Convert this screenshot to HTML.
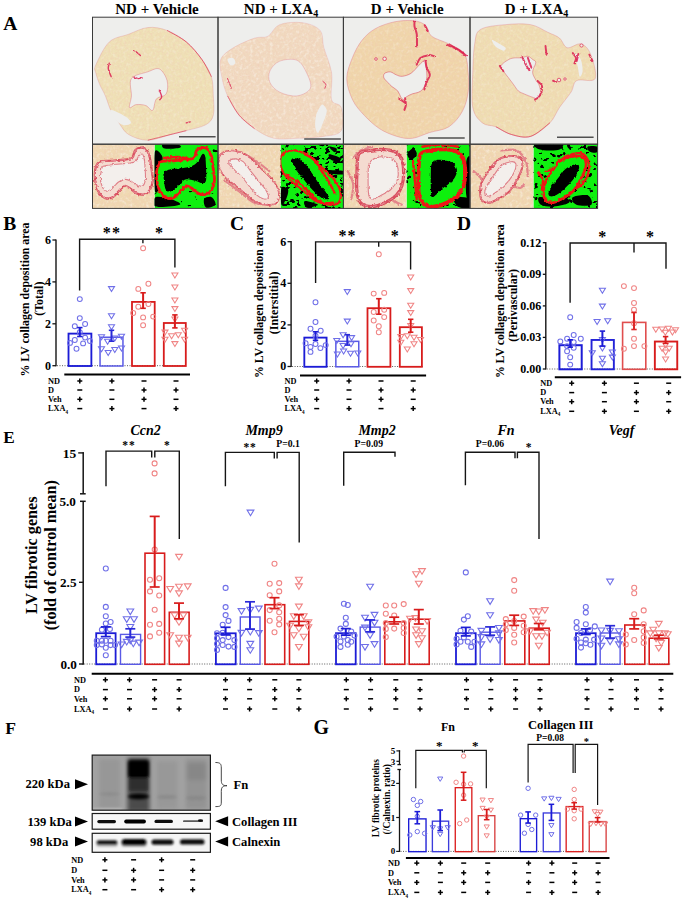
<!DOCTYPE html><html><head><meta charset="utf-8"><style>html,body{margin:0;padding:0;background:#fff;}svg{display:block;}text{font-family:"Liberation Serif",serif;}</style></head><body>
<svg width="685" height="899" viewBox="0 0 685 899">
<rect width="685" height="899" fill="#fff"/>
<text x="3.2" y="30" font-size="19.5" font-weight="bold" font-style="normal" text-anchor="start" fill="#000" >A</text>
<text x="157" y="13.9" font-size="15" font-weight="bold" font-style="normal" text-anchor="middle" fill="#000" >ND + Vehicle</text>
<text x="281" y="13.9" font-size="15" font-weight="bold" text-anchor="middle">ND + LXA<tspan font-size="10" dy="2.9">4</tspan></text>
<text x="407.2" y="13.9" font-size="15" font-weight="bold" font-style="normal" text-anchor="middle" fill="#000" >D + Vehicle</text>
<text x="536.5" y="13.9" font-size="15" font-weight="bold" text-anchor="middle">D + LXA<tspan font-size="10" dy="2.9">4</tspan></text>
<defs><clipPath id="cA"><rect x="92.5" y="17.2" width="505.1" height="191.2"/></clipPath></defs>
<g clip-path="url(#cA)">
<rect x="92.5" y="17.2" width="125.5" height="127" fill="#eeeeec"/>
<rect x="218" y="17.2" width="125.4" height="127" fill="#eeeeec"/>
<rect x="343.4" y="17.2" width="126.6" height="127" fill="#eeeeec"/>
<rect x="470" y="17.2" width="127.6" height="127" fill="#eeeeec"/>
<defs><filter id="mottA" x="0" y="0" width="100%" height="100%" filterUnits="objectBoundingBox"><feTurbulence type="fractalNoise" baseFrequency="0.45" numOctaves="2" seed="4"/><feColorMatrix type="matrix" values="0 0 0 0 0.88  0 0 0 0 0.55  0 0 0 0 0.45  1.6 0 0 0 -0.62"/></filter>
<filter id="mottW" x="0" y="0" width="100%" height="100%" filterUnits="objectBoundingBox"><feTurbulence type="fractalNoise" baseFrequency="0.3" numOctaves="2" seed="9"/><feColorMatrix type="matrix" values="0 0 0 0 1  0 0 0 0 1  0 0 0 0 0.98  2.2 0 0 0 -1.05"/></filter></defs>
<clipPath id="to0"><path d="M95.78 65.1 C98.03 59.96 103.81 47.11 109.27 41.97 C114.73 36.84 122.11 36.68 128.54 34.27 C134.96 31.86 141.38 28.17 147.8 27.52 C154.23 26.88 160.65 28.01 167.07 30.41 C173.49 32.82 180.56 37.16 186.34 41.97 C192.12 46.79 197.58 53.54 201.75 59.32 C205.93 65.1 209.46 70.56 211.39 76.66 C213.31 82.76 212.99 89.5 213.31 95.92 C213.64 102.35 214.6 110.38 213.31 115.19 C212.03 120.01 210.1 122.26 205.61 124.83 C201.11 127.4 192.12 129 186.34 130.61 C180.56 132.21 177.35 132.85 170.92 134.46 C164.5 136.07 154.87 140.24 147.8 140.24 C140.74 140.24 133.35 137.35 128.54 134.46 C123.72 131.57 121.79 126.75 118.9 122.9 C116.01 119.05 113.44 115.83 111.19 111.34 C108.95 106.84 107.34 100.42 105.41 95.92 C103.49 91.43 101.24 88.22 99.63 84.36 C98.03 80.51 96.42 76.01 95.78 72.8 C95.14 69.59 93.53 70.23 95.78 65.1 Z"/></clipPath>
<path d="M95.78 65.1 C98.03 59.96 103.81 47.11 109.27 41.97 C114.73 36.84 122.11 36.68 128.54 34.27 C134.96 31.86 141.38 28.17 147.8 27.52 C154.23 26.88 160.65 28.01 167.07 30.41 C173.49 32.82 180.56 37.16 186.34 41.97 C192.12 46.79 197.58 53.54 201.75 59.32 C205.93 65.1 209.46 70.56 211.39 76.66 C213.31 82.76 212.99 89.5 213.31 95.92 C213.64 102.35 214.6 110.38 213.31 115.19 C212.03 120.01 210.1 122.26 205.61 124.83 C201.11 127.4 192.12 129 186.34 130.61 C180.56 132.21 177.35 132.85 170.92 134.46 C164.5 136.07 154.87 140.24 147.8 140.24 C140.74 140.24 133.35 137.35 128.54 134.46 C123.72 131.57 121.79 126.75 118.9 122.9 C116.01 119.05 113.44 115.83 111.19 111.34 C108.95 106.84 107.34 100.42 105.41 95.92 C103.49 91.43 101.24 88.22 99.63 84.36 C98.03 80.51 96.42 76.01 95.78 72.8 C95.14 69.59 93.53 70.23 95.78 65.1 Z" fill="#efe1b6"/>
<g clip-path="url(#to0)"><rect x="92.5" y="17.2" width="125.5" height="127" filter="url(#mottA)" opacity="0.45"/><rect x="92.5" y="17.2" width="125.5" height="127" filter="url(#mottW)" opacity="0.3"/></g>
<path d="M95.78 65.1 C98.03 59.96 103.81 47.11 109.27 41.97 C114.73 36.84 122.11 36.68 128.54 34.27 C134.96 31.86 141.38 28.17 147.8 27.52 C154.23 26.88 160.65 28.01 167.07 30.41 C173.49 32.82 180.56 37.16 186.34 41.97 C192.12 46.79 197.58 53.54 201.75 59.32 C205.93 65.1 209.46 70.56 211.39 76.66 C213.31 82.76 212.99 89.5 213.31 95.92 C213.64 102.35 214.6 110.38 213.31 115.19 C212.03 120.01 210.1 122.26 205.61 124.83 C201.11 127.4 192.12 129 186.34 130.61 C180.56 132.21 177.35 132.85 170.92 134.46 C164.5 136.07 154.87 140.24 147.8 140.24 C140.74 140.24 133.35 137.35 128.54 134.46 C123.72 131.57 121.79 126.75 118.9 122.9 C116.01 119.05 113.44 115.83 111.19 111.34 C108.95 106.84 107.34 100.42 105.41 95.92 C103.49 91.43 101.24 88.22 99.63 84.36 C98.03 80.51 96.42 76.01 95.78 72.8 C95.14 69.59 93.53 70.23 95.78 65.1 Z" fill="none" stroke="#e07a8a" stroke-width="0.8" stroke-opacity="0.35"/>
<path d="M131.43 78.58 C134.16 74.57 143.15 73.45 147.8 71.84 C152.46 70.23 156.15 67.5 159.36 68.95 C162.58 70.39 165.95 76.34 167.07 80.51 C168.2 84.69 167.87 90.95 166.11 94 C164.34 97.05 158.72 96.09 156.47 98.82 C154.23 101.54 154.39 109.25 152.62 110.38 C150.85 111.5 148.61 106.52 145.88 105.56 C143.15 104.6 138.97 104.27 136.24 104.6 C133.51 104.92 130.3 108.93 129.5 107.49 C128.7 106.04 131.1 100.74 131.43 95.92 C131.75 91.11 128.7 82.6 131.43 78.58 Z" fill="#eeeeec" stroke="#d8405a" stroke-width="0.9" stroke-opacity="0.35"/>
<clipPath id="to1"><path d="M220.82 59.32 C222.74 54.5 227.72 51.29 233.34 47.76 C238.96 44.22 248.76 40.05 254.54 38.12 C260.32 36.19 263.85 38.44 268.02 36.19 C272.2 33.95 273.8 26.88 279.58 24.63 C285.36 22.39 295.96 21.74 302.71 22.71 C309.45 23.67 316.51 26.24 320.05 30.41 C323.58 34.59 321.97 40.69 323.9 47.76 C325.83 54.82 330.32 64.13 331.61 72.8 C332.89 81.47 330 94 331.61 99.78 C333.21 105.56 339.64 102.35 341.24 107.49 C342.85 112.62 344.13 125.79 341.24 130.61 C338.35 135.42 331.29 135.1 323.9 136.39 C316.51 137.67 305.27 137.99 296.92 138.31 C288.58 138.64 280.87 139.92 273.8 138.31 C266.74 136.71 260.32 132.53 254.54 128.68 C248.76 124.83 243.62 120.65 239.12 115.19 C234.63 109.73 230.45 102.35 227.56 95.92 C224.67 89.5 222.9 82.76 221.78 76.66 C220.66 70.56 218.89 64.13 220.82 59.32 Z"/></clipPath>
<path d="M220.82 59.32 C222.74 54.5 227.72 51.29 233.34 47.76 C238.96 44.22 248.76 40.05 254.54 38.12 C260.32 36.19 263.85 38.44 268.02 36.19 C272.2 33.95 273.8 26.88 279.58 24.63 C285.36 22.39 295.96 21.74 302.71 22.71 C309.45 23.67 316.51 26.24 320.05 30.41 C323.58 34.59 321.97 40.69 323.9 47.76 C325.83 54.82 330.32 64.13 331.61 72.8 C332.89 81.47 330 94 331.61 99.78 C333.21 105.56 339.64 102.35 341.24 107.49 C342.85 112.62 344.13 125.79 341.24 130.61 C338.35 135.42 331.29 135.1 323.9 136.39 C316.51 137.67 305.27 137.99 296.92 138.31 C288.58 138.64 280.87 139.92 273.8 138.31 C266.74 136.71 260.32 132.53 254.54 128.68 C248.76 124.83 243.62 120.65 239.12 115.19 C234.63 109.73 230.45 102.35 227.56 95.92 C224.67 89.5 222.9 82.76 221.78 76.66 C220.66 70.56 218.89 64.13 220.82 59.32 Z" fill="#f1dac0"/>
<g clip-path="url(#to1)"><rect x="218" y="17.2" width="125.4" height="127" filter="url(#mottA)" opacity="0.45"/><rect x="218" y="17.2" width="125.4" height="127" filter="url(#mottW)" opacity="0.5"/></g>
<path d="M220.82 59.32 C222.74 54.5 227.72 51.29 233.34 47.76 C238.96 44.22 248.76 40.05 254.54 38.12 C260.32 36.19 263.85 38.44 268.02 36.19 C272.2 33.95 273.8 26.88 279.58 24.63 C285.36 22.39 295.96 21.74 302.71 22.71 C309.45 23.67 316.51 26.24 320.05 30.41 C323.58 34.59 321.97 40.69 323.9 47.76 C325.83 54.82 330.32 64.13 331.61 72.8 C332.89 81.47 330 94 331.61 99.78 C333.21 105.56 339.64 102.35 341.24 107.49 C342.85 112.62 344.13 125.79 341.24 130.61 C338.35 135.42 331.29 135.1 323.9 136.39 C316.51 137.67 305.27 137.99 296.92 138.31 C288.58 138.64 280.87 139.92 273.8 138.31 C266.74 136.71 260.32 132.53 254.54 128.68 C248.76 124.83 243.62 120.65 239.12 115.19 C234.63 109.73 230.45 102.35 227.56 95.92 C224.67 89.5 222.9 82.76 221.78 76.66 C220.66 70.56 218.89 64.13 220.82 59.32 Z" fill="none" stroke="#e07a8a" stroke-width="0.8" stroke-opacity="0.25"/>
<path d="M269.95 70.88 C271.56 67.34 275.09 63.01 279.58 61.24 C284.08 59.48 292.43 58.35 296.92 60.28 C301.42 62.21 304.31 68.15 306.56 72.8 C308.81 77.46 312.02 84.36 310.41 88.22 C308.81 92.07 302.06 95.28 296.92 95.92 C291.79 96.57 284.08 94.32 279.58 92.07 C275.09 89.82 271.56 85.97 269.95 82.44 C268.34 78.9 268.34 74.41 269.95 70.88 Z" fill="#eeeeec" stroke="#d8405a" stroke-width="0.9" stroke-opacity="0.25"/>
<clipPath id="to2"><path d="M346.78 78.58 C346.78 71.52 349.99 63.81 352.56 57.39 C355.13 50.97 358.34 44.87 362.19 40.05 C366.05 35.23 370.22 31.54 375.68 28.49 C381.14 25.44 388.53 23.03 394.95 21.74 C401.37 20.46 409.08 20.14 414.22 20.78 C419.36 21.42 422.89 23.03 425.78 25.6 C428.67 28.17 427.71 33.14 431.56 36.19 C435.41 39.25 443.44 41.01 448.9 43.9 C454.36 46.79 461.1 48.72 464.31 53.54 C467.53 58.35 467.53 66.38 468.17 72.8 C468.81 79.23 469.13 85.65 468.17 92.07 C467.2 98.49 465.6 105.56 462.39 111.34 C459.18 117.12 454.36 123.22 448.9 126.75 C443.44 130.29 435.73 130.61 429.63 132.53 C423.53 134.46 417.75 137.67 412.29 138.31 C406.83 138.96 402.34 137.99 396.88 136.39 C391.42 134.78 384.99 132.21 379.54 128.68 C374.08 125.15 368.62 120.01 364.12 115.19 C359.63 110.38 355.45 105.88 352.56 99.78 C349.67 93.68 346.78 85.65 346.78 78.58 Z"/></clipPath>
<path d="M346.78 78.58 C346.78 71.52 349.99 63.81 352.56 57.39 C355.13 50.97 358.34 44.87 362.19 40.05 C366.05 35.23 370.22 31.54 375.68 28.49 C381.14 25.44 388.53 23.03 394.95 21.74 C401.37 20.46 409.08 20.14 414.22 20.78 C419.36 21.42 422.89 23.03 425.78 25.6 C428.67 28.17 427.71 33.14 431.56 36.19 C435.41 39.25 443.44 41.01 448.9 43.9 C454.36 46.79 461.1 48.72 464.31 53.54 C467.53 58.35 467.53 66.38 468.17 72.8 C468.81 79.23 469.13 85.65 468.17 92.07 C467.2 98.49 465.6 105.56 462.39 111.34 C459.18 117.12 454.36 123.22 448.9 126.75 C443.44 130.29 435.73 130.61 429.63 132.53 C423.53 134.46 417.75 137.67 412.29 138.31 C406.83 138.96 402.34 137.99 396.88 136.39 C391.42 134.78 384.99 132.21 379.54 128.68 C374.08 125.15 368.62 120.01 364.12 115.19 C359.63 110.38 355.45 105.88 352.56 99.78 C349.67 93.68 346.78 85.65 346.78 78.58 Z" fill="#f0d6aa"/>
<g clip-path="url(#to2)"><rect x="343.4" y="17.2" width="126.6" height="127" filter="url(#mottA)" opacity="0.45"/><rect x="343.4" y="17.2" width="126.6" height="127" filter="url(#mottW)" opacity="0.3"/></g>
<path d="M346.78 78.58 C346.78 71.52 349.99 63.81 352.56 57.39 C355.13 50.97 358.34 44.87 362.19 40.05 C366.05 35.23 370.22 31.54 375.68 28.49 C381.14 25.44 388.53 23.03 394.95 21.74 C401.37 20.46 409.08 20.14 414.22 20.78 C419.36 21.42 422.89 23.03 425.78 25.6 C428.67 28.17 427.71 33.14 431.56 36.19 C435.41 39.25 443.44 41.01 448.9 43.9 C454.36 46.79 461.1 48.72 464.31 53.54 C467.53 58.35 467.53 66.38 468.17 72.8 C468.81 79.23 469.13 85.65 468.17 92.07 C467.2 98.49 465.6 105.56 462.39 111.34 C459.18 117.12 454.36 123.22 448.9 126.75 C443.44 130.29 435.73 130.61 429.63 132.53 C423.53 134.46 417.75 137.67 412.29 138.31 C406.83 138.96 402.34 137.99 396.88 136.39 C391.42 134.78 384.99 132.21 379.54 128.68 C374.08 125.15 368.62 120.01 364.12 115.19 C359.63 110.38 355.45 105.88 352.56 99.78 C349.67 93.68 346.78 85.65 346.78 78.58 Z" fill="none" stroke="#e07a8a" stroke-width="0.8" stroke-opacity="0.55"/>
<path d="M384.6 73.39 C385.69 72.42 388.49 71.69 390.44 71.93 C392.38 72.18 394.33 74.12 396.28 74.85 C398.22 75.58 399.68 76.56 402.12 76.31 C404.55 76.07 408.2 75.1 410.88 73.39 C413.55 71.69 416.23 68.04 418.18 66.09 C420.12 64.15 421.34 62.69 422.55 61.72 C423.77 60.74 424.87 59.28 425.47 60.26 C426.08 61.23 425.96 64.88 426.2 67.55 C426.45 70.23 427.06 73.64 426.93 76.31 C426.81 78.99 426.2 81.42 425.47 83.61 C424.74 85.8 423.77 87.99 422.55 89.45 C421.34 90.91 419.88 91.64 418.18 92.37 C416.47 93.1 414.28 93.1 412.34 93.83 C410.39 94.56 407.96 95.78 406.5 96.75 C405.04 97.73 404.55 99.67 403.58 99.67 C402.6 99.67 401.63 98.21 400.66 96.75 C399.68 95.29 399.2 92.62 397.74 90.91 C396.28 89.21 393.6 87.99 391.9 86.53 C390.19 85.07 388.86 83.61 387.52 82.15 C386.18 80.69 384.36 79.23 383.87 77.77 C383.38 76.31 383.5 74.37 384.6 73.39 Z" fill="#eeeeec" stroke="#d8405a" stroke-width="0.9" stroke-opacity="0.55"/>
<clipPath id="to3"><path d="M474.71 43.9 C475.99 36.68 475.35 32.66 480.49 29.45 C485.63 26.24 497.19 25.44 505.54 24.63 C513.89 23.83 523.52 23.35 530.58 24.63 C537.65 25.92 543.11 30.09 547.92 32.34 C552.74 34.59 556.27 35.55 559.49 38.12 C562.7 40.69 563.66 46.79 567.19 47.76 C570.73 48.72 576.83 42.94 580.68 43.9 C584.53 44.87 587.91 47.76 590.31 53.54 C592.72 59.32 597.38 74.09 595.13 78.58 C592.88 83.08 580.84 78.26 576.83 80.51 C572.81 82.76 573.94 87.58 571.05 92.07 C568.16 96.57 563.02 102.35 559.49 107.49 C555.95 112.62 554.67 118.08 549.85 122.9 C545.03 127.72 537.01 134.46 530.58 136.39 C524.16 138.31 517.1 136.07 511.32 134.46 C505.54 132.85 500.72 128.68 495.9 126.75 C491.08 124.83 486.27 126.11 482.41 122.9 C478.56 119.69 474.39 115.83 472.78 107.49 C471.17 99.14 472.46 83.4 472.78 72.8 C473.1 62.21 473.42 51.13 474.71 43.9 Z"/></clipPath>
<path d="M474.71 43.9 C475.99 36.68 475.35 32.66 480.49 29.45 C485.63 26.24 497.19 25.44 505.54 24.63 C513.89 23.83 523.52 23.35 530.58 24.63 C537.65 25.92 543.11 30.09 547.92 32.34 C552.74 34.59 556.27 35.55 559.49 38.12 C562.7 40.69 563.66 46.79 567.19 47.76 C570.73 48.72 576.83 42.94 580.68 43.9 C584.53 44.87 587.91 47.76 590.31 53.54 C592.72 59.32 597.38 74.09 595.13 78.58 C592.88 83.08 580.84 78.26 576.83 80.51 C572.81 82.76 573.94 87.58 571.05 92.07 C568.16 96.57 563.02 102.35 559.49 107.49 C555.95 112.62 554.67 118.08 549.85 122.9 C545.03 127.72 537.01 134.46 530.58 136.39 C524.16 138.31 517.1 136.07 511.32 134.46 C505.54 132.85 500.72 128.68 495.9 126.75 C491.08 124.83 486.27 126.11 482.41 122.9 C478.56 119.69 474.39 115.83 472.78 107.49 C471.17 99.14 472.46 83.4 472.78 72.8 C473.1 62.21 473.42 51.13 474.71 43.9 Z" fill="#efdeb2"/>
<g clip-path="url(#to3)"><rect x="470" y="17.2" width="127.6" height="127" filter="url(#mottA)" opacity="0.45"/><rect x="470" y="17.2" width="127.6" height="127" filter="url(#mottW)" opacity="0.3"/></g>
<path d="M474.71 43.9 C475.99 36.68 475.35 32.66 480.49 29.45 C485.63 26.24 497.19 25.44 505.54 24.63 C513.89 23.83 523.52 23.35 530.58 24.63 C537.65 25.92 543.11 30.09 547.92 32.34 C552.74 34.59 556.27 35.55 559.49 38.12 C562.7 40.69 563.66 46.79 567.19 47.76 C570.73 48.72 576.83 42.94 580.68 43.9 C584.53 44.87 587.91 47.76 590.31 53.54 C592.72 59.32 597.38 74.09 595.13 78.58 C592.88 83.08 580.84 78.26 576.83 80.51 C572.81 82.76 573.94 87.58 571.05 92.07 C568.16 96.57 563.02 102.35 559.49 107.49 C555.95 112.62 554.67 118.08 549.85 122.9 C545.03 127.72 537.01 134.46 530.58 136.39 C524.16 138.31 517.1 136.07 511.32 134.46 C505.54 132.85 500.72 128.68 495.9 126.75 C491.08 124.83 486.27 126.11 482.41 122.9 C478.56 119.69 474.39 115.83 472.78 107.49 C471.17 99.14 472.46 83.4 472.78 72.8 C473.1 62.21 473.42 51.13 474.71 43.9 Z" fill="none" stroke="#e07a8a" stroke-width="0.8" stroke-opacity="0.45"/>
<path d="M501.04 65.74 C501.83 63.64 506.56 60.75 508.93 59.43 C511.29 58.12 513.13 58.12 515.24 57.85 C517.34 57.59 519.44 58.12 521.55 57.85 C523.65 57.59 526.01 56.01 527.85 56.28 C529.7 56.54 531.27 58.38 532.59 59.43 C533.9 60.48 535.74 60.48 535.74 62.59 C535.74 64.69 532.59 69.16 532.59 72.05 C532.59 74.94 534.69 77.83 535.74 79.94 C536.79 82.04 538.11 82.57 538.9 84.67 C539.68 86.77 540.74 90.19 540.47 92.56 C540.21 94.92 538.63 98.08 537.32 98.86 C536 99.65 534.69 98.08 532.59 97.29 C530.48 96.5 527.07 95.18 524.7 94.13 C522.33 93.08 520.23 92.56 518.39 90.98 C516.55 89.4 515.24 86.77 513.66 84.67 C512.08 82.57 510.5 80.46 508.93 78.36 C507.35 76.26 505.51 74.15 504.2 72.05 C502.88 69.95 500.25 67.84 501.04 65.74 Z" fill="#eeeeec" stroke="#d8405a" stroke-width="0.9" stroke-opacity="0.45"/>
<path d="M110.23 110.38 C110.71 109.09 116.01 111.6 118.9 112.88 C121.79 114.17 125.58 116.35 127.57 118.08 C129.56 119.82 131.49 122.1 130.85 123.29 C130.21 124.47 126.19 125.66 123.72 125.21 C121.25 124.76 118.26 123.06 116.01 120.59 C113.76 118.11 109.75 111.66 110.23 110.38 Z" fill="#eeeeec"/>
<path d="M321.01 105.56 C319.73 107.16 317.16 111.66 316.19 115.19 C315.23 118.73 314.91 123.86 315.23 126.75 C315.55 129.64 316.83 133.18 318.12 132.53 C319.4 131.89 321.49 126.43 322.94 122.9 C324.38 119.37 326.63 114.23 326.79 111.34 C326.95 108.45 324.86 106.52 323.9 105.56 C322.94 104.6 322.29 103.95 321.01 105.56 Z" fill="#eeeeec"/>
<path d="M227.56 59.32 C228.04 58.19 232.06 57.71 233.34 58.35 C234.63 58.99 235.75 62.05 235.27 63.17 C234.79 64.29 231.74 65.74 230.45 65.1 C229.17 64.45 227.08 60.44 227.56 59.32 Z" fill="#eeeeec"/>
<path d="M492.05 40.05 C492.69 39.57 497.51 42.62 499.76 43.9 C502 45.19 504.89 46.63 505.54 47.76 C506.18 48.88 505.21 50.81 503.61 50.65 C502 50.48 497.83 48.56 495.9 46.79 C493.97 45.03 491.41 40.53 492.05 40.05 Z" fill="#eeeeec"/>
<path d="M574.9 53.54 C575.38 52.25 579.4 56.43 580.68 59.32 C581.96 62.21 582.77 67.99 582.61 70.88 C582.45 73.77 580.52 77.3 579.72 76.66 C578.91 76.01 578.59 70.88 577.79 67.02 C576.99 63.17 574.42 54.82 574.9 53.54 Z" fill="#eeeeec"/>
<path d="M167.07 30.41 C170.28 32.34 180.56 37.16 186.34 41.97 C192.12 46.79 197.58 53.54 201.75 59.32 C205.93 65.1 209.78 73.77 211.39 76.66" fill="none" stroke="#dc3050" stroke-width="0.9" stroke-opacity="0.8"/>
<path d="M147.8 140.24 C151.66 139.28 164.5 136.07 170.92 134.46 C177.35 132.85 183.77 131.25 186.34 130.61" fill="none" stroke="#dc3050" stroke-width="0.8" stroke-opacity="0.8"/>
<path d="M227.56 95.92 C229.49 99.14 234.63 109.73 239.12 115.19 C243.62 120.65 251.97 126.43 254.54 128.68" fill="none" stroke="#dc3050" stroke-width="0.8" stroke-opacity="0.8"/>
<path d="M448.9 43.9 C451.47 45.51 461.75 51.93 464.31 53.54" fill="none" stroke="#dc3050" stroke-width="1.4" stroke-opacity="0.8"/>
<path d="M495.9 126.75 C498.47 128.04 505.54 132.85 511.32 134.46 C517.1 136.07 524.16 138.31 530.58 136.39 C537.01 134.46 546.64 125.15 549.85 122.9" fill="none" stroke="#dc3050" stroke-width="0.8" stroke-opacity="0.8"/>
<defs><filter id="wob" x="-10%" y="-10%" width="120%" height="120%"><feTurbulence type="fractalNoise" baseFrequency="0.6" numOctaves="2" seed="2" result="t"/><feDisplacementMap in="SourceGraphic" in2="t" scale="2.6" xChannelSelector="R" yChannelSelector="G"/></filter></defs>
<g filter="url(#wob)">
<path d="M133.35 76.66 C134.16 76.98 136.72 78.42 138.17 78.58 C139.61 78.74 141.38 77.78 142.02 77.62" fill="none" stroke="#dc1e50" stroke-width="1.4" stroke-linecap="round" stroke-linejoin="round" stroke-opacity="0.85"/>
<path d="M159.36 90.14 C159.75 91.27 161.61 95.28 161.68 96.89 C161.74 98.49 160.07 99.3 159.75 99.78" fill="none" stroke="#dc1e50" stroke-width="1.4" stroke-linecap="round" stroke-linejoin="round" stroke-opacity="0.85"/>
<path d="M134.7 50.65 C135.28 51.13 137.21 52.73 138.17 53.54 C139.13 54.34 140.1 55.14 140.48 55.46" fill="none" stroke="#dc1e50" stroke-width="1.4" stroke-linecap="round" stroke-linejoin="round" stroke-opacity="0.85"/>
<path d="M109.27 63.17 C109.11 64.13 107.98 66.7 108.3 68.95 C108.63 71.2 110.71 75.37 111.19 76.66" fill="none" stroke="#dc1e50" stroke-width="1.4" stroke-linecap="round" stroke-linejoin="round" stroke-opacity="0.85"/>
<path d="M186.34 122.9 C186.98 122.74 189.55 122.1 190.19 121.94" fill="none" stroke="#dc1e50" stroke-width="1.4" stroke-linecap="round" stroke-linejoin="round" stroke-opacity="0.85"/>
<path d="M322.94 81.47 C323.42 81.96 325.51 83.24 325.83 84.36 C326.15 85.49 325.02 87.58 324.86 88.22" fill="none" stroke="#dc1e50" stroke-width="1.0" stroke-linecap="round" stroke-linejoin="round" stroke-opacity="0.85"/>
<path d="M227.56 78.58 C228.2 80.19 230.77 86.61 231.41 88.22" fill="none" stroke="#dc1e50" stroke-width="1.0" stroke-linecap="round" stroke-linejoin="round" stroke-opacity="0.85"/>
<path d="M416.72 64.64 C417.32 63.54 418.42 59.65 420.36 58.07 C422.31 56.48 426.08 55.46 428.39 55.15 C430.71 54.83 433.26 56 434.23 56.17" fill="none" stroke="#dc1e50" stroke-width="2.0" stroke-linecap="round" stroke-linejoin="round" stroke-opacity="0.85"/>
<path d="M425.47 60.99 C425.67 62.08 425.91 65.24 426.64 67.55 C427.37 69.87 429.76 72.66 429.85 74.85 C429.95 77.04 428.15 78.26 427.23 80.69 C426.3 83.13 424.79 87.99 424.31 89.45" fill="none" stroke="#dc1e50" stroke-width="2.0" stroke-linecap="round" stroke-linejoin="round" stroke-opacity="0.85"/>
<path d="M405.04 98.21 C405.18 99.31 406.01 102.83 405.91 104.78 C405.82 106.73 404.7 109.04 404.45 109.89" fill="none" stroke="#dc1e50" stroke-width="2.0" stroke-linecap="round" stroke-linejoin="round" stroke-opacity="0.85"/>
<path d="M414.53 21.57 C414.53 22.42 414.16 24.61 414.53 26.68 C414.89 28.75 416.3 30.69 416.72 33.98 C417.13 37.26 416.96 44.32 417.01 46.39" fill="none" stroke="#dc1e50" stroke-width="2.0" stroke-linecap="round" stroke-linejoin="round" stroke-opacity="0.85"/>
<path d="M424.74 25.22 C425.23 26.19 427.18 30.09 427.66 31.06" fill="none" stroke="#dc1e50" stroke-width="2.0" stroke-linecap="round" stroke-linejoin="round" stroke-opacity="0.85"/>
<path d="M447.37 44.93 C449.08 45.66 454.43 47.48 457.59 49.31 C460.75 51.13 464.89 54.78 466.35 55.88" fill="none" stroke="#dc1e50" stroke-width="2.0" stroke-linecap="round" stroke-linejoin="round" stroke-opacity="0.85"/>
<path d="M399.2 98.94 C400.17 99.55 404.06 101.98 405.04 102.59" fill="none" stroke="#dc1e50" stroke-width="2.0" stroke-linecap="round" stroke-linejoin="round" stroke-opacity="0.85"/>
<path d="M499.78 66.06 C500.38 66.92 502.8 70.39 503.41 71.26" fill="none" stroke="#dc1e50" stroke-width="1.9" stroke-linecap="round" stroke-linejoin="round" stroke-opacity="0.85"/>
<path d="M522.33 57.07 C522.86 58.25 524.31 61.93 525.49 64.16 C526.67 66.4 528.77 69.42 529.43 70.47" fill="none" stroke="#dc1e50" stroke-width="1.9" stroke-linecap="round" stroke-linejoin="round" stroke-opacity="0.85"/>
<path d="M527.85 57.85 C528.43 59.43 530.75 65.74 531.32 67.32" fill="none" stroke="#dc1e50" stroke-width="1.9" stroke-linecap="round" stroke-linejoin="round" stroke-opacity="0.85"/>
<path d="M537.32 80.73 C538.11 81.65 541.66 83.75 542.05 86.25 C542.44 88.74 540.87 93.48 539.68 95.71 C538.5 97.94 535.74 99 534.95 99.65" fill="none" stroke="#dc1e50" stroke-width="1.9" stroke-linecap="round" stroke-linejoin="round" stroke-opacity="0.85"/>
<path d="M545.52 46.03 C545.68 47.47 546.31 53.25 546.47 54.7" fill="none" stroke="#dc1e50" stroke-width="1.9" stroke-linecap="round" stroke-linejoin="round" stroke-opacity="0.85"/>
<path d="M572.81 53.12 C573.33 53.91 575.7 56.15 575.96 57.85 C576.23 59.56 574.65 62.46 574.38 63.38" fill="none" stroke="#dc1e50" stroke-width="1.9" stroke-linecap="round" stroke-linejoin="round" stroke-opacity="0.85"/>
<path d="M578.33 53.91 C578.07 55.09 577.01 59.83 576.75 61.01" fill="none" stroke="#dc1e50" stroke-width="1.9" stroke-linecap="round" stroke-linejoin="round" stroke-opacity="0.85"/>
<path d="M589.37 54.7 C589.89 55.75 592 59.96 592.52 61.01" fill="none" stroke="#dc1e50" stroke-width="1.9" stroke-linecap="round" stroke-linejoin="round" stroke-opacity="0.85"/>
<path d="M553.09 80.73 C553.62 80.91 555.72 81.65 556.25 81.83" fill="none" stroke="#dc1e50" stroke-width="1.9" stroke-linecap="round" stroke-linejoin="round" stroke-opacity="0.85"/>
</g>
<circle cx="384.6" cy="58.8" r="1.8" fill="#f4eee6" stroke="#e04a6a" stroke-width="0.9"/>
<circle cx="376" cy="59" r="1.3" fill="#f4eee6" stroke="#e04a6a" stroke-width="0.9"/>
<circle cx="559" cy="80" r="1.8" fill="#f4eee6" stroke="#e04a6a" stroke-width="0.9"/>
<circle cx="565" cy="79" r="1.2" fill="#f4eee6" stroke="#e04a6a" stroke-width="0.9"/>
<circle cx="581.5" cy="45.5" r="1.6" fill="#f4eee6" stroke="#e04a6a" stroke-width="0.9"/>
<line x1="179" y1="136.8" x2="215.6" y2="136.8" stroke="#505050" stroke-width="1.5" />
<line x1="304.2" y1="138.9" x2="340.9" y2="138.9" stroke="#505050" stroke-width="1.5" />
<line x1="428.1" y1="137.9" x2="464.7" y2="137.9" stroke="#505050" stroke-width="1.5" />
<line x1="557" y1="137.3" x2="593.6" y2="137.3" stroke="#505050" stroke-width="1.5" />
<defs>
<filter id="spk0" x="0" y="0" width="100%" height="100%" filterUnits="objectBoundingBox"><feTurbulence type="fractalNoise" baseFrequency="0.16 0.22" numOctaves="2" seed="7"/><feColorMatrix type="matrix" values="0 0 0 0 0  0 0 0 0 0  0 0 0 0 0  18 0 0 0 -12.5"/></filter>
<filter id="spk1" x="0" y="0" width="100%" height="100%" filterUnits="objectBoundingBox"><feTurbulence type="fractalNoise" baseFrequency="0.2 0.28" numOctaves="2" seed="11"/><feColorMatrix type="matrix" values="0 0 0 0 0  0 0 0 0 0  0 0 0 0 0  18 0 0 0 -10.2"/></filter>
<filter id="spk2" x="0" y="0" width="100%" height="100%" filterUnits="objectBoundingBox"><feTurbulence type="fractalNoise" baseFrequency="0.18 0.24" numOctaves="2" seed="5"/><feColorMatrix type="matrix" values="0 0 0 0 0  0 0 0 0 0  0 0 0 0 0  18 0 0 0 -11.5"/></filter>
<filter id="spk3" x="0" y="0" width="100%" height="100%" filterUnits="objectBoundingBox"><feTurbulence type="fractalNoise" baseFrequency="0.18 0.24" numOctaves="2" seed="9"/><feColorMatrix type="matrix" values="0 0 0 0 0  0 0 0 0 0  0 0 0 0 0  18 0 0 0 -11.0"/></filter>
<filter id="mott" x="0" y="0" width="100%" height="100%" filterUnits="objectBoundingBox"><feTurbulence type="fractalNoise" baseFrequency="0.35" numOctaves="2" seed="3"/><feColorMatrix type="matrix" values="0 0 0 0 0.85  0 0 0 0 0.45  0 0 0 0 0.35  1.2 0 0 0 -0.45"/></filter>
<filter id="wob2" x="-10%" y="-10%" width="120%" height="120%"><feTurbulence type="fractalNoise" baseFrequency="0.35" numOctaves="2" seed="5" result="t"/><feDisplacementMap in="SourceGraphic" in2="t" scale="3.2" xChannelSelector="R" yChannelSelector="G"/></filter>
</defs>
<clipPath id="cl0"><rect x="92.5" y="144.2" width="62" height="64.2"/></clipPath>
<clipPath id="cr0"><rect x="154.5" y="144.2" width="63.5" height="64.2"/></clipPath>
<g clip-path="url(#cl0)"><rect x="92.5" y="144.2" width="62" height="64.2" fill="#f0d9b2"/>
<rect x="92.5" y="144.2" width="62" height="64.2" filter="url(#mottW)" opacity="0.55"/>
<rect x="92.5" y="144.2" width="62" height="64.2" filter="url(#mottA)" opacity="0.5"/>
<g filter="url(#wob2)">
<path d="M95.74 167.3 C96.52 165.12 96.98 162.78 99.48 161.69 C101.97 160.6 106.95 161.07 110.69 160.76 C114.43 160.45 118.32 160.29 121.91 159.82 C125.49 159.36 130.01 159.51 132.19 157.95 C134.37 156.4 133.59 152.19 134.99 150.48 C136.39 148.76 138.73 147.83 140.6 147.67 C142.47 147.52 144.65 147.83 146.21 149.54 C147.76 151.26 149.01 154.37 149.94 157.95 C150.88 161.54 151.35 167.3 151.81 171.04 C152.28 174.78 153.06 177.27 152.75 180.38 C152.44 183.5 151.35 187.39 149.94 189.73 C148.54 192.07 146.52 193.78 144.34 194.4 C142.16 195.02 139.35 194.56 136.86 193.47 C134.37 192.38 131.41 189.11 129.38 187.86 C127.36 186.61 126.27 185.68 124.71 185.99 C123.15 186.3 122.06 187.86 120.04 189.73 C118.01 191.6 115.05 195.8 112.56 197.21 C110.07 198.61 107.26 198.76 105.08 198.14 C102.9 197.52 101.03 195.8 99.48 193.47 C97.92 191.13 96.52 187.24 95.74 184.12 C94.96 181.01 94.8 177.58 94.8 174.78 C94.8 171.97 94.96 169.48 95.74 167.3 Z" fill="#f4dbd0" stroke="#d9505f" stroke-width="2.2"/>
<path d="M95.74 167.3 C96.52 165.12 96.98 162.78 99.48 161.69 C101.97 160.6 106.95 161.07 110.69 160.76 C114.43 160.45 118.32 160.29 121.91 159.82 C125.49 159.36 130.01 159.51 132.19 157.95 C134.37 156.4 133.59 152.19 134.99 150.48 C136.39 148.76 138.73 147.83 140.6 147.67 C142.47 147.52 144.65 147.83 146.21 149.54 C147.76 151.26 149.01 154.37 149.94 157.95 C150.88 161.54 151.35 167.3 151.81 171.04 C152.28 174.78 153.06 177.27 152.75 180.38 C152.44 183.5 151.35 187.39 149.94 189.73 C148.54 192.07 146.52 193.78 144.34 194.4 C142.16 195.02 139.35 194.56 136.86 193.47 C134.37 192.38 131.41 189.11 129.38 187.86 C127.36 186.61 126.27 185.68 124.71 185.99 C123.15 186.3 122.06 187.86 120.04 189.73 C118.01 191.6 115.05 195.8 112.56 197.21 C110.07 198.61 107.26 198.76 105.08 198.14 C102.9 197.52 101.03 195.8 99.48 193.47 C97.92 191.13 96.52 187.24 95.74 184.12 C94.96 181.01 94.8 177.58 94.8 174.78 C94.8 171.97 94.96 169.48 95.74 167.3 Z" fill="none" stroke="#e8909a" stroke-width="0.9" transform="translate(0 0)" stroke-dasharray="6 3"/>
<path d="M101.35 171.04 C101.81 169.32 101.03 167.45 103.21 166.36 C105.4 165.27 110.69 164.96 114.43 164.5 C118.17 164.03 122.22 164.03 125.64 163.56 C129.07 163.09 132.81 162.94 134.99 161.69 C137.17 160.45 137.48 157.33 138.73 156.08 C139.98 154.84 141.53 153.59 142.47 154.21 C143.4 154.84 143.87 157.02 144.34 159.82 C144.8 162.63 145.12 167.61 145.27 171.04 C145.43 174.46 145.74 177.89 145.27 180.38 C144.8 182.88 143.87 185.21 142.47 185.99 C141.07 186.77 139.04 185.99 136.86 185.06 C134.68 184.12 131.56 181.32 129.38 180.38 C127.2 179.45 125.64 179.14 123.78 179.45 C121.91 179.76 120.35 180.54 118.17 182.25 C115.99 183.97 112.87 188.33 110.69 189.73 C108.51 191.13 106.64 191.6 105.08 190.66 C103.53 189.73 102.12 186.46 101.35 184.12 C100.57 181.79 100.41 178.83 100.41 176.64 C100.41 174.46 100.88 172.75 101.35 171.04 Z" fill="#f3efec" stroke="#df7f88" stroke-width="1.1"/></g></g>
<g clip-path="url(#cr0)"><rect x="154.5" y="144.2" width="63.5" height="64.2" fill="#10f010"/>
<rect x="154.5" y="144.2" width="63.5" height="64.2" fill="#000" filter="url(#spk0)"/>
<path d="M154.62 152.35 C155.86 146.74 160.94 153.59 162.09 156.08 C163.25 158.58 161.94 162 161.53 167.3 C161.13 172.6 160.82 184.12 159.66 187.86 C158.51 191.6 155.46 195.65 154.62 189.73 C153.78 183.81 153.37 157.95 154.62 152.35 Z" fill="#000"/>
<path d="M155.55 197.21 C158.04 195.96 166.45 197.83 170.5 199.07 C174.55 200.32 182.34 203.44 179.85 204.68 C177.36 205.93 159.6 207.8 155.55 206.55 C151.5 205.31 153.06 198.45 155.55 197.21 Z" fill="#000"/>
<path d="M204.15 199.07 C205.08 197.36 209.76 196.27 211.63 197.21 C213.5 198.14 216.3 202.97 215.36 204.68 C214.43 206.4 207.89 208.42 206.02 207.49 C204.15 206.55 203.21 200.79 204.15 199.07 Z" fill="#000"/>
<path d="M163.03 143.93 C165.21 143.31 175.18 144.25 177.98 144.87 C180.79 145.49 182.03 147.05 179.85 147.67 C177.67 148.3 167.7 149.23 164.9 148.61 C162.09 147.98 160.85 144.56 163.03 143.93 Z" fill="#000"/>
<g filter="url(#wob2)">
<path d="M157.42 167.3 C158.2 165.12 158.67 162.78 161.16 161.69 C163.65 160.6 168.64 161.07 172.37 160.76 C176.11 160.45 180.01 160.29 183.59 159.82 C187.17 159.36 191.69 159.51 193.87 157.95 C196.05 156.4 195.27 152.19 196.67 150.48 C198.07 148.76 200.41 147.83 202.28 147.67 C204.15 147.52 206.33 147.83 207.89 149.54 C209.45 151.26 210.69 154.37 211.63 157.95 C212.56 161.54 213.03 167.3 213.5 171.04 C213.96 174.78 214.74 177.27 214.43 180.38 C214.12 183.5 213.03 187.39 211.63 189.73 C210.22 192.07 208.2 193.78 206.02 194.4 C203.84 195.02 201.03 194.56 198.54 193.47 C196.05 192.38 193.09 189.11 191.07 187.86 C189.04 186.61 187.95 185.68 186.39 185.99 C184.83 186.3 183.74 187.86 181.72 189.73 C179.69 191.6 176.74 195.8 174.24 197.21 C171.75 198.61 168.95 198.76 166.77 198.14 C164.59 197.52 162.72 195.8 161.16 193.47 C159.6 191.13 158.2 187.24 157.42 184.12 C156.64 181.01 156.49 177.58 156.49 174.78 C156.49 171.97 156.64 169.48 157.42 167.3 Z" fill="#10f010" stroke="#f01414" stroke-width="2.8"/>
<path d="M163.03 157.95 C165.52 157.8 173.62 156.86 177.98 157.02 C182.34 157.17 187.33 158.58 189.2 158.89" fill="none" stroke="#f01414" stroke-width="2.4" stroke-linecap="round"/>
<path d="M163.96 171.97 C165.05 170.1 167.55 169.79 170.5 169.17 C173.46 168.55 177.98 168.86 181.72 168.23 C185.46 167.61 190.13 166.68 192.93 165.43 C195.74 164.18 196.98 162.63 198.54 160.76 C200.1 158.89 201.19 154.99 202.28 154.21 C203.37 153.44 204.46 153.9 205.08 156.08 C205.71 158.26 205.86 163.25 206.02 167.3 C206.17 171.35 206.64 177.74 206.02 180.38 C205.4 183.03 203.84 183.03 202.28 183.19 C200.72 183.34 198.85 181.94 196.67 181.32 C194.49 180.69 191.38 179.6 189.2 179.45 C187.02 179.29 185.46 179.29 183.59 180.38 C181.72 181.47 180.16 184.12 177.98 185.99 C175.8 187.86 172.53 190.98 170.5 191.6 C168.48 192.22 166.92 191.6 165.83 189.73 C164.74 187.86 164.27 183.34 163.96 180.38 C163.65 177.42 162.87 173.84 163.96 171.97 Z" fill="#000"/></g></g>
<clipPath id="cl1"><rect x="218" y="144.2" width="62.5" height="64.2"/></clipPath>
<clipPath id="cr1"><rect x="280.5" y="144.2" width="62.9" height="64.2"/></clipPath>
<g clip-path="url(#cl1)"><rect x="218" y="144.2" width="62.5" height="64.2" fill="#f0d9b2"/>
<rect x="218" y="144.2" width="62.5" height="64.2" filter="url(#mottW)" opacity="0.55"/>
<rect x="218" y="144.2" width="62.5" height="64.2" filter="url(#mottA)" opacity="0.5"/>
<g filter="url(#wob2)">
<path d="M224.48 180.38 C226.97 182.25 234.45 187.86 239.43 191.6 C244.41 195.34 249.4 200.63 254.38 202.81 C259.37 204.99 266.84 204.37 269.34 204.68" fill="none" stroke="#e07080" stroke-width="2.2" stroke-opacity="0.8" stroke-linecap="round"/>
<path d="M222.61 154.21 C225.41 153.9 234.13 151.41 239.43 152.35 C244.73 153.28 249.4 156.71 254.38 159.82 C259.37 162.94 266.84 169.17 269.34 171.04" fill="none" stroke="#e07080" stroke-width="2.2" stroke-opacity="0.8" stroke-linecap="round"/>
<path d="M220.74 154.21 C222.92 151.72 227.9 150.48 231.95 150.48 C236 150.48 241.3 152.35 245.04 154.21 C248.78 156.08 251.27 158.89 254.38 161.69 C257.5 164.5 260.61 167.92 263.73 171.04 C266.84 174.15 270.58 176.96 273.07 180.38 C275.57 183.81 278.06 187.86 278.68 191.6 C279.31 195.34 278.68 200.63 276.81 202.81 C274.94 204.99 271.21 204.99 267.47 204.68 C263.73 204.37 258.12 202.81 254.38 200.94 C250.64 199.07 248.15 195.96 245.04 193.47 C241.92 190.98 239.12 188.79 235.69 185.99 C232.26 183.19 227.28 180.07 224.48 176.64 C221.67 173.22 219.49 169.17 218.87 165.43 C218.25 161.69 218.56 156.71 220.74 154.21 Z" fill="#f4dbd0" stroke="#d9505f" stroke-width="1.6"/>
<path d="M220.74 154.21 C222.92 151.72 227.9 150.48 231.95 150.48 C236 150.48 241.3 152.35 245.04 154.21 C248.78 156.08 251.27 158.89 254.38 161.69 C257.5 164.5 260.61 167.92 263.73 171.04 C266.84 174.15 270.58 176.96 273.07 180.38 C275.57 183.81 278.06 187.86 278.68 191.6 C279.31 195.34 278.68 200.63 276.81 202.81 C274.94 204.99 271.21 204.99 267.47 204.68 C263.73 204.37 258.12 202.81 254.38 200.94 C250.64 199.07 248.15 195.96 245.04 193.47 C241.92 190.98 239.12 188.79 235.69 185.99 C232.26 183.19 227.28 180.07 224.48 176.64 C221.67 173.22 219.49 169.17 218.87 165.43 C218.25 161.69 218.56 156.71 220.74 154.21 Z" fill="none" stroke="#e8909a" stroke-width="0.9" transform="translate(0 0)" stroke-dasharray="6 3"/>
<path d="M229.15 160.76 C230.08 159.67 233.36 158.73 235.69 158.89 C238.03 159.04 240.68 159.67 243.17 161.69 C245.66 163.72 248.15 167.92 250.64 171.04 C253.14 174.15 255.63 177.27 258.12 180.38 C260.61 183.5 263.88 186.93 265.6 189.73 C267.31 192.53 268.71 195.65 268.4 197.21 C268.09 198.76 265.6 199.39 263.73 199.07 C261.86 198.76 259.37 197.21 257.19 195.34 C255.01 193.47 252.98 190.66 250.64 187.86 C248.31 185.06 245.66 181.32 243.17 178.51 C240.68 175.71 237.87 173.22 235.69 171.04 C233.51 168.86 231.17 167.14 230.08 165.43 C228.99 163.72 228.21 161.85 229.15 160.76 Z" fill="#f3efec" stroke="#df7f88" stroke-width="1.1"/></g></g>
<g clip-path="url(#cr1)"><rect x="280.5" y="144.2" width="62.9" height="64.2" fill="#10f010"/>
<rect x="280.5" y="144.2" width="62.9" height="64.2" fill="#000" filter="url(#spk1)"/>
<path d="M321.67 170.1 C325.1 169.79 340.36 170.32 344.1 171.04 C347.84 171.75 347.53 174.09 344.1 174.4 C340.68 174.71 327.28 173.62 323.54 172.91 C319.8 172.19 318.25 170.41 321.67 170.1 Z" fill="#000"/>
<path d="M281.49 187.86 C282.58 185.37 287.25 187.86 288.03 189.73 C288.81 191.6 287.25 196.58 286.16 199.07 C285.07 201.57 282.26 206.55 281.49 204.68 C280.71 202.81 280.4 190.35 281.49 187.86 Z" fill="#000"/>
<path d="M329.15 146.74 C329.46 146.12 335.69 147.67 336.63 148.61 C337.56 149.54 336 152.66 334.76 152.35 C333.51 152.03 328.84 147.36 329.15 146.74 Z" fill="#000"/>
<path d="M304.85 200.94 C306.72 200.48 317.62 203.59 317.93 204.68 C318.25 205.77 308.9 208.11 306.72 207.49 C304.54 206.86 302.98 201.41 304.85 200.94 Z" fill="#000"/>
<path d="M329.15 154.21 C330.71 153.9 338.81 156.71 340.36 157.95 C341.92 159.2 340.05 161.38 338.5 161.69 C336.94 162 332.58 161.07 331.02 159.82 C329.46 158.58 327.59 154.53 329.15 154.21 Z" fill="#000"/>
<g filter="url(#wob2)">
<path d="M282.42 154.21 C284.6 151.72 289.59 150.48 293.64 150.48 C297.69 150.48 302.98 152.35 306.72 154.21 C310.46 156.08 312.95 158.89 316.07 161.69 C319.18 164.5 322.3 167.92 325.41 171.04 C328.53 174.15 332.26 176.96 334.76 180.38 C337.25 183.81 339.74 187.86 340.36 191.6 C340.99 195.34 340.36 200.63 338.5 202.81 C336.63 204.99 332.89 204.99 329.15 204.68 C325.41 204.37 319.8 202.81 316.07 200.94 C312.33 199.07 309.83 195.96 306.72 193.47 C303.6 190.98 300.8 188.79 297.37 185.99 C293.95 183.19 288.96 180.07 286.16 176.64 C283.36 173.22 281.17 169.17 280.55 165.43 C279.93 161.69 280.24 156.71 282.42 154.21 Z" fill="#10f010" stroke="#f01414" stroke-width="2.2"/>
<path d="M286.16 174.78 C287.72 175.71 292.39 178.2 295.5 180.38 C298.62 182.56 301.74 185.06 304.85 187.86 C307.97 190.66 311.39 194.71 314.2 197.21 C317 199.7 318.56 201.88 321.67 202.81 C324.79 203.75 331.02 202.81 332.89 202.81" fill="none" stroke="#f01414" stroke-width="2.4" stroke-linecap="round"/>
<path d="M304.85 154.21 C306.41 155.15 311.39 157.02 314.2 159.82 C317 162.63 319.18 167.3 321.67 171.04 C324.17 174.78 326.97 178.51 329.15 182.25 C331.33 185.99 333.82 191.6 334.76 193.47" fill="none" stroke="#f01414" stroke-width="2.4" stroke-linecap="round"/>
<path d="M291.77 158.89 C292.86 158.11 297.06 158.11 299.24 158.89 C301.42 159.67 302.98 161.54 304.85 163.56 C306.72 165.59 308.28 167.92 310.46 171.04 C312.64 174.15 315.44 178.83 317.93 182.25 C320.43 185.68 323.54 188.95 325.41 191.6 C327.28 194.25 329.31 196.89 329.15 198.14 C328.99 199.39 326.35 199.54 324.48 199.07 C322.61 198.61 320.27 197.21 317.93 195.34 C315.6 193.47 312.95 190.66 310.46 187.86 C307.97 185.06 305.47 181.63 302.98 178.51 C300.49 175.4 297.22 171.66 295.5 169.17 C293.79 166.68 293.32 165.27 292.7 163.56 C292.08 161.85 290.68 159.67 291.77 158.89 Z" fill="#000"/></g></g>
<clipPath id="cl2"><rect x="343.4" y="144.2" width="63.1" height="64.2"/></clipPath>
<clipPath id="cr2"><rect x="406.5" y="144.2" width="63.5" height="64.2"/></clipPath>
<g clip-path="url(#cl2)"><rect x="343.4" y="144.2" width="63.1" height="64.2" fill="#f0d9b2"/>
<rect x="343.4" y="144.2" width="63.1" height="64.2" filter="url(#mottW)" opacity="0.55"/>
<rect x="343.4" y="144.2" width="63.1" height="64.2" filter="url(#mottA)" opacity="0.5"/>
<g filter="url(#wob2)">
<path d="M347.61 171.04 C348.54 173.22 352.59 179.45 353.21 184.12 C353.84 188.79 351.66 196.58 351.35 199.07" fill="none" stroke="#e07080" stroke-width="2.2" stroke-opacity="0.8" stroke-linecap="round"/>
<path d="M353.21 157.95 C354.46 156.71 357.58 152.35 360.69 150.48 C363.81 148.61 370.04 147.36 371.91 146.74" fill="none" stroke="#e07080" stroke-width="2.2" stroke-opacity="0.8" stroke-linecap="round"/>
<path d="M388.73 199.07 C390.91 200.01 399.63 203.75 401.81 204.68" fill="none" stroke="#e07080" stroke-width="2.2" stroke-opacity="0.8" stroke-linecap="round"/>
<path d="M358.82 154.21 C361 150.48 365.68 151.26 370.04 150.48 C374.4 149.7 380.63 149.23 384.99 149.54 C389.35 149.85 393.4 150.63 396.21 152.35 C399.01 154.06 400.57 156.4 401.81 159.82 C403.06 163.25 403.68 168.55 403.68 172.91 C403.68 177.27 403.06 182.25 401.81 185.99 C400.57 189.73 399.01 192.53 396.21 195.34 C393.4 198.14 389.04 200.94 384.99 202.81 C380.94 204.68 375.96 206.55 371.91 206.55 C367.86 206.55 363.18 205.31 360.69 202.81 C358.2 200.32 357.58 196.58 356.95 191.6 C356.33 186.61 356.64 179.14 356.95 172.91 C357.26 166.68 356.64 157.95 358.82 154.21 Z" fill="#f4dbd0" stroke="#d9505f" stroke-width="3.2"/>
<path d="M358.82 154.21 C361 150.48 365.68 151.26 370.04 150.48 C374.4 149.7 380.63 149.23 384.99 149.54 C389.35 149.85 393.4 150.63 396.21 152.35 C399.01 154.06 400.57 156.4 401.81 159.82 C403.06 163.25 403.68 168.55 403.68 172.91 C403.68 177.27 403.06 182.25 401.81 185.99 C400.57 189.73 399.01 192.53 396.21 195.34 C393.4 198.14 389.04 200.94 384.99 202.81 C380.94 204.68 375.96 206.55 371.91 206.55 C367.86 206.55 363.18 205.31 360.69 202.81 C358.2 200.32 357.58 196.58 356.95 191.6 C356.33 186.61 356.64 179.14 356.95 172.91 C357.26 166.68 356.64 157.95 358.82 154.21 Z" fill="none" stroke="#e8909a" stroke-width="0.9" transform="translate(0 0)" stroke-dasharray="6 3"/>
<path d="M369.1 163.56 C370.35 161.07 373 159.04 375.64 157.95 C378.29 156.86 381.88 156.55 384.99 157.02 C388.11 157.49 392.16 158.73 394.34 160.76 C396.52 162.78 397.61 165.9 398.07 169.17 C398.54 172.44 398.39 176.96 397.14 180.38 C395.89 183.81 393.25 187.24 390.6 189.73 C387.95 192.22 384.06 193.78 381.25 195.34 C378.45 196.89 375.8 198.92 373.78 199.07 C371.75 199.23 370.04 198.45 369.1 196.27 C368.17 194.09 368.32 189.88 368.17 185.99 C368.01 182.1 368.01 176.64 368.17 172.91 C368.32 169.17 367.86 166.05 369.1 163.56 Z" fill="#f3efec" stroke="#df7f88" stroke-width="1.1"/></g></g>
<g clip-path="url(#cr2)"><rect x="406.5" y="144.2" width="63.5" height="64.2" fill="#10f010"/>
<rect x="406.5" y="144.2" width="63.5" height="64.2" fill="#000" filter="url(#spk2)"/>
<path d="M466.3 161.69 C467.08 155.77 470.19 153.59 470.97 159.82 C471.75 166.05 471.75 193.16 470.97 199.07 C470.19 204.99 467.08 201.57 466.3 195.34 C465.52 189.11 465.52 167.61 466.3 161.69 Z" fill="#000"/>
<path d="M454.15 197.21 C456.33 195.96 468.17 197.21 470.97 199.07 C473.78 200.94 473.15 207.17 470.97 208.42 C468.79 209.67 460.69 208.42 457.89 206.55 C455.08 204.68 451.97 198.45 454.15 197.21 Z" fill="#000"/>
<path d="M407.42 154.21 C407.73 152.35 411.47 148.61 413.03 148.61 C414.59 148.61 417.08 152.35 416.77 154.21 C416.45 156.08 412.72 159.82 411.16 159.82 C409.6 159.82 407.11 156.08 407.42 154.21 Z" fill="#000"/>
<g filter="url(#wob2)">
<path d="M420.5 154.21 C422.69 150.48 427.36 151.26 431.72 150.48 C436.08 149.7 442.31 149.23 446.67 149.54 C451.03 149.85 455.08 150.63 457.89 152.35 C460.69 154.06 462.25 156.4 463.5 159.82 C464.74 163.25 465.36 168.55 465.36 172.91 C465.36 177.27 464.74 182.25 463.5 185.99 C462.25 189.73 460.69 192.53 457.89 195.34 C455.08 198.14 450.72 200.94 446.67 202.81 C442.62 204.68 437.64 206.55 433.59 206.55 C429.54 206.55 424.87 205.31 422.37 202.81 C419.88 200.32 419.26 196.58 418.64 191.6 C418.01 186.61 418.32 179.14 418.64 172.91 C418.95 166.68 418.32 157.95 420.5 154.21 Z" fill="#10f010" stroke="#f01414" stroke-width="3.8"/>
<path d="M413.03 161.69 C413.34 164.81 414.27 174.15 414.9 180.38 C415.52 186.61 416.45 195.96 416.77 199.07" fill="none" stroke="#f01414" stroke-width="2.4" stroke-linecap="round"/>
<path d="M422.37 146.74 C425.18 146.43 433.28 144.87 439.2 144.87 C445.12 144.87 454.77 146.43 457.89 146.74" fill="none" stroke="#f01414" stroke-width="2.4" stroke-linecap="round"/>
<path d="M431.72 163.56 C432.81 161.07 434.83 160.29 437.33 159.82 C439.82 159.36 443.87 160.13 446.67 160.76 C449.48 161.38 452.44 161.85 454.15 163.56 C455.86 165.27 456.95 168.55 456.95 171.04 C456.95 173.53 455.55 176.33 454.15 178.51 C452.75 180.69 450.72 182.25 448.54 184.12 C446.36 185.99 443.25 187.86 441.07 189.73 C438.88 191.6 437.02 194.09 435.46 195.34 C433.9 196.58 432.5 198.45 431.72 197.21 C430.94 195.96 430.94 191.6 430.79 187.86 C430.63 184.12 430.63 178.83 430.79 174.78 C430.94 170.73 430.63 166.05 431.72 163.56 Z" fill="#000"/></g></g>
<clipPath id="cl3"><rect x="470" y="144.2" width="63.4" height="64.2"/></clipPath>
<clipPath id="cr3"><rect x="533.4" y="144.2" width="64.2" height="64.2"/></clipPath>
<g clip-path="url(#cl3)"><rect x="470" y="144.2" width="63.4" height="64.2" fill="#f0d9b2"/>
<rect x="470" y="144.2" width="63.4" height="64.2" filter="url(#mottW)" opacity="0.55"/>
<rect x="470" y="144.2" width="63.4" height="64.2" filter="url(#mottA)" opacity="0.5"/>
<g filter="url(#wob2)">
<path d="M473.61 171.04 C475.17 172.6 480.77 177.27 482.95 180.38 C485.13 183.5 486.07 188.17 486.69 189.73" fill="none" stroke="#e07080" stroke-width="2.2" stroke-opacity="0.8" stroke-linecap="round"/>
<path d="M501.64 150.48 C504.14 150.48 512.55 148.61 516.6 150.48 C520.65 152.35 524.07 157.33 525.94 161.69 C527.81 166.05 527.5 174.15 527.81 176.64" fill="none" stroke="#e07080" stroke-width="2.2" stroke-opacity="0.8" stroke-linecap="round"/>
<path d="M510.99 185.99 C512.55 186.3 518.16 188.17 520.34 187.86 C522.52 187.55 523.45 184.74 524.07 184.12" fill="none" stroke="#e07080" stroke-width="2.2" stroke-opacity="0.8" stroke-linecap="round"/>
<path d="M481.08 199.07 C479.84 195.96 479.84 188.79 481.08 184.12 C482.33 179.45 485.76 175.09 488.56 171.04 C491.36 166.99 494.17 162.31 497.91 159.82 C501.64 157.33 507.25 156.4 510.99 156.08 C514.73 155.77 518.47 156.08 520.34 157.95 C522.21 159.82 522.83 163.56 522.21 167.3 C521.58 171.04 518.78 176.33 516.6 180.38 C514.42 184.43 512.24 188.48 509.12 191.6 C506.01 194.71 501.33 197.21 497.91 199.07 C494.48 200.94 491.36 202.81 488.56 202.81 C485.76 202.81 482.33 202.19 481.08 199.07 Z" fill="#f4dbd0" stroke="#d9505f" stroke-width="2"/>
<path d="M481.08 199.07 C479.84 195.96 479.84 188.79 481.08 184.12 C482.33 179.45 485.76 175.09 488.56 171.04 C491.36 166.99 494.17 162.31 497.91 159.82 C501.64 157.33 507.25 156.4 510.99 156.08 C514.73 155.77 518.47 156.08 520.34 157.95 C522.21 159.82 522.83 163.56 522.21 167.3 C521.58 171.04 518.78 176.33 516.6 180.38 C514.42 184.43 512.24 188.48 509.12 191.6 C506.01 194.71 501.33 197.21 497.91 199.07 C494.48 200.94 491.36 202.81 488.56 202.81 C485.76 202.81 482.33 202.19 481.08 199.07 Z" fill="none" stroke="#e8909a" stroke-width="0.9" transform="translate(0 0)" stroke-dasharray="6 3"/>
<path d="M484.82 193.47 C484.51 191.75 485.13 189.11 486.69 185.99 C488.25 182.88 491.68 178.2 494.17 174.78 C496.66 171.35 498.84 167.61 501.64 165.43 C504.45 163.25 508.65 162 510.99 161.69 C513.33 161.38 515.04 162 515.66 163.56 C516.29 165.12 515.82 168.23 514.73 171.04 C513.64 173.84 511.3 177.58 509.12 180.38 C506.94 183.19 504.14 185.68 501.64 187.86 C499.15 190.04 496.35 192.07 494.17 193.47 C491.99 194.87 490.12 196.27 488.56 196.27 C487 196.27 485.13 195.18 484.82 193.47 Z" fill="#f3efec" stroke="#df7f88" stroke-width="1.1"/></g></g>
<g clip-path="url(#cr3)"><rect x="533.4" y="144.2" width="64.2" height="64.2" fill="#10f010"/>
<rect x="533.4" y="144.2" width="64.2" height="64.2" fill="#000" filter="url(#spk3)"/>
<path d="M539.03 197.21 C540.9 196.27 547.75 199.07 552.11 199.07 C556.47 199.07 562.39 196.58 565.2 197.21 C568 197.83 570.8 201.26 568.93 202.81 C567.07 204.37 558.65 206.24 553.98 206.55 C549.31 206.86 543.39 206.24 540.9 204.68 C538.4 203.12 537.16 198.14 539.03 197.21 Z" fill="#000"/>
<path d="M535.29 143 C539.34 142.07 557.41 141.91 561.46 143 C565.51 144.09 562.08 148.3 559.59 149.54 C557.1 150.79 550.24 150.63 546.5 150.48 C542.77 150.32 539.03 149.85 537.16 148.61 C535.29 147.36 531.24 143.93 535.29 143 Z" fill="#000"/>
<path d="M572.67 197.21 C574.54 195.65 584.51 194.09 587.63 195.34 C590.74 196.58 593.23 203.12 591.36 204.68 C589.5 206.24 579.53 205.93 576.41 204.68 C573.3 203.44 570.8 198.76 572.67 197.21 Z" fill="#000"/>
<path d="M587.63 146.74 C588.87 145.96 595.41 145.8 596.97 146.74 C598.53 147.67 598.22 151.57 596.97 152.35 C595.73 153.12 591.05 152.35 589.5 151.41 C587.94 150.48 586.38 147.52 587.63 146.74 Z" fill="#000"/>
<g filter="url(#wob2)">
<path d="M544.64 199.07 C543.39 195.96 543.39 188.79 544.64 184.12 C545.88 179.45 549.31 175.09 552.11 171.04 C554.92 166.99 557.72 162.31 561.46 159.82 C565.2 157.33 570.8 156.4 574.54 156.08 C578.28 155.77 582.02 156.08 583.89 157.95 C585.76 159.82 586.38 163.56 585.76 167.3 C585.13 171.04 582.33 176.33 580.15 180.38 C577.97 184.43 575.79 188.48 572.67 191.6 C569.56 194.71 564.88 197.21 561.46 199.07 C558.03 200.94 554.92 202.81 552.11 202.81 C549.31 202.81 545.88 202.19 544.64 199.07 Z" fill="#10f010" stroke="#f01414" stroke-width="2.6"/>
<path d="M555.85 163.56 C557.72 162.31 563.02 157.8 567.07 156.08 C571.12 154.37 576.72 152.66 580.15 153.28 C583.58 153.9 586.22 156.55 587.63 159.82 C589.03 163.09 589.5 168.86 588.56 172.91 C587.63 176.96 584.04 181.63 582.02 184.12 C579.99 186.61 577.35 187.24 576.41 187.86" fill="none" stroke="#f01414" stroke-width="2.4" stroke-linecap="round"/>
<path d="M539.03 172.91 C539.65 174.15 542.3 177.58 542.77 180.38 C543.23 183.19 541.99 188.17 541.83 189.73" fill="none" stroke="#f01414" stroke-width="2.4" stroke-linecap="round"/>
<path d="M546.5 171.04 C547.44 170.73 551.18 169.48 552.11 169.17" fill="none" stroke="#f01414" stroke-width="2.4" stroke-linecap="round"/>
<path d="M548.37 193.47 C548.37 192.07 548.69 190.35 550.24 187.86 C551.8 185.37 555.23 181.63 557.72 178.51 C560.21 175.4 562.39 171.5 565.2 169.17 C568 166.83 572.21 164.96 574.54 164.5 C576.88 164.03 578.9 164.65 579.21 166.36 C579.53 168.08 577.81 172.13 576.41 174.78 C575.01 177.42 572.98 179.76 570.8 182.25 C568.62 184.74 565.82 187.55 563.33 189.73 C560.83 191.91 558.03 194.25 555.85 195.34 C553.67 196.43 551.49 196.58 550.24 196.27 C549 195.96 548.37 194.87 548.37 193.47 Z" fill="#000"/></g></g>
</g>
<rect x="92.5" y="17.2" width="125.5" height="127" fill="none" stroke="#3a3a3a" stroke-width="1"/>
<rect x="92.5" y="144.2" width="125.5" height="64.2" fill="none" stroke="#3a3a3a" stroke-width="1"/>
<rect x="218" y="17.2" width="125.4" height="127" fill="none" stroke="#3a3a3a" stroke-width="1"/>
<rect x="218" y="144.2" width="125.4" height="64.2" fill="none" stroke="#3a3a3a" stroke-width="1"/>
<rect x="343.4" y="17.2" width="126.6" height="127" fill="none" stroke="#3a3a3a" stroke-width="1"/>
<rect x="343.4" y="144.2" width="126.6" height="64.2" fill="none" stroke="#3a3a3a" stroke-width="1"/>
<rect x="470" y="17.2" width="127.6" height="127" fill="none" stroke="#3a3a3a" stroke-width="1"/>
<rect x="470" y="144.2" width="127.6" height="64.2" fill="none" stroke="#3a3a3a" stroke-width="1"/>
<text x="3.3" y="230" font-size="19.5" font-weight="bold" font-style="normal" text-anchor="start" fill="#000" >B</text>
<text x="28.8" y="299.5" font-size="11.8" font-weight="bold" text-anchor="middle" transform="rotate(-90 28.8 299.5)" >% LV collagen deposition area</text>
<text x="42.7" y="298.7" font-size="12" font-weight="bold" text-anchor="middle" transform="rotate(-90 42.7 298.7)" >(Total)</text>
<line x1="56" y1="239.4" x2="56" y2="366.3" stroke="#151515" stroke-width="1.4" />
<line x1="52.4" y1="240" x2="56" y2="240" stroke="#151515" stroke-width="1.3" />
<text x="51.1" y="243.96" font-size="12" font-weight="bold" font-style="normal" text-anchor="end" fill="#000" >6</text>
<line x1="52.4" y1="281.9" x2="56" y2="281.9" stroke="#151515" stroke-width="1.3" />
<text x="51.1" y="285.86" font-size="12" font-weight="bold" font-style="normal" text-anchor="end" fill="#000" >4</text>
<line x1="52.4" y1="323.8" x2="56" y2="323.8" stroke="#151515" stroke-width="1.3" />
<text x="51.1" y="327.76" font-size="12" font-weight="bold" font-style="normal" text-anchor="end" fill="#000" >2</text>
<line x1="52.4" y1="365.7" x2="56" y2="365.7" stroke="#151515" stroke-width="1.3" />
<text x="51.1" y="369.66" font-size="12" font-weight="bold" font-style="normal" text-anchor="end" fill="#000" >0</text>
<line x1="57" y1="365.7" x2="186.7" y2="365.7" stroke="#5a5a5a" stroke-width="1" stroke-dasharray="1 1.5"/>
<rect x="68.52" y="333.62" width="22.85" height="32.38" fill="none" stroke="#1c1cd6" stroke-width="1.85"/>
<rect x="100.05" y="337.25" width="22.9" height="28.75" fill="none" stroke="#5a5ae6" stroke-width="1.5"/>
<rect x="132" y="301.9" width="22.7" height="64.1" fill="none" stroke="#d81c1c" stroke-width="1.8"/>
<rect x="163.8" y="323" width="22" height="43" fill="none" stroke="#d81c1c" stroke-width="1.8"/>
<circle cx="79.8" cy="299.1" r="2.45" fill="none" stroke="#6f6fe8" stroke-width="1.05"/>
<circle cx="79.8" cy="318.1" r="2.45" fill="none" stroke="#6f6fe8" stroke-width="1.05"/>
<circle cx="85.1" cy="324" r="2.45" fill="none" stroke="#6f6fe8" stroke-width="1.05"/>
<circle cx="74.8" cy="326.2" r="2.45" fill="none" stroke="#6f6fe8" stroke-width="1.05"/>
<circle cx="79.8" cy="332.3" r="2.45" fill="none" stroke="#6f6fe8" stroke-width="1.05"/>
<circle cx="85.1" cy="337.6" r="2.45" fill="none" stroke="#6f6fe8" stroke-width="1.05"/>
<circle cx="74.8" cy="340" r="2.45" fill="none" stroke="#6f6fe8" stroke-width="1.05"/>
<circle cx="70" cy="342.9" r="2.45" fill="none" stroke="#6f6fe8" stroke-width="1.05"/>
<circle cx="90" cy="341" r="2.45" fill="none" stroke="#6f6fe8" stroke-width="1.05"/>
<circle cx="83.1" cy="343.4" r="2.45" fill="none" stroke="#6f6fe8" stroke-width="1.05"/>
<circle cx="76.5" cy="348.8" r="2.45" fill="none" stroke="#6f6fe8" stroke-width="1.05"/>
<path d="M108.45 286.6 L114.55 286.6 L111.5 291.6 Z" fill="none" stroke="#6f6fe8" stroke-width="1.05" stroke-linejoin="miter"/>
<path d="M108.45 313.7 L114.55 313.7 L111.5 318.7 Z" fill="none" stroke="#6f6fe8" stroke-width="1.05" stroke-linejoin="miter"/>
<path d="M108.45 324.8 L114.55 324.8 L111.5 329.8 Z" fill="none" stroke="#6f6fe8" stroke-width="1.05" stroke-linejoin="miter"/>
<path d="M98.45 334.8 L104.55 334.8 L101.5 339.8 Z" fill="none" stroke="#6f6fe8" stroke-width="1.05" stroke-linejoin="miter"/>
<path d="M104.55 339.2 L110.65 339.2 L107.6 344.2 Z" fill="none" stroke="#6f6fe8" stroke-width="1.05" stroke-linejoin="miter"/>
<path d="M111.75 335.9 L117.85 335.9 L114.8 340.9 Z" fill="none" stroke="#6f6fe8" stroke-width="1.05" stroke-linejoin="miter"/>
<path d="M118.45 334.2 L124.55 334.2 L121.5 339.2 Z" fill="none" stroke="#6f6fe8" stroke-width="1.05" stroke-linejoin="miter"/>
<path d="M98.45 346.7 L104.55 346.7 L101.5 351.7 Z" fill="none" stroke="#6f6fe8" stroke-width="1.05" stroke-linejoin="miter"/>
<path d="M105.15 350.4 L111.25 350.4 L108.2 355.4 Z" fill="none" stroke="#6f6fe8" stroke-width="1.05" stroke-linejoin="miter"/>
<path d="M111.75 347.4 L117.85 347.4 L114.8 352.4 Z" fill="none" stroke="#6f6fe8" stroke-width="1.05" stroke-linejoin="miter"/>
<path d="M118.45 345.9 L124.55 345.9 L121.5 350.9 Z" fill="none" stroke="#6f6fe8" stroke-width="1.05" stroke-linejoin="miter"/>
<circle cx="143.1" cy="248.2" r="2.45" fill="none" stroke="#f08585" stroke-width="1.05"/>
<circle cx="148.4" cy="283.8" r="2.45" fill="none" stroke="#f08585" stroke-width="1.05"/>
<circle cx="138.3" cy="288.9" r="2.45" fill="none" stroke="#f08585" stroke-width="1.05"/>
<circle cx="148.4" cy="304.1" r="2.45" fill="none" stroke="#f08585" stroke-width="1.05"/>
<circle cx="138.3" cy="306.8" r="2.45" fill="none" stroke="#f08585" stroke-width="1.05"/>
<circle cx="133.2" cy="313" r="2.45" fill="none" stroke="#f08585" stroke-width="1.05"/>
<circle cx="143.1" cy="317.4" r="2.45" fill="none" stroke="#f08585" stroke-width="1.05"/>
<circle cx="153.2" cy="316.6" r="2.45" fill="none" stroke="#f08585" stroke-width="1.05"/>
<circle cx="143.1" cy="325.3" r="2.45" fill="none" stroke="#f08585" stroke-width="1.05"/>
<path d="M171.85 272.9 L177.95 272.9 L174.9 277.9 Z" fill="none" stroke="#f08585" stroke-width="1.05" stroke-linejoin="miter"/>
<path d="M171.85 284.9 L177.95 284.9 L174.9 289.9 Z" fill="none" stroke="#f08585" stroke-width="1.05" stroke-linejoin="miter"/>
<path d="M171.85 297.9 L177.95 297.9 L174.9 302.9 Z" fill="none" stroke="#f08585" stroke-width="1.05" stroke-linejoin="miter"/>
<path d="M171.85 306.6 L177.95 306.6 L174.9 311.6 Z" fill="none" stroke="#f08585" stroke-width="1.05" stroke-linejoin="miter"/>
<path d="M171.85 317 L177.95 317 L174.9 322 Z" fill="none" stroke="#f08585" stroke-width="1.05" stroke-linejoin="miter"/>
<path d="M161.95 330.1 L168.05 330.1 L165 335.1 Z" fill="none" stroke="#f08585" stroke-width="1.05" stroke-linejoin="miter"/>
<path d="M181.55 328.3 L187.65 328.3 L184.6 333.3 Z" fill="none" stroke="#f08585" stroke-width="1.05" stroke-linejoin="miter"/>
<path d="M168.55 333.7 L174.65 333.7 L171.6 338.7 Z" fill="none" stroke="#f08585" stroke-width="1.05" stroke-linejoin="miter"/>
<path d="M175.25 332.7 L181.35 332.7 L178.3 337.7 Z" fill="none" stroke="#f08585" stroke-width="1.05" stroke-linejoin="miter"/>
<path d="M161.95 337.3 L168.05 337.3 L165 342.3 Z" fill="none" stroke="#f08585" stroke-width="1.05" stroke-linejoin="miter"/>
<path d="M181.55 337.3 L187.65 337.3 L184.6 342.3 Z" fill="none" stroke="#f08585" stroke-width="1.05" stroke-linejoin="miter"/>
<path d="M171.85 341.6 L177.95 341.6 L174.9 346.6 Z" fill="none" stroke="#f08585" stroke-width="1.05" stroke-linejoin="miter"/>
<line x1="79.8" y1="327.6" x2="79.8" y2="336.5" stroke="#1c1cd6" stroke-width="2" />
<line x1="77.1" y1="327.6" x2="82.5" y2="327.6" stroke="#1c1cd6" stroke-width="1.6" />
<line x1="77.1" y1="336.5" x2="82.5" y2="336.5" stroke="#1c1cd6" stroke-width="1.6" />
<line x1="111.5" y1="330.3" x2="111.5" y2="341.2" stroke="#2a2ad8" stroke-width="2" />
<line x1="108.8" y1="330.3" x2="114.2" y2="330.3" stroke="#2a2ad8" stroke-width="1.6" />
<line x1="108.8" y1="341.2" x2="114.2" y2="341.2" stroke="#2a2ad8" stroke-width="1.6" />
<line x1="143.1" y1="292.8" x2="143.1" y2="308.3" stroke="#d81c1c" stroke-width="2" />
<line x1="140.4" y1="292.8" x2="145.8" y2="292.8" stroke="#d81c1c" stroke-width="1.6" />
<line x1="140.4" y1="308.3" x2="145.8" y2="308.3" stroke="#d81c1c" stroke-width="1.6" />
<line x1="174.9" y1="314.9" x2="174.9" y2="327.9" stroke="#d81c1c" stroke-width="2" />
<line x1="172.2" y1="314.9" x2="177.6" y2="314.9" stroke="#d81c1c" stroke-width="1.6" />
<line x1="172.2" y1="327.9" x2="177.6" y2="327.9" stroke="#d81c1c" stroke-width="1.6" />
<path d="M79.6 290.5 L79.6 239.2 L174.9 239.2 L174.9 267.4" stroke="#151515" stroke-width="1.4" fill="none"/>
<path d="M142.9 239.2 L142.9 243.2" stroke="#151515" stroke-width="1.4" fill="none"/>
<text x="106.8" y="238.3" font-size="16" font-weight="bold" font-style="normal" text-anchor="middle" fill="#000" >*</text>
<text x="116" y="238.3" font-size="16" font-weight="bold" font-style="normal" text-anchor="middle" fill="#000" >*</text>
<text x="158.9" y="238.3" font-size="16" font-weight="bold" font-style="normal" text-anchor="middle" fill="#000" >*</text>
<line x1="64.3" y1="374.5" x2="190" y2="374.5" stroke="#000" stroke-width="1.9" />
<text x="48" y="383.74" font-size="8.3" font-weight="bold" font-style="normal" text-anchor="start" fill="#000" >ND</text>
<text x="48" y="392.74" font-size="8.3" font-weight="bold" font-style="normal" text-anchor="start" fill="#000" >D</text>
<text x="48" y="402.04" font-size="8.3" font-weight="bold" font-style="normal" text-anchor="start" fill="#000" >Veh</text>
<text x="48" y="411.34" font-size="8.3" font-weight="bold">LXA<tspan font-size="5.15" dy="2.4">4</tspan></text>
<line x1="77.3" y1="381" x2="82.3" y2="381" stroke="#000" stroke-width="1.5" />
<line x1="79.8" y1="378.5" x2="79.8" y2="383.5" stroke="#000" stroke-width="1.5" />
<line x1="109.4" y1="381" x2="114.4" y2="381" stroke="#000" stroke-width="1.5" />
<line x1="111.9" y1="378.5" x2="111.9" y2="383.5" stroke="#000" stroke-width="1.5" />
<line x1="141.5" y1="381" x2="146.5" y2="381" stroke="#000" stroke-width="1.5" />
<line x1="173.5" y1="381" x2="178.5" y2="381" stroke="#000" stroke-width="1.5" />
<line x1="77.3" y1="390" x2="82.3" y2="390" stroke="#000" stroke-width="1.5" />
<line x1="109.4" y1="390" x2="114.4" y2="390" stroke="#000" stroke-width="1.5" />
<line x1="141.5" y1="390" x2="146.5" y2="390" stroke="#000" stroke-width="1.5" />
<line x1="144" y1="387.5" x2="144" y2="392.5" stroke="#000" stroke-width="1.5" />
<line x1="173.5" y1="390" x2="178.5" y2="390" stroke="#000" stroke-width="1.5" />
<line x1="176" y1="387.5" x2="176" y2="392.5" stroke="#000" stroke-width="1.5" />
<line x1="77.3" y1="399.3" x2="82.3" y2="399.3" stroke="#000" stroke-width="1.5" />
<line x1="79.8" y1="396.8" x2="79.8" y2="401.8" stroke="#000" stroke-width="1.5" />
<line x1="109.4" y1="399.3" x2="114.4" y2="399.3" stroke="#000" stroke-width="1.5" />
<line x1="141.5" y1="399.3" x2="146.5" y2="399.3" stroke="#000" stroke-width="1.5" />
<line x1="144" y1="396.8" x2="144" y2="401.8" stroke="#000" stroke-width="1.5" />
<line x1="173.5" y1="399.3" x2="178.5" y2="399.3" stroke="#000" stroke-width="1.5" />
<line x1="77.3" y1="408.6" x2="82.3" y2="408.6" stroke="#000" stroke-width="1.5" />
<line x1="109.4" y1="408.6" x2="114.4" y2="408.6" stroke="#000" stroke-width="1.5" />
<line x1="111.9" y1="406.1" x2="111.9" y2="411.1" stroke="#000" stroke-width="1.5" />
<line x1="141.5" y1="408.6" x2="146.5" y2="408.6" stroke="#000" stroke-width="1.5" />
<line x1="173.5" y1="408.6" x2="178.5" y2="408.6" stroke="#000" stroke-width="1.5" />
<line x1="176" y1="406.1" x2="176" y2="411.1" stroke="#000" stroke-width="1.5" />
<text x="229.9" y="229.9" font-size="19.5" font-weight="bold" font-style="normal" text-anchor="start" fill="#000" >C</text>
<text x="263.2" y="301.2" font-size="11.8" font-weight="bold" text-anchor="middle" transform="rotate(-90 263.2 301.2)" >% LV collagen deposition area</text>
<text x="277.8" y="302.9" font-size="12" font-weight="bold" text-anchor="middle" transform="rotate(-90 277.8 302.9)" >(Interstitial)</text>
<line x1="291.1" y1="241.1" x2="291.1" y2="367.1" stroke="#151515" stroke-width="1.4" />
<line x1="287.5" y1="241.7" x2="291.1" y2="241.7" stroke="#151515" stroke-width="1.3" />
<text x="286.2" y="245.66" font-size="12" font-weight="bold" font-style="normal" text-anchor="end" fill="#000" >6</text>
<line x1="287.5" y1="283.3" x2="291.1" y2="283.3" stroke="#151515" stroke-width="1.3" />
<text x="286.2" y="287.26" font-size="12" font-weight="bold" font-style="normal" text-anchor="end" fill="#000" >4</text>
<line x1="287.5" y1="324.9" x2="291.1" y2="324.9" stroke="#151515" stroke-width="1.3" />
<text x="286.2" y="328.86" font-size="12" font-weight="bold" font-style="normal" text-anchor="end" fill="#000" >2</text>
<line x1="287.5" y1="366.5" x2="291.1" y2="366.5" stroke="#151515" stroke-width="1.3" />
<text x="286.2" y="370.46" font-size="12" font-weight="bold" font-style="normal" text-anchor="end" fill="#000" >0</text>
<line x1="292.1" y1="366.5" x2="422.8" y2="366.5" stroke="#5a5a5a" stroke-width="1" stroke-dasharray="1 1.5"/>
<rect x="304.32" y="337.62" width="22.25" height="29.18" fill="none" stroke="#1c1cd6" stroke-width="1.85"/>
<rect x="335.85" y="341.35" width="22.9" height="25.45" fill="none" stroke="#5a5ae6" stroke-width="1.5"/>
<rect x="367.5" y="308.2" width="22.9" height="58.6" fill="none" stroke="#d81c1c" stroke-width="1.8"/>
<rect x="399.8" y="327.2" width="22.1" height="39.6" fill="none" stroke="#d81c1c" stroke-width="1.8"/>
<circle cx="315.5" cy="302.3" r="2.45" fill="none" stroke="#6f6fe8" stroke-width="1.05"/>
<circle cx="315.5" cy="322" r="2.45" fill="none" stroke="#6f6fe8" stroke-width="1.05"/>
<circle cx="310.5" cy="328.8" r="2.45" fill="none" stroke="#6f6fe8" stroke-width="1.05"/>
<circle cx="320.7" cy="330.7" r="2.45" fill="none" stroke="#6f6fe8" stroke-width="1.05"/>
<circle cx="305.6" cy="343.2" r="2.45" fill="none" stroke="#6f6fe8" stroke-width="1.05"/>
<circle cx="315.5" cy="344" r="2.45" fill="none" stroke="#6f6fe8" stroke-width="1.05"/>
<circle cx="325.7" cy="345.1" r="2.45" fill="none" stroke="#6f6fe8" stroke-width="1.05"/>
<circle cx="310.5" cy="346.9" r="2.45" fill="none" stroke="#6f6fe8" stroke-width="1.05"/>
<circle cx="320.4" cy="348.1" r="2.45" fill="none" stroke="#6f6fe8" stroke-width="1.05"/>
<circle cx="310.5" cy="351.9" r="2.45" fill="none" stroke="#6f6fe8" stroke-width="1.05"/>
<circle cx="315.5" cy="335.6" r="2.45" fill="none" stroke="#6f6fe8" stroke-width="1.05"/>
<path d="M344.25 289.6 L350.35 289.6 L347.3 294.6 Z" fill="none" stroke="#6f6fe8" stroke-width="1.05" stroke-linejoin="miter"/>
<path d="M344.25 319.1 L350.35 319.1 L347.3 324.1 Z" fill="none" stroke="#6f6fe8" stroke-width="1.05" stroke-linejoin="miter"/>
<path d="M340.05 332.7 L346.15 332.7 L343.1 337.7 Z" fill="none" stroke="#6f6fe8" stroke-width="1.05" stroke-linejoin="miter"/>
<path d="M348.55 335.6 L354.65 335.6 L351.6 340.6 Z" fill="none" stroke="#6f6fe8" stroke-width="1.05" stroke-linejoin="miter"/>
<path d="M333.75 338.4 L339.85 338.4 L336.8 343.4 Z" fill="none" stroke="#6f6fe8" stroke-width="1.05" stroke-linejoin="miter"/>
<path d="M340.05 343.5 L346.15 343.5 L343.1 348.5 Z" fill="none" stroke="#6f6fe8" stroke-width="1.05" stroke-linejoin="miter"/>
<path d="M347.95 341.8 L354.05 341.8 L351 346.8 Z" fill="none" stroke="#6f6fe8" stroke-width="1.05" stroke-linejoin="miter"/>
<path d="M340.55 349 L346.65 349 L343.6 354 Z" fill="none" stroke="#6f6fe8" stroke-width="1.05" stroke-linejoin="miter"/>
<path d="M347.45 351.2 L353.55 351.2 L350.5 356.2 Z" fill="none" stroke="#6f6fe8" stroke-width="1.05" stroke-linejoin="miter"/>
<path d="M354.75 350.9 L360.85 350.9 L357.8 355.9 Z" fill="none" stroke="#6f6fe8" stroke-width="1.05" stroke-linejoin="miter"/>
<path d="M334.35 352 L340.45 352 L337.4 357 Z" fill="none" stroke="#6f6fe8" stroke-width="1.05" stroke-linejoin="miter"/>
<circle cx="378.8" cy="254.2" r="2.45" fill="none" stroke="#f08585" stroke-width="1.05"/>
<circle cx="373.7" cy="293.6" r="2.45" fill="none" stroke="#f08585" stroke-width="1.05"/>
<circle cx="384.2" cy="292.9" r="2.45" fill="none" stroke="#f08585" stroke-width="1.05"/>
<circle cx="373.7" cy="312" r="2.45" fill="none" stroke="#f08585" stroke-width="1.05"/>
<circle cx="384.2" cy="309.8" r="2.45" fill="none" stroke="#f08585" stroke-width="1.05"/>
<circle cx="384.2" cy="317.1" r="2.45" fill="none" stroke="#f08585" stroke-width="1.05"/>
<circle cx="373.7" cy="320.5" r="2.45" fill="none" stroke="#f08585" stroke-width="1.05"/>
<circle cx="378.8" cy="326.3" r="2.45" fill="none" stroke="#f08585" stroke-width="1.05"/>
<circle cx="378.8" cy="332.2" r="2.45" fill="none" stroke="#f08585" stroke-width="1.05"/>
<path d="M407.65 274.9 L413.75 274.9 L410.7 279.9 Z" fill="none" stroke="#f08585" stroke-width="1.05" stroke-linejoin="miter"/>
<path d="M407.65 288.6 L413.75 288.6 L410.7 293.6 Z" fill="none" stroke="#f08585" stroke-width="1.05" stroke-linejoin="miter"/>
<path d="M407.65 303.3 L413.75 303.3 L410.7 308.3 Z" fill="none" stroke="#f08585" stroke-width="1.05" stroke-linejoin="miter"/>
<path d="M407.65 310.6 L413.75 310.6 L410.7 315.6 Z" fill="none" stroke="#f08585" stroke-width="1.05" stroke-linejoin="miter"/>
<path d="M407.65 323.4 L413.75 323.4 L410.7 328.4 Z" fill="none" stroke="#f08585" stroke-width="1.05" stroke-linejoin="miter"/>
<path d="M397.75 334.4 L403.85 334.4 L400.8 339.4 Z" fill="none" stroke="#f08585" stroke-width="1.05" stroke-linejoin="miter"/>
<path d="M404.25 333.7 L410.35 333.7 L407.3 338.7 Z" fill="none" stroke="#f08585" stroke-width="1.05" stroke-linejoin="miter"/>
<path d="M410.95 335.2 L417.05 335.2 L414 340.2 Z" fill="none" stroke="#f08585" stroke-width="1.05" stroke-linejoin="miter"/>
<path d="M417.45 337.4 L423.55 337.4 L420.5 342.4 Z" fill="none" stroke="#f08585" stroke-width="1.05" stroke-linejoin="miter"/>
<path d="M397.75 340.3 L403.85 340.3 L400.8 345.3 Z" fill="none" stroke="#f08585" stroke-width="1.05" stroke-linejoin="miter"/>
<path d="M410.95 341.8 L417.05 341.8 L414 346.8 Z" fill="none" stroke="#f08585" stroke-width="1.05" stroke-linejoin="miter"/>
<path d="M404.25 346.9 L410.35 346.9 L407.3 351.9 Z" fill="none" stroke="#f08585" stroke-width="1.05" stroke-linejoin="miter"/>
<line x1="315.5" y1="331.8" x2="315.5" y2="340.3" stroke="#1c1cd6" stroke-width="2" />
<line x1="312.8" y1="331.8" x2="318.2" y2="331.8" stroke="#1c1cd6" stroke-width="1.6" />
<line x1="312.8" y1="340.3" x2="318.2" y2="340.3" stroke="#1c1cd6" stroke-width="1.6" />
<line x1="347.3" y1="334.7" x2="347.3" y2="345.1" stroke="#2a2ad8" stroke-width="2" />
<line x1="344.6" y1="334.7" x2="350" y2="334.7" stroke="#2a2ad8" stroke-width="1.6" />
<line x1="344.6" y1="345.1" x2="350" y2="345.1" stroke="#2a2ad8" stroke-width="1.6" />
<line x1="378.8" y1="298.7" x2="378.8" y2="314.2" stroke="#d81c1c" stroke-width="2" />
<line x1="376.1" y1="298.7" x2="381.5" y2="298.7" stroke="#d81c1c" stroke-width="1.6" />
<line x1="376.1" y1="314.2" x2="381.5" y2="314.2" stroke="#d81c1c" stroke-width="1.6" />
<line x1="410.7" y1="319.3" x2="410.7" y2="332.2" stroke="#d81c1c" stroke-width="2" />
<line x1="408" y1="319.3" x2="413.4" y2="319.3" stroke="#d81c1c" stroke-width="1.6" />
<line x1="408" y1="332.2" x2="413.4" y2="332.2" stroke="#d81c1c" stroke-width="1.6" />
<path d="M315.6 282.9 L315.6 241.9 L410.6 241.9 L410.6 269.4" stroke="#151515" stroke-width="1.4" fill="none"/>
<path d="M378.7 241.9 L378.7 246.7" stroke="#151515" stroke-width="1.4" fill="none"/>
<text x="342.5" y="240.8" font-size="16" font-weight="bold" font-style="normal" text-anchor="middle" fill="#000" >*</text>
<text x="351.6" y="240.8" font-size="16" font-weight="bold" font-style="normal" text-anchor="middle" fill="#000" >*</text>
<text x="394.7" y="240.8" font-size="16" font-weight="bold" font-style="normal" text-anchor="middle" fill="#000" >*</text>
<line x1="300" y1="375.5" x2="426.1" y2="375.5" stroke="#000" stroke-width="1.9" />
<text x="284.5" y="383.74" font-size="8.3" font-weight="bold" font-style="normal" text-anchor="start" fill="#000" >ND</text>
<text x="284.5" y="392.74" font-size="8.3" font-weight="bold" font-style="normal" text-anchor="start" fill="#000" >D</text>
<text x="284.5" y="402.04" font-size="8.3" font-weight="bold" font-style="normal" text-anchor="start" fill="#000" >Veh</text>
<text x="284.5" y="411.34" font-size="8.3" font-weight="bold">LXA<tspan font-size="5.15" dy="2.4">4</tspan></text>
<line x1="314.2" y1="381" x2="319.2" y2="381" stroke="#000" stroke-width="1.5" />
<line x1="316.7" y1="378.5" x2="316.7" y2="383.5" stroke="#000" stroke-width="1.5" />
<line x1="346.5" y1="381" x2="351.5" y2="381" stroke="#000" stroke-width="1.5" />
<line x1="349" y1="378.5" x2="349" y2="383.5" stroke="#000" stroke-width="1.5" />
<line x1="378.5" y1="381" x2="383.5" y2="381" stroke="#000" stroke-width="1.5" />
<line x1="410.7" y1="381" x2="415.7" y2="381" stroke="#000" stroke-width="1.5" />
<line x1="314.2" y1="390" x2="319.2" y2="390" stroke="#000" stroke-width="1.5" />
<line x1="346.5" y1="390" x2="351.5" y2="390" stroke="#000" stroke-width="1.5" />
<line x1="378.5" y1="390" x2="383.5" y2="390" stroke="#000" stroke-width="1.5" />
<line x1="381" y1="387.5" x2="381" y2="392.5" stroke="#000" stroke-width="1.5" />
<line x1="410.7" y1="390" x2="415.7" y2="390" stroke="#000" stroke-width="1.5" />
<line x1="413.2" y1="387.5" x2="413.2" y2="392.5" stroke="#000" stroke-width="1.5" />
<line x1="314.2" y1="399.3" x2="319.2" y2="399.3" stroke="#000" stroke-width="1.5" />
<line x1="316.7" y1="396.8" x2="316.7" y2="401.8" stroke="#000" stroke-width="1.5" />
<line x1="346.5" y1="399.3" x2="351.5" y2="399.3" stroke="#000" stroke-width="1.5" />
<line x1="378.5" y1="399.3" x2="383.5" y2="399.3" stroke="#000" stroke-width="1.5" />
<line x1="381" y1="396.8" x2="381" y2="401.8" stroke="#000" stroke-width="1.5" />
<line x1="410.7" y1="399.3" x2="415.7" y2="399.3" stroke="#000" stroke-width="1.5" />
<line x1="314.2" y1="408.6" x2="319.2" y2="408.6" stroke="#000" stroke-width="1.5" />
<line x1="346.5" y1="408.6" x2="351.5" y2="408.6" stroke="#000" stroke-width="1.5" />
<line x1="349" y1="406.1" x2="349" y2="411.1" stroke="#000" stroke-width="1.5" />
<line x1="378.5" y1="408.6" x2="383.5" y2="408.6" stroke="#000" stroke-width="1.5" />
<line x1="410.7" y1="408.6" x2="415.7" y2="408.6" stroke="#000" stroke-width="1.5" />
<line x1="413.2" y1="406.1" x2="413.2" y2="411.1" stroke="#000" stroke-width="1.5" />
<text x="457" y="230.1" font-size="19.5" font-weight="bold" font-style="normal" text-anchor="start" fill="#000" >D</text>
<text x="504" y="301.2" font-size="11.8" font-weight="bold" text-anchor="middle" transform="rotate(-90 504 301.2)" >% LV collagen deposition area</text>
<text x="517.5" y="305.3" font-size="12" font-weight="bold" text-anchor="middle" transform="rotate(-90 517.5 305.3)" >(Perivascular)</text>
<line x1="545.8" y1="242.1" x2="545.8" y2="369.6" stroke="#151515" stroke-width="1.4" />
<line x1="542.8" y1="242.7" x2="545.8" y2="242.7" stroke="#151515" stroke-width="1.3" />
<text x="541.2" y="246.66" font-size="12" font-weight="bold" font-style="normal" text-anchor="end" fill="#000" >0.12</text>
<line x1="542.8" y1="274.3" x2="545.8" y2="274.3" stroke="#151515" stroke-width="1.3" />
<text x="541.2" y="278.26" font-size="12" font-weight="bold" font-style="normal" text-anchor="end" fill="#000" >0.09</text>
<line x1="542.8" y1="305.9" x2="545.8" y2="305.9" stroke="#151515" stroke-width="1.3" />
<text x="541.2" y="309.86" font-size="12" font-weight="bold" font-style="normal" text-anchor="end" fill="#000" >0.06</text>
<line x1="542.8" y1="337.4" x2="545.8" y2="337.4" stroke="#151515" stroke-width="1.3" />
<text x="541.2" y="341.36" font-size="12" font-weight="bold" font-style="normal" text-anchor="end" fill="#000" >0.03</text>
<line x1="542.8" y1="369" x2="545.8" y2="369" stroke="#151515" stroke-width="1.3" />
<text x="541.2" y="372.96" font-size="12" font-weight="bold" font-style="normal" text-anchor="end" fill="#000" >0.00</text>
<line x1="546.8" y1="369" x2="678.2" y2="369" stroke="#5a5a5a" stroke-width="1" stroke-dasharray="1 1.5"/>
<rect x="559.4" y="345.2" width="22.3" height="24.1" fill="none" stroke="#1c1cd6" stroke-width="2"/>
<rect x="591.55" y="339.95" width="22.3" height="29.35" fill="none" stroke="#2424d8" stroke-width="1.9"/>
<rect x="622.6" y="322.4" width="23.2" height="46.9" fill="none" stroke="#e04e4e" stroke-width="1.6"/>
<rect x="654.85" y="341.55" width="22.4" height="27.75" fill="none" stroke="#d81c1c" stroke-width="1.9"/>
<circle cx="570.2" cy="317.3" r="2.45" fill="none" stroke="#6f6fe8" stroke-width="1.05"/>
<circle cx="573.7" cy="335" r="2.45" fill="none" stroke="#6f6fe8" stroke-width="1.05"/>
<circle cx="567.1" cy="338.7" r="2.45" fill="none" stroke="#6f6fe8" stroke-width="1.05"/>
<circle cx="580.8" cy="338.7" r="2.45" fill="none" stroke="#6f6fe8" stroke-width="1.05"/>
<circle cx="560.3" cy="341.4" r="2.45" fill="none" stroke="#6f6fe8" stroke-width="1.05"/>
<circle cx="567.1" cy="346.1" r="2.45" fill="none" stroke="#6f6fe8" stroke-width="1.05"/>
<circle cx="573.7" cy="347.7" r="2.45" fill="none" stroke="#6f6fe8" stroke-width="1.05"/>
<circle cx="567.1" cy="351.3" r="2.45" fill="none" stroke="#6f6fe8" stroke-width="1.05"/>
<circle cx="570.2" cy="357.2" r="2.45" fill="none" stroke="#6f6fe8" stroke-width="1.05"/>
<circle cx="570.2" cy="364.6" r="2.45" fill="none" stroke="#6f6fe8" stroke-width="1.05"/>
<circle cx="573.7" cy="342.1" r="2.45" fill="none" stroke="#6f6fe8" stroke-width="1.05"/>
<path d="M599.35 288.3 L605.45 288.3 L602.4 293.3 Z" fill="none" stroke="#6f6fe8" stroke-width="1.05" stroke-linejoin="miter"/>
<path d="M599.35 304.1 L605.45 304.1 L602.4 309.1 Z" fill="none" stroke="#6f6fe8" stroke-width="1.05" stroke-linejoin="miter"/>
<path d="M594.05 319.4 L600.15 319.4 L597.1 324.4 Z" fill="none" stroke="#6f6fe8" stroke-width="1.05" stroke-linejoin="miter"/>
<path d="M604.65 318.8 L610.75 318.8 L607.7 323.8 Z" fill="none" stroke="#6f6fe8" stroke-width="1.05" stroke-linejoin="miter"/>
<path d="M599.35 346 L605.45 346 L602.4 351 Z" fill="none" stroke="#6f6fe8" stroke-width="1.05" stroke-linejoin="miter"/>
<path d="M589.25 350.7 L595.35 350.7 L592.3 355.7 Z" fill="none" stroke="#6f6fe8" stroke-width="1.05" stroke-linejoin="miter"/>
<path d="M609.35 349.9 L615.45 349.9 L612.4 354.9 Z" fill="none" stroke="#6f6fe8" stroke-width="1.05" stroke-linejoin="miter"/>
<path d="M609.35 355.1 L615.45 355.1 L612.4 360.1 Z" fill="none" stroke="#6f6fe8" stroke-width="1.05" stroke-linejoin="miter"/>
<path d="M599.35 356.2 L605.45 356.2 L602.4 361.2 Z" fill="none" stroke="#6f6fe8" stroke-width="1.05" stroke-linejoin="miter"/>
<path d="M599.35 361.8 L605.45 361.8 L602.4 366.8 Z" fill="none" stroke="#6f6fe8" stroke-width="1.05" stroke-linejoin="miter"/>
<path d="M599.35 337.5 L605.45 337.5 L602.4 342.5 Z" fill="none" stroke="#6f6fe8" stroke-width="1.05" stroke-linejoin="miter"/>
<circle cx="623.9" cy="286.1" r="2.45" fill="none" stroke="#f08585" stroke-width="1.05"/>
<circle cx="634" cy="288.1" r="2.45" fill="none" stroke="#f08585" stroke-width="1.05"/>
<circle cx="634" cy="303" r="2.45" fill="none" stroke="#f08585" stroke-width="1.05"/>
<circle cx="634" cy="309.8" r="2.45" fill="none" stroke="#f08585" stroke-width="1.05"/>
<circle cx="634" cy="323.2" r="2.45" fill="none" stroke="#f08585" stroke-width="1.05"/>
<circle cx="634" cy="338.7" r="2.45" fill="none" stroke="#f08585" stroke-width="1.05"/>
<circle cx="634" cy="346.1" r="2.45" fill="none" stroke="#f08585" stroke-width="1.05"/>
<circle cx="623.9" cy="348.8" r="2.45" fill="none" stroke="#f08585" stroke-width="1.05"/>
<circle cx="644.4" cy="346.1" r="2.45" fill="none" stroke="#f08585" stroke-width="1.05"/>
<path d="M652.75 327.3 L658.85 327.3 L655.8 332.3 Z" fill="none" stroke="#f08585" stroke-width="1.05" stroke-linejoin="miter"/>
<path d="M659.05 327 L665.15 327 L662.1 332 Z" fill="none" stroke="#f08585" stroke-width="1.05" stroke-linejoin="miter"/>
<path d="M665.35 326.2 L671.45 326.2 L668.4 331.2 Z" fill="none" stroke="#f08585" stroke-width="1.05" stroke-linejoin="miter"/>
<path d="M672.45 327.8 L678.55 327.8 L675.5 332.8 Z" fill="none" stroke="#f08585" stroke-width="1.05" stroke-linejoin="miter"/>
<path d="M662.25 330.2 L668.35 330.2 L665.3 335.2 Z" fill="none" stroke="#f08585" stroke-width="1.05" stroke-linejoin="miter"/>
<path d="M669.35 329.9 L675.45 329.9 L672.4 334.9 Z" fill="none" stroke="#f08585" stroke-width="1.05" stroke-linejoin="miter"/>
<path d="M659.05 346.3 L665.15 346.3 L662.1 351.3 Z" fill="none" stroke="#f08585" stroke-width="1.05" stroke-linejoin="miter"/>
<path d="M666.15 346.3 L672.25 346.3 L669.2 351.3 Z" fill="none" stroke="#f08585" stroke-width="1.05" stroke-linejoin="miter"/>
<path d="M662.55 349.9 L668.65 349.9 L665.6 354.9 Z" fill="none" stroke="#f08585" stroke-width="1.05" stroke-linejoin="miter"/>
<path d="M662.55 357 L668.65 357 L665.6 362 Z" fill="none" stroke="#f08585" stroke-width="1.05" stroke-linejoin="miter"/>
<path d="M662.55 342.8 L668.65 342.8 L665.6 347.8 Z" fill="none" stroke="#f08585" stroke-width="1.05" stroke-linejoin="miter"/>
<line x1="570.2" y1="339.8" x2="570.2" y2="347.2" stroke="#1c1cd6" stroke-width="2" />
<line x1="567.5" y1="339.8" x2="572.9" y2="339.8" stroke="#1c1cd6" stroke-width="1.6" />
<line x1="567.5" y1="347.2" x2="572.9" y2="347.2" stroke="#1c1cd6" stroke-width="1.6" />
<line x1="602.4" y1="331.1" x2="602.4" y2="346.1" stroke="#1c1cd6" stroke-width="2" />
<line x1="599.7" y1="331.1" x2="605.1" y2="331.1" stroke="#1c1cd6" stroke-width="1.6" />
<line x1="599.7" y1="346.1" x2="605.1" y2="346.1" stroke="#1c1cd6" stroke-width="1.6" />
<line x1="634" y1="312.5" x2="634" y2="329.5" stroke="#dc2a2a" stroke-width="2" />
<line x1="631.3" y1="312.5" x2="636.7" y2="312.5" stroke="#dc2a2a" stroke-width="1.6" />
<line x1="631.3" y1="329.5" x2="636.7" y2="329.5" stroke="#dc2a2a" stroke-width="1.6" />
<line x1="665.6" y1="336.6" x2="665.6" y2="343.4" stroke="#d81c1c" stroke-width="2" />
<line x1="662.9" y1="336.6" x2="668.3" y2="336.6" stroke="#d81c1c" stroke-width="1.6" />
<line x1="662.9" y1="343.4" x2="668.3" y2="343.4" stroke="#d81c1c" stroke-width="1.6" />
<path d="M570.1 302.7 L570.1 243 L666 243 L666 268.7" stroke="#151515" stroke-width="1.4" fill="none"/>
<path d="M634 243 L634 252.6" stroke="#151515" stroke-width="1.4" fill="none"/>
<text x="602.3" y="241.8" font-size="16" font-weight="bold" font-style="normal" text-anchor="middle" fill="#000" >*</text>
<text x="650" y="241.8" font-size="16" font-weight="bold" font-style="normal" text-anchor="middle" fill="#000" >*</text>
<line x1="554.8" y1="377.3" x2="681.1" y2="377.3" stroke="#000" stroke-width="1.9" />
<text x="540.2" y="385.94" font-size="8.3" font-weight="bold" font-style="normal" text-anchor="start" fill="#000" >ND</text>
<text x="540.2" y="395.34" font-size="8.3" font-weight="bold" font-style="normal" text-anchor="start" fill="#000" >D</text>
<text x="540.2" y="404.44" font-size="8.3" font-weight="bold" font-style="normal" text-anchor="start" fill="#000" >Veh</text>
<text x="540.2" y="414.04" font-size="8.3" font-weight="bold">LXA<tspan font-size="5.15" dy="2.4">4</tspan></text>
<line x1="569.2" y1="383.2" x2="574.2" y2="383.2" stroke="#000" stroke-width="1.5" />
<line x1="571.7" y1="380.7" x2="571.7" y2="385.7" stroke="#000" stroke-width="1.5" />
<line x1="601.9" y1="383.2" x2="606.9" y2="383.2" stroke="#000" stroke-width="1.5" />
<line x1="604.4" y1="380.7" x2="604.4" y2="385.7" stroke="#000" stroke-width="1.5" />
<line x1="633.9" y1="383.2" x2="638.9" y2="383.2" stroke="#000" stroke-width="1.5" />
<line x1="666.2" y1="383.2" x2="671.2" y2="383.2" stroke="#000" stroke-width="1.5" />
<line x1="569.2" y1="392.6" x2="574.2" y2="392.6" stroke="#000" stroke-width="1.5" />
<line x1="601.9" y1="392.6" x2="606.9" y2="392.6" stroke="#000" stroke-width="1.5" />
<line x1="633.9" y1="392.6" x2="638.9" y2="392.6" stroke="#000" stroke-width="1.5" />
<line x1="636.4" y1="390.1" x2="636.4" y2="395.1" stroke="#000" stroke-width="1.5" />
<line x1="666.2" y1="392.6" x2="671.2" y2="392.6" stroke="#000" stroke-width="1.5" />
<line x1="668.7" y1="390.1" x2="668.7" y2="395.1" stroke="#000" stroke-width="1.5" />
<line x1="569.2" y1="401.7" x2="574.2" y2="401.7" stroke="#000" stroke-width="1.5" />
<line x1="571.7" y1="399.2" x2="571.7" y2="404.2" stroke="#000" stroke-width="1.5" />
<line x1="601.9" y1="401.7" x2="606.9" y2="401.7" stroke="#000" stroke-width="1.5" />
<line x1="633.9" y1="401.7" x2="638.9" y2="401.7" stroke="#000" stroke-width="1.5" />
<line x1="636.4" y1="399.2" x2="636.4" y2="404.2" stroke="#000" stroke-width="1.5" />
<line x1="666.2" y1="401.7" x2="671.2" y2="401.7" stroke="#000" stroke-width="1.5" />
<line x1="569.2" y1="411.3" x2="574.2" y2="411.3" stroke="#000" stroke-width="1.5" />
<line x1="601.9" y1="411.3" x2="606.9" y2="411.3" stroke="#000" stroke-width="1.5" />
<line x1="604.4" y1="408.8" x2="604.4" y2="413.8" stroke="#000" stroke-width="1.5" />
<line x1="633.9" y1="411.3" x2="638.9" y2="411.3" stroke="#000" stroke-width="1.5" />
<line x1="666.2" y1="411.3" x2="671.2" y2="411.3" stroke="#000" stroke-width="1.5" />
<line x1="668.7" y1="408.8" x2="668.7" y2="413.8" stroke="#000" stroke-width="1.5" />
<text x="3.2" y="443.3" font-size="17.2" font-weight="bold" font-style="normal" text-anchor="start" fill="#000" >E</text>
<text x="37.5" y="555.2" font-size="16.2" font-weight="bold" text-anchor="middle" transform="rotate(-90 37.5 555.2)" >LV fibrotic genes</text>
<text x="56.3" y="555.2" font-size="16.2" font-weight="bold" text-anchor="middle" transform="rotate(-90 56.3 555.2)" >(fold of control mean)</text>
<line x1="83.2" y1="452.3" x2="83.2" y2="493.8" stroke="#151515" stroke-width="1.5" />
<line x1="78.2" y1="452.9" x2="83.9" y2="452.9" stroke="#151515" stroke-width="1.4" />
<line x1="80" y1="493.8" x2="85.7" y2="493.8" stroke="#151515" stroke-width="1.5" />
<line x1="83.2" y1="501.3" x2="83.2" y2="664.7" stroke="#151515" stroke-width="1.5" />
<line x1="80" y1="501.3" x2="85.7" y2="501.3" stroke="#151515" stroke-width="1.5" />
<line x1="79" y1="582.3" x2="83.2" y2="582.3" stroke="#151515" stroke-width="1.4" />
<line x1="79" y1="664" x2="83.2" y2="664" stroke="#151515" stroke-width="1.4" />
<text x="76.3" y="457.9" font-size="13.5" font-weight="bold" font-style="normal" text-anchor="end" fill="#000" >15</text>
<text x="75.9" y="505.9" font-size="13.2" font-weight="bold" font-style="normal" text-anchor="end" fill="#000" >5.0</text>
<text x="76.5" y="586.7" font-size="13.2" font-weight="bold" font-style="normal" text-anchor="end" fill="#000" >2.5</text>
<text x="76.9" y="668.6" font-size="13.2" font-weight="bold" font-style="normal" text-anchor="end" fill="#000" >0.0</text>
<line x1="84.2" y1="664" x2="670.7" y2="664" stroke="#5a5a5a" stroke-width="1" stroke-dasharray="1 1.5"/>
<line x1="91.7" y1="673.8" x2="673.3" y2="673.8" stroke="#000" stroke-width="2" />
<text x="73.9" y="682.54" font-size="8.3" font-weight="bold" font-style="normal" text-anchor="start" fill="#000" >ND</text>
<text x="73.9" y="692.34" font-size="8.3" font-weight="bold" font-style="normal" text-anchor="start" fill="#000" >D</text>
<text x="73.9" y="701.54" font-size="8.3" font-weight="bold" font-style="normal" text-anchor="start" fill="#000" >Veh</text>
<text x="73.9" y="711.74" font-size="8.3" font-weight="bold">LXA<tspan font-size="5.15" dy="2.4">4</tspan></text>
<text x="130.4" y="435" font-size="14" font-weight="bold" font-style="italic" text-anchor="start" fill="#000" >Ccn2</text>
<rect x="96.2" y="633.2" width="19.4" height="31.1" fill="none" stroke="#1c1cd6" stroke-width="1.8"/>
<rect x="120.5" y="634.4" width="20.1" height="29.9" fill="none" stroke="#5a5ae6" stroke-width="1.4"/>
<rect x="145" y="553.2" width="19.6" height="111.1" fill="none" stroke="#d81c1c" stroke-width="1.6"/>
<rect x="169.3" y="612.3" width="19.8" height="52" fill="none" stroke="#d81c1c" stroke-width="1.6"/>
<circle cx="105.8" cy="568.5" r="2.5" fill="none" stroke="#6f6fe8" stroke-width="1.1"/>
<circle cx="105.8" cy="606.9" r="2.5" fill="none" stroke="#6f6fe8" stroke-width="1.1"/>
<circle cx="105.8" cy="616.2" r="2.5" fill="none" stroke="#6f6fe8" stroke-width="1.1"/>
<circle cx="110.6" cy="622" r="2.5" fill="none" stroke="#6f6fe8" stroke-width="1.1"/>
<circle cx="105.8" cy="623.5" r="2.5" fill="none" stroke="#6f6fe8" stroke-width="1.1"/>
<circle cx="101.9" cy="629.8" r="2.5" fill="none" stroke="#6f6fe8" stroke-width="1.1"/>
<circle cx="109.9" cy="629" r="2.5" fill="none" stroke="#6f6fe8" stroke-width="1.1"/>
<circle cx="96.8" cy="640.7" r="2.5" fill="none" stroke="#6f6fe8" stroke-width="1.1"/>
<circle cx="101.9" cy="640.7" r="2.5" fill="none" stroke="#6f6fe8" stroke-width="1.1"/>
<circle cx="105.8" cy="640.7" r="2.5" fill="none" stroke="#6f6fe8" stroke-width="1.1"/>
<circle cx="110.6" cy="640.7" r="2.5" fill="none" stroke="#6f6fe8" stroke-width="1.1"/>
<circle cx="96.8" cy="645.1" r="2.5" fill="none" stroke="#6f6fe8" stroke-width="1.1"/>
<circle cx="101.9" cy="644.4" r="2.5" fill="none" stroke="#6f6fe8" stroke-width="1.1"/>
<circle cx="105.8" cy="647.7" r="2.5" fill="none" stroke="#6f6fe8" stroke-width="1.1"/>
<circle cx="110.6" cy="645.1" r="2.5" fill="none" stroke="#6f6fe8" stroke-width="1.1"/>
<circle cx="115" cy="645.1" r="2.5" fill="none" stroke="#6f6fe8" stroke-width="1.1"/>
<circle cx="105.8" cy="655.3" r="2.5" fill="none" stroke="#6f6fe8" stroke-width="1.1"/>
<path d="M126.9 609 L133.7 609 L130.3 614.6 Z" fill="none" stroke="#6f6fe8" stroke-width="1.1" stroke-linejoin="miter"/>
<path d="M123.3 616.8 L130.1 616.8 L126.7 622.4 Z" fill="none" stroke="#6f6fe8" stroke-width="1.1" stroke-linejoin="miter"/>
<path d="M130.6 616.8 L137.4 616.8 L134 622.4 Z" fill="none" stroke="#6f6fe8" stroke-width="1.1" stroke-linejoin="miter"/>
<path d="M126.9 624.5 L133.7 624.5 L130.3 630.1 Z" fill="none" stroke="#6f6fe8" stroke-width="1.1" stroke-linejoin="miter"/>
<path d="M118.2 642 L125 642 L121.6 647.6 Z" fill="none" stroke="#6f6fe8" stroke-width="1.1" stroke-linejoin="miter"/>
<path d="M123.3 639.4 L130.1 639.4 L126.7 645 Z" fill="none" stroke="#6f6fe8" stroke-width="1.1" stroke-linejoin="miter"/>
<path d="M129.9 641.1 L136.7 641.1 L133.3 646.7 Z" fill="none" stroke="#6f6fe8" stroke-width="1.1" stroke-linejoin="miter"/>
<path d="M135.7 640.1 L142.5 640.1 L139.1 645.7 Z" fill="none" stroke="#6f6fe8" stroke-width="1.1" stroke-linejoin="miter"/>
<path d="M126.9 638.2 L133.7 638.2 L130.3 643.8 Z" fill="none" stroke="#6f6fe8" stroke-width="1.1" stroke-linejoin="miter"/>
<circle cx="154.6" cy="463.4" r="2.5" fill="none" stroke="#f08585" stroke-width="1.1"/>
<circle cx="154.6" cy="473.4" r="2.5" fill="none" stroke="#f08585" stroke-width="1.1"/>
<circle cx="154.7" cy="549.5" r="2.5" fill="none" stroke="#f08585" stroke-width="1.1"/>
<circle cx="150" cy="579.7" r="2.5" fill="none" stroke="#f08585" stroke-width="1.1"/>
<circle cx="159.2" cy="578.2" r="2.5" fill="none" stroke="#f08585" stroke-width="1.1"/>
<circle cx="150" cy="591.4" r="2.5" fill="none" stroke="#f08585" stroke-width="1.1"/>
<circle cx="159.2" cy="595.5" r="2.5" fill="none" stroke="#f08585" stroke-width="1.1"/>
<circle cx="154.7" cy="609.8" r="2.5" fill="none" stroke="#f08585" stroke-width="1.1"/>
<circle cx="150" cy="624.7" r="2.5" fill="none" stroke="#f08585" stroke-width="1.1"/>
<circle cx="159.2" cy="623.9" r="2.5" fill="none" stroke="#f08585" stroke-width="1.1"/>
<circle cx="150" cy="636.4" r="2.5" fill="none" stroke="#f08585" stroke-width="1.1"/>
<circle cx="159.2" cy="632.7" r="2.5" fill="none" stroke="#f08585" stroke-width="1.1"/>
<path d="M175.6 554.4 L182.4 554.4 L179 560 Z" fill="none" stroke="#f08585" stroke-width="1.1" stroke-linejoin="miter"/>
<path d="M166.8 586.5 L173.6 586.5 L170.2 592.1 Z" fill="none" stroke="#f08585" stroke-width="1.1" stroke-linejoin="miter"/>
<path d="M175.6 584.2 L182.4 584.2 L179 589.8 Z" fill="none" stroke="#f08585" stroke-width="1.1" stroke-linejoin="miter"/>
<path d="M184.3 583.9 L191.1 583.9 L187.7 589.5 Z" fill="none" stroke="#f08585" stroke-width="1.1" stroke-linejoin="miter"/>
<path d="M175.6 590.9 L182.4 590.9 L179 596.5 Z" fill="none" stroke="#f08585" stroke-width="1.1" stroke-linejoin="miter"/>
<path d="M171.2 612.8 L178 612.8 L174.6 618.4 Z" fill="none" stroke="#f08585" stroke-width="1.1" stroke-linejoin="miter"/>
<path d="M180 612.8 L186.8 612.8 L183.4 618.4 Z" fill="none" stroke="#f08585" stroke-width="1.1" stroke-linejoin="miter"/>
<path d="M175.6 619.7 L182.4 619.7 L179 625.3 Z" fill="none" stroke="#f08585" stroke-width="1.1" stroke-linejoin="miter"/>
<path d="M166.8 632.8 L173.6 632.8 L170.2 638.4 Z" fill="none" stroke="#f08585" stroke-width="1.1" stroke-linejoin="miter"/>
<path d="M175.6 635.3 L182.4 635.3 L179 640.9 Z" fill="none" stroke="#f08585" stroke-width="1.1" stroke-linejoin="miter"/>
<path d="M184.3 635.3 L191.1 635.3 L187.7 640.9 Z" fill="none" stroke="#f08585" stroke-width="1.1" stroke-linejoin="miter"/>
<path d="M175.6 641.1 L182.4 641.1 L179 646.7 Z" fill="none" stroke="#f08585" stroke-width="1.1" stroke-linejoin="miter"/>
<line x1="105.8" y1="626.9" x2="105.8" y2="636.6" stroke="#1c1cd6" stroke-width="2" />
<line x1="100.8" y1="626.9" x2="110.8" y2="626.9" stroke="#1c1cd6" stroke-width="1.7" />
<line x1="100.8" y1="636.6" x2="110.8" y2="636.6" stroke="#1c1cd6" stroke-width="1.7" />
<line x1="130.3" y1="628.8" x2="130.3" y2="637.1" stroke="#2a2ad8" stroke-width="2" />
<line x1="125.3" y1="628.8" x2="135.3" y2="628.8" stroke="#2a2ad8" stroke-width="1.7" />
<line x1="125.3" y1="637.1" x2="135.3" y2="637.1" stroke="#2a2ad8" stroke-width="1.7" />
<line x1="154.7" y1="516.4" x2="154.7" y2="587" stroke="#d81c1c" stroke-width="2" />
<line x1="149.7" y1="516.4" x2="159.7" y2="516.4" stroke="#d81c1c" stroke-width="1.7" />
<line x1="149.7" y1="587" x2="159.7" y2="587" stroke="#d81c1c" stroke-width="1.7" />
<line x1="179" y1="603.1" x2="179" y2="618.8" stroke="#d81c1c" stroke-width="2" />
<line x1="174" y1="603.1" x2="184" y2="603.1" stroke="#d81c1c" stroke-width="1.7" />
<line x1="174" y1="618.8" x2="184" y2="618.8" stroke="#d81c1c" stroke-width="1.7" />
<path d="M106 486.2 L106 451.1 L151.7 451.1 L151.7 457.5" stroke="#151515" stroke-width="1.4" fill="none"/>
<path d="M154.8 457.5 L154.8 451.1 L179.3 451.1 L179.3 539.1" stroke="#151515" stroke-width="1.4" fill="none"/>
<text x="125.1" y="449.36" font-size="11.5" font-weight="bold" font-style="normal" text-anchor="middle" fill="#000" >*</text>
<text x="131.9" y="449.36" font-size="11.5" font-weight="bold" font-style="normal" text-anchor="middle" fill="#000" >*</text>
<text x="166.8" y="449.36" font-size="11.5" font-weight="bold" font-style="normal" text-anchor="middle" fill="#000" >*</text>
<line x1="102.9" y1="679.8" x2="107.9" y2="679.8" stroke="#000" stroke-width="1.5" />
<line x1="105.4" y1="677.3" x2="105.4" y2="682.3" stroke="#000" stroke-width="1.5" />
<line x1="127" y1="679.8" x2="132" y2="679.8" stroke="#000" stroke-width="1.5" />
<line x1="129.5" y1="677.3" x2="129.5" y2="682.3" stroke="#000" stroke-width="1.5" />
<line x1="152.1" y1="679.8" x2="157.1" y2="679.8" stroke="#000" stroke-width="1.5" />
<line x1="176.6" y1="679.8" x2="181.6" y2="679.8" stroke="#000" stroke-width="1.5" />
<line x1="102.9" y1="689.6" x2="107.9" y2="689.6" stroke="#000" stroke-width="1.5" />
<line x1="127" y1="689.6" x2="132" y2="689.6" stroke="#000" stroke-width="1.5" />
<line x1="152.1" y1="689.6" x2="157.1" y2="689.6" stroke="#000" stroke-width="1.5" />
<line x1="154.6" y1="687.1" x2="154.6" y2="692.1" stroke="#000" stroke-width="1.5" />
<line x1="176.6" y1="689.6" x2="181.6" y2="689.6" stroke="#000" stroke-width="1.5" />
<line x1="179.1" y1="687.1" x2="179.1" y2="692.1" stroke="#000" stroke-width="1.5" />
<line x1="102.9" y1="698.8" x2="107.9" y2="698.8" stroke="#000" stroke-width="1.5" />
<line x1="105.4" y1="696.3" x2="105.4" y2="701.3" stroke="#000" stroke-width="1.5" />
<line x1="127" y1="698.8" x2="132" y2="698.8" stroke="#000" stroke-width="1.5" />
<line x1="152.1" y1="698.8" x2="157.1" y2="698.8" stroke="#000" stroke-width="1.5" />
<line x1="154.6" y1="696.3" x2="154.6" y2="701.3" stroke="#000" stroke-width="1.5" />
<line x1="176.6" y1="698.8" x2="181.6" y2="698.8" stroke="#000" stroke-width="1.5" />
<line x1="102.9" y1="709" x2="107.9" y2="709" stroke="#000" stroke-width="1.5" />
<line x1="127" y1="709" x2="132" y2="709" stroke="#000" stroke-width="1.5" />
<line x1="129.5" y1="706.5" x2="129.5" y2="711.5" stroke="#000" stroke-width="1.5" />
<line x1="152.1" y1="709" x2="157.1" y2="709" stroke="#000" stroke-width="1.5" />
<line x1="176.6" y1="709" x2="181.6" y2="709" stroke="#000" stroke-width="1.5" />
<line x1="179.1" y1="706.5" x2="179.1" y2="711.5" stroke="#000" stroke-width="1.5" />
<text x="245.4" y="435" font-size="14" font-weight="bold" font-style="italic" text-anchor="start" fill="#000" >Mmp9</text>
<rect x="215.9" y="633.3" width="19.8" height="31" fill="none" stroke="#1c1cd6" stroke-width="1.8"/>
<rect x="240.3" y="617" width="19.7" height="47.3" fill="none" stroke="#5a5ae6" stroke-width="1.4"/>
<rect x="265" y="604.7" width="19.7" height="59.6" fill="none" stroke="#d81c1c" stroke-width="1.6"/>
<rect x="289.5" y="621.4" width="19.3" height="42.9" fill="none" stroke="#d81c1c" stroke-width="1.6"/>
<circle cx="225.6" cy="587.9" r="2.5" fill="none" stroke="#6f6fe8" stroke-width="1.1"/>
<circle cx="225.6" cy="607.1" r="2.5" fill="none" stroke="#6f6fe8" stroke-width="1.1"/>
<circle cx="225.6" cy="615.1" r="2.5" fill="none" stroke="#6f6fe8" stroke-width="1.1"/>
<circle cx="228.5" cy="620.9" r="2.5" fill="none" stroke="#6f6fe8" stroke-width="1.1"/>
<circle cx="222.7" cy="624.8" r="2.5" fill="none" stroke="#6f6fe8" stroke-width="1.1"/>
<circle cx="217" cy="633.2" r="2.5" fill="none" stroke="#6f6fe8" stroke-width="1.1"/>
<circle cx="222.7" cy="632.8" r="2.5" fill="none" stroke="#6f6fe8" stroke-width="1.1"/>
<circle cx="217" cy="638.3" r="2.5" fill="none" stroke="#6f6fe8" stroke-width="1.1"/>
<circle cx="222.7" cy="640.1" r="2.5" fill="none" stroke="#6f6fe8" stroke-width="1.1"/>
<circle cx="228.5" cy="637.1" r="2.5" fill="none" stroke="#6f6fe8" stroke-width="1.1"/>
<circle cx="234.4" cy="640.1" r="2.5" fill="none" stroke="#6f6fe8" stroke-width="1.1"/>
<circle cx="217" cy="643.8" r="2.5" fill="none" stroke="#6f6fe8" stroke-width="1.1"/>
<circle cx="222.7" cy="645" r="2.5" fill="none" stroke="#6f6fe8" stroke-width="1.1"/>
<circle cx="228.5" cy="646.6" r="2.5" fill="none" stroke="#6f6fe8" stroke-width="1.1"/>
<circle cx="234.4" cy="646.9" r="2.5" fill="none" stroke="#6f6fe8" stroke-width="1.1"/>
<circle cx="217" cy="649.9" r="2.5" fill="none" stroke="#6f6fe8" stroke-width="1.1"/>
<path d="M247.1 510.1 L253.9 510.1 L250.5 515.7 Z" fill="none" stroke="#6f6fe8" stroke-width="1.1" stroke-linejoin="miter"/>
<path d="M238.1 608.6 L244.9 608.6 L241.5 614.2 Z" fill="none" stroke="#6f6fe8" stroke-width="1.1" stroke-linejoin="miter"/>
<path d="M246.9 607.4 L253.7 607.4 L250.3 613 Z" fill="none" stroke="#6f6fe8" stroke-width="1.1" stroke-linejoin="miter"/>
<path d="M255.4 606.1 L262.2 606.1 L258.8 611.7 Z" fill="none" stroke="#6f6fe8" stroke-width="1.1" stroke-linejoin="miter"/>
<path d="M238.1 630.4 L244.9 630.4 L241.5 636 Z" fill="none" stroke="#6f6fe8" stroke-width="1.1" stroke-linejoin="miter"/>
<path d="M246.9 629.4 L253.7 629.4 L250.3 635 Z" fill="none" stroke="#6f6fe8" stroke-width="1.1" stroke-linejoin="miter"/>
<path d="M255.4 630.6 L262.2 630.6 L258.8 636.2 Z" fill="none" stroke="#6f6fe8" stroke-width="1.1" stroke-linejoin="miter"/>
<path d="M246.9 641.4 L253.7 641.4 L250.3 647 Z" fill="none" stroke="#6f6fe8" stroke-width="1.1" stroke-linejoin="miter"/>
<path d="M246.9 647.7 L253.7 647.7 L250.3 653.3 Z" fill="none" stroke="#6f6fe8" stroke-width="1.1" stroke-linejoin="miter"/>
<circle cx="274.5" cy="563.8" r="2.5" fill="none" stroke="#f08585" stroke-width="1.1"/>
<circle cx="269.7" cy="583.8" r="2.5" fill="none" stroke="#f08585" stroke-width="1.1"/>
<circle cx="279.2" cy="583.1" r="2.5" fill="none" stroke="#f08585" stroke-width="1.1"/>
<circle cx="279.2" cy="591.4" r="2.5" fill="none" stroke="#f08585" stroke-width="1.1"/>
<circle cx="269.7" cy="595.2" r="2.5" fill="none" stroke="#f08585" stroke-width="1.1"/>
<circle cx="279.2" cy="605.4" r="2.5" fill="none" stroke="#f08585" stroke-width="1.1"/>
<circle cx="269.7" cy="610.1" r="2.5" fill="none" stroke="#f08585" stroke-width="1.1"/>
<circle cx="279.2" cy="612.3" r="2.5" fill="none" stroke="#f08585" stroke-width="1.1"/>
<circle cx="279.2" cy="618.8" r="2.5" fill="none" stroke="#f08585" stroke-width="1.1"/>
<circle cx="269.7" cy="620.7" r="2.5" fill="none" stroke="#f08585" stroke-width="1.1"/>
<circle cx="279.2" cy="624.4" r="2.5" fill="none" stroke="#f08585" stroke-width="1.1"/>
<circle cx="274.5" cy="632.3" r="2.5" fill="none" stroke="#f08585" stroke-width="1.1"/>
<path d="M295.5 577.3 L302.3 577.3 L298.9 582.9 Z" fill="none" stroke="#f08585" stroke-width="1.1" stroke-linejoin="miter"/>
<path d="M295.5 583.9 L302.3 583.9 L298.9 589.5 Z" fill="none" stroke="#f08585" stroke-width="1.1" stroke-linejoin="miter"/>
<path d="M295.5 604.1 L302.3 604.1 L298.9 609.7 Z" fill="none" stroke="#f08585" stroke-width="1.1" stroke-linejoin="miter"/>
<path d="M290.4 613.8 L297.2 613.8 L293.8 619.4 Z" fill="none" stroke="#f08585" stroke-width="1.1" stroke-linejoin="miter"/>
<path d="M300.3 613.8 L307.1 613.8 L303.7 619.4 Z" fill="none" stroke="#f08585" stroke-width="1.1" stroke-linejoin="miter"/>
<path d="M286.7 623.3 L293.5 623.3 L290.1 628.9 Z" fill="none" stroke="#f08585" stroke-width="1.1" stroke-linejoin="miter"/>
<path d="M305 619.7 L311.8 619.7 L308.4 625.3 Z" fill="none" stroke="#f08585" stroke-width="1.1" stroke-linejoin="miter"/>
<path d="M305 624.8 L311.8 624.8 L308.4 630.4 Z" fill="none" stroke="#f08585" stroke-width="1.1" stroke-linejoin="miter"/>
<path d="M295.5 626.2 L302.3 626.2 L298.9 631.8 Z" fill="none" stroke="#f08585" stroke-width="1.1" stroke-linejoin="miter"/>
<path d="M290.4 632.8 L297.2 632.8 L293.8 638.4 Z" fill="none" stroke="#f08585" stroke-width="1.1" stroke-linejoin="miter"/>
<path d="M300.3 634.3 L307.1 634.3 L303.7 639.9 Z" fill="none" stroke="#f08585" stroke-width="1.1" stroke-linejoin="miter"/>
<path d="M295.5 644.5 L302.3 644.5 L298.9 650.1 Z" fill="none" stroke="#f08585" stroke-width="1.1" stroke-linejoin="miter"/>
<line x1="225.6" y1="627.3" x2="225.6" y2="634.9" stroke="#1c1cd6" stroke-width="2" />
<line x1="220.6" y1="627.3" x2="230.6" y2="627.3" stroke="#1c1cd6" stroke-width="1.7" />
<line x1="220.6" y1="634.9" x2="230.6" y2="634.9" stroke="#1c1cd6" stroke-width="1.7" />
<line x1="250" y1="601.8" x2="250" y2="629.1" stroke="#2a2ad8" stroke-width="2" />
<line x1="245" y1="601.8" x2="255" y2="601.8" stroke="#2a2ad8" stroke-width="1.7" />
<line x1="245" y1="629.1" x2="255" y2="629.1" stroke="#2a2ad8" stroke-width="1.7" />
<line x1="274.5" y1="597.7" x2="274.5" y2="608.6" stroke="#d81c1c" stroke-width="2" />
<line x1="269.5" y1="597.7" x2="279.5" y2="597.7" stroke="#d81c1c" stroke-width="1.7" />
<line x1="269.5" y1="608.6" x2="279.5" y2="608.6" stroke="#d81c1c" stroke-width="1.7" />
<line x1="298.9" y1="614.7" x2="298.9" y2="625.4" stroke="#d81c1c" stroke-width="2" />
<line x1="293.9" y1="614.7" x2="303.9" y2="614.7" stroke="#d81c1c" stroke-width="1.7" />
<line x1="293.9" y1="625.4" x2="303.9" y2="625.4" stroke="#d81c1c" stroke-width="1.7" />
<path d="M225.4 486.2 L225.4 452.4 L274.3 452.4 L274.3 458.5" stroke="#151515" stroke-width="1.4" fill="none"/>
<path d="M277.1 458.5 L277.1 452.4 L299.2 452.4 L299.2 542.6" stroke="#151515" stroke-width="1.4" fill="none"/>
<text x="246.3" y="451.26" font-size="11.5" font-weight="bold" font-style="normal" text-anchor="middle" fill="#000" >*</text>
<text x="252.9" y="451.26" font-size="11.5" font-weight="bold" font-style="normal" text-anchor="middle" fill="#000" >*</text>
<text x="276.3" y="447.1" font-size="9.7" font-weight="bold" font-style="normal" text-anchor="start" fill="#000" >P=0.1</text>
<line x1="223" y1="679.8" x2="228" y2="679.8" stroke="#000" stroke-width="1.5" />
<line x1="225.5" y1="677.3" x2="225.5" y2="682.3" stroke="#000" stroke-width="1.5" />
<line x1="247.1" y1="679.8" x2="252.1" y2="679.8" stroke="#000" stroke-width="1.5" />
<line x1="249.6" y1="677.3" x2="249.6" y2="682.3" stroke="#000" stroke-width="1.5" />
<line x1="272.3" y1="679.8" x2="277.3" y2="679.8" stroke="#000" stroke-width="1.5" />
<line x1="296.4" y1="679.8" x2="301.4" y2="679.8" stroke="#000" stroke-width="1.5" />
<line x1="223" y1="689.6" x2="228" y2="689.6" stroke="#000" stroke-width="1.5" />
<line x1="247.1" y1="689.6" x2="252.1" y2="689.6" stroke="#000" stroke-width="1.5" />
<line x1="272.3" y1="689.6" x2="277.3" y2="689.6" stroke="#000" stroke-width="1.5" />
<line x1="274.8" y1="687.1" x2="274.8" y2="692.1" stroke="#000" stroke-width="1.5" />
<line x1="296.4" y1="689.6" x2="301.4" y2="689.6" stroke="#000" stroke-width="1.5" />
<line x1="298.9" y1="687.1" x2="298.9" y2="692.1" stroke="#000" stroke-width="1.5" />
<line x1="223" y1="698.8" x2="228" y2="698.8" stroke="#000" stroke-width="1.5" />
<line x1="225.5" y1="696.3" x2="225.5" y2="701.3" stroke="#000" stroke-width="1.5" />
<line x1="247.1" y1="698.8" x2="252.1" y2="698.8" stroke="#000" stroke-width="1.5" />
<line x1="272.3" y1="698.8" x2="277.3" y2="698.8" stroke="#000" stroke-width="1.5" />
<line x1="274.8" y1="696.3" x2="274.8" y2="701.3" stroke="#000" stroke-width="1.5" />
<line x1="296.4" y1="698.8" x2="301.4" y2="698.8" stroke="#000" stroke-width="1.5" />
<line x1="223" y1="709" x2="228" y2="709" stroke="#000" stroke-width="1.5" />
<line x1="247.1" y1="709" x2="252.1" y2="709" stroke="#000" stroke-width="1.5" />
<line x1="249.6" y1="706.5" x2="249.6" y2="711.5" stroke="#000" stroke-width="1.5" />
<line x1="272.3" y1="709" x2="277.3" y2="709" stroke="#000" stroke-width="1.5" />
<line x1="296.4" y1="709" x2="301.4" y2="709" stroke="#000" stroke-width="1.5" />
<line x1="298.9" y1="706.5" x2="298.9" y2="711.5" stroke="#000" stroke-width="1.5" />
<text x="358.4" y="435" font-size="14" font-weight="bold" font-style="italic" text-anchor="start" fill="#000" >Mmp2</text>
<rect x="336" y="633.2" width="19.7" height="31.1" fill="none" stroke="#1c1cd6" stroke-width="1.8"/>
<rect x="360.2" y="627.1" width="19.9" height="37.2" fill="none" stroke="#5a5ae6" stroke-width="1.4"/>
<rect x="384.8" y="621.8" width="20" height="42.5" fill="none" stroke="#d81c1c" stroke-width="1.6"/>
<rect x="409.2" y="619.2" width="20" height="45.1" fill="none" stroke="#d81c1c" stroke-width="1.6"/>
<circle cx="343.9" cy="603.8" r="2.5" fill="none" stroke="#6f6fe8" stroke-width="1.1"/>
<circle cx="347.8" cy="605" r="2.5" fill="none" stroke="#6f6fe8" stroke-width="1.1"/>
<circle cx="345.8" cy="617.7" r="2.5" fill="none" stroke="#6f6fe8" stroke-width="1.1"/>
<circle cx="345.8" cy="623.9" r="2.5" fill="none" stroke="#6f6fe8" stroke-width="1.1"/>
<circle cx="340.5" cy="628.6" r="2.5" fill="none" stroke="#6f6fe8" stroke-width="1.1"/>
<circle cx="351.2" cy="631.5" r="2.5" fill="none" stroke="#6f6fe8" stroke-width="1.1"/>
<circle cx="336.6" cy="636.6" r="2.5" fill="none" stroke="#6f6fe8" stroke-width="1.1"/>
<circle cx="343.9" cy="636.6" r="2.5" fill="none" stroke="#6f6fe8" stroke-width="1.1"/>
<circle cx="354.5" cy="635.6" r="2.5" fill="none" stroke="#6f6fe8" stroke-width="1.1"/>
<circle cx="340.5" cy="641.5" r="2.5" fill="none" stroke="#6f6fe8" stroke-width="1.1"/>
<circle cx="347.8" cy="640" r="2.5" fill="none" stroke="#6f6fe8" stroke-width="1.1"/>
<circle cx="351.2" cy="641.8" r="2.5" fill="none" stroke="#6f6fe8" stroke-width="1.1"/>
<circle cx="340.5" cy="646.9" r="2.5" fill="none" stroke="#6f6fe8" stroke-width="1.1"/>
<circle cx="347.8" cy="644.7" r="2.5" fill="none" stroke="#6f6fe8" stroke-width="1.1"/>
<path d="M366.7 584.2 L373.5 584.2 L370.1 589.8 Z" fill="none" stroke="#6f6fe8" stroke-width="1.1" stroke-linejoin="miter"/>
<path d="M361.6 615.3 L368.4 615.3 L365 620.9 Z" fill="none" stroke="#6f6fe8" stroke-width="1.1" stroke-linejoin="miter"/>
<path d="M371.1 612.4 L377.9 612.4 L374.5 618 Z" fill="none" stroke="#6f6fe8" stroke-width="1.1" stroke-linejoin="miter"/>
<path d="M361.6 625.1 L368.4 625.1 L365 630.7 Z" fill="none" stroke="#6f6fe8" stroke-width="1.1" stroke-linejoin="miter"/>
<path d="M371.1 620.3 L377.9 620.3 L374.5 625.9 Z" fill="none" stroke="#6f6fe8" stroke-width="1.1" stroke-linejoin="miter"/>
<path d="M366.7 632.8 L373.5 632.8 L370.1 638.4 Z" fill="none" stroke="#6f6fe8" stroke-width="1.1" stroke-linejoin="miter"/>
<path d="M361.6 644.5 L368.4 644.5 L365 650.1 Z" fill="none" stroke="#6f6fe8" stroke-width="1.1" stroke-linejoin="miter"/>
<path d="M371.1 641.6 L377.9 641.6 L374.5 647.2 Z" fill="none" stroke="#6f6fe8" stroke-width="1.1" stroke-linejoin="miter"/>
<circle cx="385.8" cy="605.5" r="2.5" fill="none" stroke="#f08585" stroke-width="1.1"/>
<circle cx="394.2" cy="605.5" r="2.5" fill="none" stroke="#f08585" stroke-width="1.1"/>
<circle cx="403.7" cy="604.1" r="2.5" fill="none" stroke="#f08585" stroke-width="1.1"/>
<circle cx="385.8" cy="613.7" r="2.5" fill="none" stroke="#f08585" stroke-width="1.1"/>
<circle cx="394.2" cy="615.5" r="2.5" fill="none" stroke="#f08585" stroke-width="1.1"/>
<circle cx="385.8" cy="623.1" r="2.5" fill="none" stroke="#f08585" stroke-width="1.1"/>
<circle cx="403.7" cy="623.1" r="2.5" fill="none" stroke="#f08585" stroke-width="1.1"/>
<circle cx="385.8" cy="628.9" r="2.5" fill="none" stroke="#f08585" stroke-width="1.1"/>
<circle cx="394.2" cy="628.6" r="2.5" fill="none" stroke="#f08585" stroke-width="1.1"/>
<circle cx="403.7" cy="627.9" r="2.5" fill="none" stroke="#f08585" stroke-width="1.1"/>
<circle cx="403.7" cy="633" r="2.5" fill="none" stroke="#f08585" stroke-width="1.1"/>
<circle cx="385.8" cy="637.1" r="2.5" fill="none" stroke="#f08585" stroke-width="1.1"/>
<path d="M412.7 571.8 L419.5 571.8 L416.1 577.4 Z" fill="none" stroke="#f08585" stroke-width="1.1" stroke-linejoin="miter"/>
<path d="M418.6 568.6 L425.4 568.6 L422 574.2 Z" fill="none" stroke="#f08585" stroke-width="1.1" stroke-linejoin="miter"/>
<path d="M415.4 581.3 L422.2 581.3 L418.8 586.9 Z" fill="none" stroke="#f08585" stroke-width="1.1" stroke-linejoin="miter"/>
<path d="M406.6 616.3 L413.4 616.3 L410 621.9 Z" fill="none" stroke="#f08585" stroke-width="1.1" stroke-linejoin="miter"/>
<path d="M412 615.6 L418.8 615.6 L415.4 621.2 Z" fill="none" stroke="#f08585" stroke-width="1.1" stroke-linejoin="miter"/>
<path d="M423.7 618.5 L430.5 618.5 L427.1 624.1 Z" fill="none" stroke="#f08585" stroke-width="1.1" stroke-linejoin="miter"/>
<path d="M412.7 627 L419.5 627 L416.1 632.6 Z" fill="none" stroke="#f08585" stroke-width="1.1" stroke-linejoin="miter"/>
<path d="M418.6 628.7 L425.4 628.7 L422 634.3 Z" fill="none" stroke="#f08585" stroke-width="1.1" stroke-linejoin="miter"/>
<path d="M412.7 632.8 L419.5 632.8 L416.1 638.4 Z" fill="none" stroke="#f08585" stroke-width="1.1" stroke-linejoin="miter"/>
<path d="M418.6 635.7 L425.4 635.7 L422 641.3 Z" fill="none" stroke="#f08585" stroke-width="1.1" stroke-linejoin="miter"/>
<path d="M415.4 641.6 L422.2 641.6 L418.8 647.2 Z" fill="none" stroke="#f08585" stroke-width="1.1" stroke-linejoin="miter"/>
<line x1="345.8" y1="628.6" x2="345.8" y2="635.2" stroke="#1c1cd6" stroke-width="2" />
<line x1="340.8" y1="628.6" x2="350.8" y2="628.6" stroke="#1c1cd6" stroke-width="1.7" />
<line x1="340.8" y1="635.2" x2="350.8" y2="635.2" stroke="#1c1cd6" stroke-width="1.7" />
<line x1="370.1" y1="619.9" x2="370.1" y2="631.8" stroke="#2a2ad8" stroke-width="2" />
<line x1="365.1" y1="619.9" x2="375.1" y2="619.9" stroke="#2a2ad8" stroke-width="1.7" />
<line x1="365.1" y1="631.8" x2="375.1" y2="631.8" stroke="#2a2ad8" stroke-width="1.7" />
<line x1="394.2" y1="617.2" x2="394.2" y2="624" stroke="#d81c1c" stroke-width="2" />
<line x1="389.2" y1="617.2" x2="399.2" y2="617.2" stroke="#d81c1c" stroke-width="1.7" />
<line x1="389.2" y1="624" x2="399.2" y2="624" stroke="#d81c1c" stroke-width="1.7" />
<line x1="418.8" y1="609.6" x2="418.8" y2="624" stroke="#d81c1c" stroke-width="2" />
<line x1="413.8" y1="609.6" x2="423.8" y2="609.6" stroke="#d81c1c" stroke-width="1.7" />
<line x1="413.8" y1="624" x2="423.8" y2="624" stroke="#d81c1c" stroke-width="1.7" />
<path d="M343.7 485.7 L343.7 452.2 L395 452.2 L395 456.8" stroke="#151515" stroke-width="1.4" fill="none"/>
<text x="354.6" y="447.1" font-size="9.7" font-weight="bold" font-style="normal" text-anchor="start" fill="#000" >P=0.09</text>
<line x1="343.8" y1="679.8" x2="348.8" y2="679.8" stroke="#000" stroke-width="1.5" />
<line x1="346.3" y1="677.3" x2="346.3" y2="682.3" stroke="#000" stroke-width="1.5" />
<line x1="368.1" y1="679.8" x2="373.1" y2="679.8" stroke="#000" stroke-width="1.5" />
<line x1="370.6" y1="677.3" x2="370.6" y2="682.3" stroke="#000" stroke-width="1.5" />
<line x1="393.3" y1="679.8" x2="398.3" y2="679.8" stroke="#000" stroke-width="1.5" />
<line x1="417.5" y1="679.8" x2="422.5" y2="679.8" stroke="#000" stroke-width="1.5" />
<line x1="343.8" y1="689.6" x2="348.8" y2="689.6" stroke="#000" stroke-width="1.5" />
<line x1="368.1" y1="689.6" x2="373.1" y2="689.6" stroke="#000" stroke-width="1.5" />
<line x1="393.3" y1="689.6" x2="398.3" y2="689.6" stroke="#000" stroke-width="1.5" />
<line x1="395.8" y1="687.1" x2="395.8" y2="692.1" stroke="#000" stroke-width="1.5" />
<line x1="417.5" y1="689.6" x2="422.5" y2="689.6" stroke="#000" stroke-width="1.5" />
<line x1="420" y1="687.1" x2="420" y2="692.1" stroke="#000" stroke-width="1.5" />
<line x1="343.8" y1="698.8" x2="348.8" y2="698.8" stroke="#000" stroke-width="1.5" />
<line x1="346.3" y1="696.3" x2="346.3" y2="701.3" stroke="#000" stroke-width="1.5" />
<line x1="368.1" y1="698.8" x2="373.1" y2="698.8" stroke="#000" stroke-width="1.5" />
<line x1="393.3" y1="698.8" x2="398.3" y2="698.8" stroke="#000" stroke-width="1.5" />
<line x1="395.8" y1="696.3" x2="395.8" y2="701.3" stroke="#000" stroke-width="1.5" />
<line x1="417.5" y1="698.8" x2="422.5" y2="698.8" stroke="#000" stroke-width="1.5" />
<line x1="343.8" y1="709" x2="348.8" y2="709" stroke="#000" stroke-width="1.5" />
<line x1="368.1" y1="709" x2="373.1" y2="709" stroke="#000" stroke-width="1.5" />
<line x1="370.6" y1="706.5" x2="370.6" y2="711.5" stroke="#000" stroke-width="1.5" />
<line x1="393.3" y1="709" x2="398.3" y2="709" stroke="#000" stroke-width="1.5" />
<line x1="417.5" y1="709" x2="422.5" y2="709" stroke="#000" stroke-width="1.5" />
<line x1="420" y1="706.5" x2="420" y2="711.5" stroke="#000" stroke-width="1.5" />
<text x="497.5" y="435" font-size="14" font-weight="bold" font-style="italic" text-anchor="start" fill="#000" >Fn</text>
<rect x="456" y="633.2" width="19.7" height="31.1" fill="none" stroke="#1c1cd6" stroke-width="1.8"/>
<rect x="480.2" y="632.2" width="19.9" height="32.1" fill="none" stroke="#5a5ae6" stroke-width="1.4"/>
<rect x="504.8" y="620.9" width="20" height="43.4" fill="none" stroke="#d81c1c" stroke-width="1.6"/>
<rect x="529.2" y="628.2" width="20" height="36.1" fill="none" stroke="#d81c1c" stroke-width="1.6"/>
<circle cx="465.8" cy="572.4" r="2.5" fill="none" stroke="#6f6fe8" stroke-width="1.1"/>
<circle cx="467.8" cy="616.2" r="2.5" fill="none" stroke="#6f6fe8" stroke-width="1.1"/>
<circle cx="463.9" cy="619.6" r="2.5" fill="none" stroke="#6f6fe8" stroke-width="1.1"/>
<circle cx="460.5" cy="630.8" r="2.5" fill="none" stroke="#6f6fe8" stroke-width="1.1"/>
<circle cx="471.2" cy="631.5" r="2.5" fill="none" stroke="#6f6fe8" stroke-width="1.1"/>
<circle cx="456.6" cy="638.8" r="2.5" fill="none" stroke="#6f6fe8" stroke-width="1.1"/>
<circle cx="463.9" cy="637.4" r="2.5" fill="none" stroke="#6f6fe8" stroke-width="1.1"/>
<circle cx="467.8" cy="641.8" r="2.5" fill="none" stroke="#6f6fe8" stroke-width="1.1"/>
<circle cx="474.5" cy="641.8" r="2.5" fill="none" stroke="#6f6fe8" stroke-width="1.1"/>
<circle cx="456.6" cy="644.4" r="2.5" fill="none" stroke="#6f6fe8" stroke-width="1.1"/>
<circle cx="471.2" cy="646.9" r="2.5" fill="none" stroke="#6f6fe8" stroke-width="1.1"/>
<circle cx="460.5" cy="641.8" r="2.5" fill="none" stroke="#6f6fe8" stroke-width="1.1"/>
<path d="M486.7 598.8 L493.5 598.8 L490.1 604.4 Z" fill="none" stroke="#6f6fe8" stroke-width="1.1" stroke-linejoin="miter"/>
<path d="M486.7 612.7 L493.5 612.7 L490.1 618.3 Z" fill="none" stroke="#6f6fe8" stroke-width="1.1" stroke-linejoin="miter"/>
<path d="M478 628.4 L484.8 628.4 L481.4 634 Z" fill="none" stroke="#6f6fe8" stroke-width="1.1" stroke-linejoin="miter"/>
<path d="M495.5 625.5 L502.3 625.5 L498.9 631.1 Z" fill="none" stroke="#6f6fe8" stroke-width="1.1" stroke-linejoin="miter"/>
<path d="M478 634.6 L484.8 634.6 L481.4 640.2 Z" fill="none" stroke="#6f6fe8" stroke-width="1.1" stroke-linejoin="miter"/>
<path d="M495.5 630.9 L502.3 630.9 L498.9 636.5 Z" fill="none" stroke="#6f6fe8" stroke-width="1.1" stroke-linejoin="miter"/>
<path d="M486.7 636.8 L493.5 636.8 L490.1 642.4 Z" fill="none" stroke="#6f6fe8" stroke-width="1.1" stroke-linejoin="miter"/>
<path d="M495.5 637.5 L502.3 637.5 L498.9 643.1 Z" fill="none" stroke="#6f6fe8" stroke-width="1.1" stroke-linejoin="miter"/>
<path d="M478 641.9 L484.8 641.9 L481.4 647.5 Z" fill="none" stroke="#6f6fe8" stroke-width="1.1" stroke-linejoin="miter"/>
<circle cx="514.2" cy="580.1" r="2.5" fill="none" stroke="#f08585" stroke-width="1.1"/>
<circle cx="514.2" cy="590.7" r="2.5" fill="none" stroke="#f08585" stroke-width="1.1"/>
<circle cx="523.7" cy="616.6" r="2.5" fill="none" stroke="#f08585" stroke-width="1.1"/>
<circle cx="505.8" cy="619.1" r="2.5" fill="none" stroke="#f08585" stroke-width="1.1"/>
<circle cx="505.8" cy="624.2" r="2.5" fill="none" stroke="#f08585" stroke-width="1.1"/>
<circle cx="514.2" cy="621" r="2.5" fill="none" stroke="#f08585" stroke-width="1.1"/>
<circle cx="523.7" cy="625.7" r="2.5" fill="none" stroke="#f08585" stroke-width="1.1"/>
<circle cx="505.8" cy="630.1" r="2.5" fill="none" stroke="#f08585" stroke-width="1.1"/>
<circle cx="514.2" cy="627.9" r="2.5" fill="none" stroke="#f08585" stroke-width="1.1"/>
<circle cx="523.7" cy="632.3" r="2.5" fill="none" stroke="#f08585" stroke-width="1.1"/>
<circle cx="514.2" cy="634.7" r="2.5" fill="none" stroke="#f08585" stroke-width="1.1"/>
<circle cx="514.2" cy="642.5" r="2.5" fill="none" stroke="#f08585" stroke-width="1.1"/>
<path d="M529.8 608.6 L536.6 608.6 L533.2 614.2 Z" fill="none" stroke="#f08585" stroke-width="1.1" stroke-linejoin="miter"/>
<path d="M535.4 609 L542.2 609 L538.8 614.6 Z" fill="none" stroke="#f08585" stroke-width="1.1" stroke-linejoin="miter"/>
<path d="M541.5 607.6 L548.3 607.6 L544.9 613.2 Z" fill="none" stroke="#f08585" stroke-width="1.1" stroke-linejoin="miter"/>
<path d="M532.7 617.1 L539.5 617.1 L536.1 622.7 Z" fill="none" stroke="#f08585" stroke-width="1.1" stroke-linejoin="miter"/>
<path d="M539.3 620.3 L546.1 620.3 L542.7 625.9 Z" fill="none" stroke="#f08585" stroke-width="1.1" stroke-linejoin="miter"/>
<path d="M526.6 628.7 L533.4 628.7 L530 634.3 Z" fill="none" stroke="#f08585" stroke-width="1.1" stroke-linejoin="miter"/>
<path d="M532.7 633.8 L539.5 633.8 L536.1 639.4 Z" fill="none" stroke="#f08585" stroke-width="1.1" stroke-linejoin="miter"/>
<path d="M538.6 633.8 L545.4 633.8 L542 639.4 Z" fill="none" stroke="#f08585" stroke-width="1.1" stroke-linejoin="miter"/>
<path d="M543.7 630.2 L550.5 630.2 L547.1 635.8 Z" fill="none" stroke="#f08585" stroke-width="1.1" stroke-linejoin="miter"/>
<path d="M535.4 643.3 L542.2 643.3 L538.8 648.9 Z" fill="none" stroke="#f08585" stroke-width="1.1" stroke-linejoin="miter"/>
<line x1="465.8" y1="627.4" x2="465.8" y2="635.9" stroke="#1c1cd6" stroke-width="2" />
<line x1="460.8" y1="627.4" x2="470.8" y2="627.4" stroke="#1c1cd6" stroke-width="1.7" />
<line x1="460.8" y1="635.9" x2="470.8" y2="635.9" stroke="#1c1cd6" stroke-width="1.7" />
<line x1="490.1" y1="626.9" x2="490.1" y2="635.2" stroke="#2a2ad8" stroke-width="2" />
<line x1="485.1" y1="626.9" x2="495.1" y2="626.9" stroke="#2a2ad8" stroke-width="1.7" />
<line x1="485.1" y1="635.2" x2="495.1" y2="635.2" stroke="#2a2ad8" stroke-width="1.7" />
<line x1="514.2" y1="615.2" x2="514.2" y2="625.4" stroke="#d81c1c" stroke-width="2" />
<line x1="509.2" y1="615.2" x2="519.2" y2="615.2" stroke="#d81c1c" stroke-width="1.7" />
<line x1="509.2" y1="625.4" x2="519.2" y2="625.4" stroke="#d81c1c" stroke-width="1.7" />
<line x1="538.8" y1="623.5" x2="538.8" y2="629.8" stroke="#d81c1c" stroke-width="2" />
<line x1="533.8" y1="623.5" x2="543.8" y2="623.5" stroke="#d81c1c" stroke-width="1.7" />
<line x1="533.8" y1="629.8" x2="543.8" y2="629.8" stroke="#d81c1c" stroke-width="1.7" />
<path d="M465.4 485.2 L465.4 452.2 L515 452.2 L515 458.2" stroke="#151515" stroke-width="1.4" fill="none"/>
<path d="M517.4 458.2 L517.4 452.2 L539 452.2 L539 539.1" stroke="#151515" stroke-width="1.4" fill="none"/>
<text x="528.5" y="451.06" font-size="11.5" font-weight="bold" font-style="normal" text-anchor="middle" fill="#000" >*</text>
<text x="475.8" y="447.1" font-size="9.7" font-weight="bold" font-style="normal" text-anchor="start" fill="#000" >P=0.06</text>
<line x1="464" y1="679.8" x2="469" y2="679.8" stroke="#000" stroke-width="1.5" />
<line x1="466.5" y1="677.3" x2="466.5" y2="682.3" stroke="#000" stroke-width="1.5" />
<line x1="488.3" y1="679.8" x2="493.3" y2="679.8" stroke="#000" stroke-width="1.5" />
<line x1="490.8" y1="677.3" x2="490.8" y2="682.3" stroke="#000" stroke-width="1.5" />
<line x1="513.1" y1="679.8" x2="518.1" y2="679.8" stroke="#000" stroke-width="1.5" />
<line x1="537.5" y1="679.8" x2="542.5" y2="679.8" stroke="#000" stroke-width="1.5" />
<line x1="464" y1="689.6" x2="469" y2="689.6" stroke="#000" stroke-width="1.5" />
<line x1="488.3" y1="689.6" x2="493.3" y2="689.6" stroke="#000" stroke-width="1.5" />
<line x1="513.1" y1="689.6" x2="518.1" y2="689.6" stroke="#000" stroke-width="1.5" />
<line x1="515.6" y1="687.1" x2="515.6" y2="692.1" stroke="#000" stroke-width="1.5" />
<line x1="537.5" y1="689.6" x2="542.5" y2="689.6" stroke="#000" stroke-width="1.5" />
<line x1="540" y1="687.1" x2="540" y2="692.1" stroke="#000" stroke-width="1.5" />
<line x1="464" y1="698.8" x2="469" y2="698.8" stroke="#000" stroke-width="1.5" />
<line x1="466.5" y1="696.3" x2="466.5" y2="701.3" stroke="#000" stroke-width="1.5" />
<line x1="488.3" y1="698.8" x2="493.3" y2="698.8" stroke="#000" stroke-width="1.5" />
<line x1="513.1" y1="698.8" x2="518.1" y2="698.8" stroke="#000" stroke-width="1.5" />
<line x1="515.6" y1="696.3" x2="515.6" y2="701.3" stroke="#000" stroke-width="1.5" />
<line x1="537.5" y1="698.8" x2="542.5" y2="698.8" stroke="#000" stroke-width="1.5" />
<line x1="464" y1="709" x2="469" y2="709" stroke="#000" stroke-width="1.5" />
<line x1="488.3" y1="709" x2="493.3" y2="709" stroke="#000" stroke-width="1.5" />
<line x1="490.8" y1="706.5" x2="490.8" y2="711.5" stroke="#000" stroke-width="1.5" />
<line x1="513.1" y1="709" x2="518.1" y2="709" stroke="#000" stroke-width="1.5" />
<line x1="537.5" y1="709" x2="542.5" y2="709" stroke="#000" stroke-width="1.5" />
<line x1="540" y1="706.5" x2="540" y2="711.5" stroke="#000" stroke-width="1.5" />
<text x="608.8" y="435" font-size="14" font-weight="bold" font-style="italic" text-anchor="start" fill="#000" >Vegf</text>
<rect x="576" y="633.2" width="19.7" height="31.1" fill="none" stroke="#1c1cd6" stroke-width="1.8"/>
<rect x="600.2" y="633" width="19.9" height="31.3" fill="none" stroke="#5a5ae6" stroke-width="1.4"/>
<rect x="624.8" y="625" width="20" height="39.3" fill="none" stroke="#d81c1c" stroke-width="1.6"/>
<rect x="649.2" y="638.2" width="19.6" height="26.1" fill="none" stroke="#d81c1c" stroke-width="1.6"/>
<circle cx="585.8" cy="607" r="2.5" fill="none" stroke="#6f6fe8" stroke-width="1.1"/>
<circle cx="585.8" cy="612.6" r="2.5" fill="none" stroke="#6f6fe8" stroke-width="1.1"/>
<circle cx="576.6" cy="622" r="2.5" fill="none" stroke="#6f6fe8" stroke-width="1.1"/>
<circle cx="585.8" cy="624.2" r="2.5" fill="none" stroke="#6f6fe8" stroke-width="1.1"/>
<circle cx="594.8" cy="626.4" r="2.5" fill="none" stroke="#6f6fe8" stroke-width="1.1"/>
<circle cx="576.6" cy="627.9" r="2.5" fill="none" stroke="#6f6fe8" stroke-width="1.1"/>
<circle cx="590" cy="630" r="2.5" fill="none" stroke="#6f6fe8" stroke-width="1.1"/>
<circle cx="581" cy="633" r="2.5" fill="none" stroke="#6f6fe8" stroke-width="1.1"/>
<circle cx="576.6" cy="638.8" r="2.5" fill="none" stroke="#6f6fe8" stroke-width="1.1"/>
<circle cx="585.8" cy="639.6" r="2.5" fill="none" stroke="#6f6fe8" stroke-width="1.1"/>
<circle cx="594.1" cy="639.6" r="2.5" fill="none" stroke="#6f6fe8" stroke-width="1.1"/>
<circle cx="581" cy="642.5" r="2.5" fill="none" stroke="#6f6fe8" stroke-width="1.1"/>
<circle cx="590.4" cy="644.7" r="2.5" fill="none" stroke="#6f6fe8" stroke-width="1.1"/>
<circle cx="581" cy="647.6" r="2.5" fill="none" stroke="#6f6fe8" stroke-width="1.1"/>
<circle cx="585.8" cy="643.2" r="2.5" fill="none" stroke="#6f6fe8" stroke-width="1.1"/>
<path d="M606.7 579.1 L613.5 579.1 L610.1 584.7 Z" fill="none" stroke="#6f6fe8" stroke-width="1.1" stroke-linejoin="miter"/>
<path d="M598 628 L604.8 628 L601.4 633.6 Z" fill="none" stroke="#6f6fe8" stroke-width="1.1" stroke-linejoin="miter"/>
<path d="M606.7 628.4 L613.5 628.4 L610.1 634 Z" fill="none" stroke="#6f6fe8" stroke-width="1.1" stroke-linejoin="miter"/>
<path d="M615.5 628.7 L622.3 628.7 L618.9 634.3 Z" fill="none" stroke="#6f6fe8" stroke-width="1.1" stroke-linejoin="miter"/>
<path d="M598 636 L604.8 636 L601.4 641.6 Z" fill="none" stroke="#6f6fe8" stroke-width="1.1" stroke-linejoin="miter"/>
<path d="M606.7 639 L613.5 639 L610.1 644.6 Z" fill="none" stroke="#6f6fe8" stroke-width="1.1" stroke-linejoin="miter"/>
<path d="M615.5 636.8 L622.3 636.8 L618.9 642.4 Z" fill="none" stroke="#6f6fe8" stroke-width="1.1" stroke-linejoin="miter"/>
<path d="M598 643.3 L604.8 643.3 L601.4 648.9 Z" fill="none" stroke="#6f6fe8" stroke-width="1.1" stroke-linejoin="miter"/>
<path d="M615.5 641.9 L622.3 641.9 L618.9 647.5 Z" fill="none" stroke="#6f6fe8" stroke-width="1.1" stroke-linejoin="miter"/>
<circle cx="634.2" cy="587.7" r="2.5" fill="none" stroke="#f08585" stroke-width="1.1"/>
<circle cx="634.2" cy="593.3" r="2.5" fill="none" stroke="#f08585" stroke-width="1.1"/>
<circle cx="643.7" cy="610.4" r="2.5" fill="none" stroke="#f08585" stroke-width="1.1"/>
<circle cx="634.2" cy="614.3" r="2.5" fill="none" stroke="#f08585" stroke-width="1.1"/>
<circle cx="643.7" cy="624.2" r="2.5" fill="none" stroke="#f08585" stroke-width="1.1"/>
<circle cx="643.7" cy="631.2" r="2.5" fill="none" stroke="#f08585" stroke-width="1.1"/>
<circle cx="625.8" cy="634.5" r="2.5" fill="none" stroke="#f08585" stroke-width="1.1"/>
<circle cx="643.7" cy="637.4" r="2.5" fill="none" stroke="#f08585" stroke-width="1.1"/>
<circle cx="634.2" cy="640" r="2.5" fill="none" stroke="#f08585" stroke-width="1.1"/>
<circle cx="643.7" cy="642.9" r="2.5" fill="none" stroke="#f08585" stroke-width="1.1"/>
<circle cx="625.8" cy="644.4" r="2.5" fill="none" stroke="#f08585" stroke-width="1.1"/>
<path d="M655.4 621.4 L662.2 621.4 L658.8 627 Z" fill="none" stroke="#f08585" stroke-width="1.1" stroke-linejoin="miter"/>
<path d="M649.8 627.3 L656.6 627.3 L653.2 632.9 Z" fill="none" stroke="#f08585" stroke-width="1.1" stroke-linejoin="miter"/>
<path d="M646.9 630.9 L653.7 630.9 L650.3 636.5 Z" fill="none" stroke="#f08585" stroke-width="1.1" stroke-linejoin="miter"/>
<path d="M655.4 630.9 L662.2 630.9 L658.8 636.5 Z" fill="none" stroke="#f08585" stroke-width="1.1" stroke-linejoin="miter"/>
<path d="M661.5 630.9 L668.3 630.9 L664.9 636.5 Z" fill="none" stroke="#f08585" stroke-width="1.1" stroke-linejoin="miter"/>
<path d="M664.4 631.7 L671.2 631.7 L667.8 637.3 Z" fill="none" stroke="#f08585" stroke-width="1.1" stroke-linejoin="miter"/>
<path d="M652.7 636 L659.5 636 L656.1 641.6 Z" fill="none" stroke="#f08585" stroke-width="1.1" stroke-linejoin="miter"/>
<path d="M657.8 640.4 L664.6 640.4 L661.2 646 Z" fill="none" stroke="#f08585" stroke-width="1.1" stroke-linejoin="miter"/>
<path d="M655.4 645.5 L662.2 645.5 L658.8 651.1 Z" fill="none" stroke="#f08585" stroke-width="1.1" stroke-linejoin="miter"/>
<line x1="585.8" y1="628.9" x2="585.8" y2="634.5" stroke="#1c1cd6" stroke-width="2" />
<line x1="580.8" y1="628.9" x2="590.8" y2="628.9" stroke="#1c1cd6" stroke-width="1.7" />
<line x1="580.8" y1="634.5" x2="590.8" y2="634.5" stroke="#1c1cd6" stroke-width="1.7" />
<line x1="610.1" y1="625.7" x2="610.1" y2="638.1" stroke="#2a2ad8" stroke-width="2" />
<line x1="605.1" y1="625.7" x2="615.1" y2="625.7" stroke="#2a2ad8" stroke-width="1.7" />
<line x1="605.1" y1="638.1" x2="615.1" y2="638.1" stroke="#2a2ad8" stroke-width="1.7" />
<line x1="634.2" y1="618.7" x2="634.2" y2="628.9" stroke="#d81c1c" stroke-width="2" />
<line x1="629.2" y1="618.7" x2="639.2" y2="618.7" stroke="#d81c1c" stroke-width="1.7" />
<line x1="629.2" y1="628.9" x2="639.2" y2="628.9" stroke="#d81c1c" stroke-width="1.7" />
<line x1="658.8" y1="635.2" x2="658.8" y2="638.8" stroke="#d81c1c" stroke-width="2" />
<line x1="653.8" y1="635.2" x2="663.8" y2="635.2" stroke="#d81c1c" stroke-width="1.7" />
<line x1="653.8" y1="638.8" x2="663.8" y2="638.8" stroke="#d81c1c" stroke-width="1.7" />
<line x1="584.5" y1="679.8" x2="589.5" y2="679.8" stroke="#000" stroke-width="1.5" />
<line x1="587" y1="677.3" x2="587" y2="682.3" stroke="#000" stroke-width="1.5" />
<line x1="608.5" y1="679.8" x2="613.5" y2="679.8" stroke="#000" stroke-width="1.5" />
<line x1="611" y1="677.3" x2="611" y2="682.3" stroke="#000" stroke-width="1.5" />
<line x1="634" y1="679.8" x2="639" y2="679.8" stroke="#000" stroke-width="1.5" />
<line x1="658.5" y1="679.8" x2="663.5" y2="679.8" stroke="#000" stroke-width="1.5" />
<line x1="584.5" y1="689.6" x2="589.5" y2="689.6" stroke="#000" stroke-width="1.5" />
<line x1="608.5" y1="689.6" x2="613.5" y2="689.6" stroke="#000" stroke-width="1.5" />
<line x1="634" y1="689.6" x2="639" y2="689.6" stroke="#000" stroke-width="1.5" />
<line x1="636.5" y1="687.1" x2="636.5" y2="692.1" stroke="#000" stroke-width="1.5" />
<line x1="658.5" y1="689.6" x2="663.5" y2="689.6" stroke="#000" stroke-width="1.5" />
<line x1="661" y1="687.1" x2="661" y2="692.1" stroke="#000" stroke-width="1.5" />
<line x1="584.5" y1="698.8" x2="589.5" y2="698.8" stroke="#000" stroke-width="1.5" />
<line x1="587" y1="696.3" x2="587" y2="701.3" stroke="#000" stroke-width="1.5" />
<line x1="608.5" y1="698.8" x2="613.5" y2="698.8" stroke="#000" stroke-width="1.5" />
<line x1="634" y1="698.8" x2="639" y2="698.8" stroke="#000" stroke-width="1.5" />
<line x1="636.5" y1="696.3" x2="636.5" y2="701.3" stroke="#000" stroke-width="1.5" />
<line x1="658.5" y1="698.8" x2="663.5" y2="698.8" stroke="#000" stroke-width="1.5" />
<line x1="584.5" y1="709" x2="589.5" y2="709" stroke="#000" stroke-width="1.5" />
<line x1="608.5" y1="709" x2="613.5" y2="709" stroke="#000" stroke-width="1.5" />
<line x1="611" y1="706.5" x2="611" y2="711.5" stroke="#000" stroke-width="1.5" />
<line x1="634" y1="709" x2="639" y2="709" stroke="#000" stroke-width="1.5" />
<line x1="658.5" y1="709" x2="663.5" y2="709" stroke="#000" stroke-width="1.5" />
<line x1="661" y1="706.5" x2="661" y2="711.5" stroke="#000" stroke-width="1.5" />
<text x="5.3" y="734" font-size="17.6" font-weight="bold" font-style="normal" text-anchor="start" fill="#000" >F</text>
<defs>
<filter id="bl1" x="-20%" y="-40%" width="140%" height="180%"><feGaussianBlur stdDeviation="1.6"/></filter>
<filter id="bl2" x="-20%" y="-60%" width="140%" height="220%"><feGaussianBlur stdDeviation="1.0"/></filter>
<filter id="bl3" x="-20%" y="-20%" width="140%" height="140%"><feGaussianBlur stdDeviation="2.2"/></filter>
<clipPath id="cf1"><rect x="92.2" y="755.1" width="118.2" height="55.1"/></clipPath>
<clipPath id="cf2"><rect x="92.2" y="813.5" width="118.2" height="15.7"/></clipPath>
<clipPath id="cf3"><rect x="92.2" y="833.3" width="118.2" height="19.0"/></clipPath>
</defs>
<g clip-path="url(#cf1)">
<rect x="92.2" y="755.1" width="118.2" height="55.1" fill="#a2a2a2"/>
<g filter="url(#bl3)">
<rect x="99" y="759" width="21" height="50" fill="#979797"/>
<rect x="156.6" y="761" width="21" height="48" fill="#989898"/>
<rect x="185.8" y="759" width="21" height="50" fill="#939393"/>
<rect x="187" y="763" width="19" height="17" fill="#878787"/>
<rect x="127.5" y="758" width="22" height="54" fill="#4c4c4c"/>
</g>
<g filter="url(#bl1)">
<rect x="128" y="760" width="21" height="18" rx="3" fill="#000"/>
<rect x="129" y="778" width="19" height="13" fill="#2e2e2e"/>
<ellipse cx="138.5" cy="796.5" rx="10.5" ry="2.7" fill="#000"/>
<ellipse cx="109.5" cy="794" rx="10" ry="1.5" fill="#8a8a8a"/>
<ellipse cx="167" cy="797" rx="10" ry="1.6" fill="#878787"/>
<ellipse cx="196" cy="798" rx="10" ry="1.6" fill="#858585"/>
</g>
<rect x="92.2" y="808.2" width="30" height="3" fill="#b8b8b8" filter="url(#bl2)"/>
</g>
<rect x="92.2" y="755.1" width="118.2" height="55.1" fill="none" stroke="#1a1a1a" stroke-width="1.2"/>
<filter id="bl4" x="-20%" y="-100%" width="140%" height="300%"><feGaussianBlur stdDeviation="0.6"/></filter>
<g clip-path="url(#cf2)"><rect x="92.2" y="813.5" width="118.2" height="15.7" fill="#f7f7f7"/>
<g filter="url(#bl4)">
<rect x="97.3" y="820.0" width="18.7" height="3.2" rx="1.6" fill="#0a0a0a"/>
<rect x="124.2" y="819.6" width="21.7" height="3.8" rx="1.9" fill="#050505"/>
<rect x="154.5" y="819.7" width="18.4" height="3.3" rx="1.6" fill="#0a0a0a"/>
<rect x="183" y="820.3" width="20" height="1.8" rx="0.9" fill="#5a5a5a"/>
<ellipse cx="200.5" cy="820.6" rx="2.6" ry="1.3" fill="#111"/>
</g></g>
<rect x="92.2" y="813.5" width="118.2" height="15.7" fill="none" stroke="#1a1a1a" stroke-width="1.2"/>
<g clip-path="url(#cf3)"><rect x="92.2" y="833.3" width="118.2" height="19.0" fill="#f5f5f5"/>
<g filter="url(#bl2)">
<rect x="96" y="840" width="22" height="7" rx="3" fill="#bdbdbd"/>
<rect x="121" y="839" width="26" height="8" rx="3" fill="#bbbbbb"/>
<rect x="96.5" y="840.3" width="21" height="4.6" rx="2.3" fill="#151515"/>
<rect x="121.5" y="839.0" width="25" height="6.6" rx="3" fill="#030303"/>
<rect x="151.5" y="839.6" width="22" height="5.2" rx="2.5" fill="#0c0c0c"/>
<rect x="180" y="839.2" width="24.5" height="5.4" rx="2.6" fill="#111"/>
</g></g>
<rect x="92.2" y="833.3" width="118.2" height="19.0" fill="none" stroke="#1a1a1a" stroke-width="1.2"/>
<text x="25.5" y="788" font-size="12.6" font-weight="bold" font-style="normal" text-anchor="start" fill="#000" >220 kDa</text>
<text x="27.4" y="826" font-size="12.6" font-weight="bold" font-style="normal" text-anchor="start" fill="#000" >139 kDa</text>
<text x="30.1" y="846.4" font-size="12.6" font-weight="bold" font-style="normal" text-anchor="start" fill="#000" >98 kDa</text>
<path d="M75 779.2 L88 784.2 L75 789.2 Z" fill="#000"/>
<path d="M75 816.6 L88 821.6 L75 826.6 Z" fill="#000"/>
<path d="M75 836.6 L88 841.6 L75 846.6 Z" fill="#000"/>
<path d="M228.1 816.2 L215.2 821.2 L228.1 826.2 Z" fill="#000"/>
<path d="M228.1 836.5 L215.2 841.5 L228.1 846.5 Z" fill="#000"/>
<path d="M215.4 762.5 C220.5 762.5 221.3 764 221.3 768 L221.3 780 C221.3 784 222.5 785.7 227 785.7 C222.5 785.7 221.3 787.4 221.3 791.4 L221.3 802 C221.3 806 220.5 806.6 215.4 806.6" fill="none" stroke="#333" stroke-width="0.9"/>
<text x="233.6" y="788.9" font-size="12.6" font-weight="bold" font-style="normal" text-anchor="start" fill="#000" >Fn</text>
<text x="232" y="825.9" font-size="12.6" font-weight="bold" font-style="normal" text-anchor="start" fill="#000" >Collagen III</text>
<text x="232" y="845.8" font-size="12.6" font-weight="bold" font-style="normal" text-anchor="start" fill="#000" >Calnexin</text>
<text x="71.2" y="862.54" font-size="8.3" font-weight="bold" font-style="normal" text-anchor="start" fill="#000" >ND</text>
<text x="71.2" y="873.04" font-size="8.3" font-weight="bold" font-style="normal" text-anchor="start" fill="#000" >D</text>
<text x="71.2" y="882.64" font-size="8.3" font-weight="bold" font-style="normal" text-anchor="start" fill="#000" >Veh</text>
<text x="71.2" y="892.44" font-size="8.3" font-weight="bold">LXA<tspan font-size="5.15" dy="2.4">4</tspan></text>
<line x1="102.4" y1="859.8" x2="107.4" y2="859.8" stroke="#000" stroke-width="1.5" />
<line x1="104.9" y1="857.3" x2="104.9" y2="862.3" stroke="#000" stroke-width="1.5" />
<line x1="131.1" y1="859.8" x2="136.1" y2="859.8" stroke="#000" stroke-width="1.5" />
<line x1="159.1" y1="859.8" x2="164.1" y2="859.8" stroke="#000" stroke-width="1.5" />
<line x1="161.6" y1="857.3" x2="161.6" y2="862.3" stroke="#000" stroke-width="1.5" />
<line x1="190.2" y1="859.8" x2="195.2" y2="859.8" stroke="#000" stroke-width="1.5" />
<line x1="102.4" y1="870.3" x2="107.4" y2="870.3" stroke="#000" stroke-width="1.5" />
<line x1="131.1" y1="870.3" x2="136.1" y2="870.3" stroke="#000" stroke-width="1.5" />
<line x1="133.6" y1="867.8" x2="133.6" y2="872.8" stroke="#000" stroke-width="1.5" />
<line x1="159.1" y1="870.3" x2="164.1" y2="870.3" stroke="#000" stroke-width="1.5" />
<line x1="190.2" y1="870.3" x2="195.2" y2="870.3" stroke="#000" stroke-width="1.5" />
<line x1="192.7" y1="867.8" x2="192.7" y2="872.8" stroke="#000" stroke-width="1.5" />
<line x1="102.4" y1="879.9" x2="107.4" y2="879.9" stroke="#000" stroke-width="1.5" />
<line x1="104.9" y1="877.4" x2="104.9" y2="882.4" stroke="#000" stroke-width="1.5" />
<line x1="131.1" y1="879.9" x2="136.1" y2="879.9" stroke="#000" stroke-width="1.5" />
<line x1="133.6" y1="877.4" x2="133.6" y2="882.4" stroke="#000" stroke-width="1.5" />
<line x1="159.1" y1="879.9" x2="164.1" y2="879.9" stroke="#000" stroke-width="1.5" />
<line x1="190.2" y1="879.9" x2="195.2" y2="879.9" stroke="#000" stroke-width="1.5" />
<line x1="102.4" y1="889.7" x2="107.4" y2="889.7" stroke="#000" stroke-width="1.5" />
<line x1="131.1" y1="889.7" x2="136.1" y2="889.7" stroke="#000" stroke-width="1.5" />
<line x1="159.1" y1="889.7" x2="164.1" y2="889.7" stroke="#000" stroke-width="1.5" />
<line x1="161.6" y1="887.2" x2="161.6" y2="892.2" stroke="#000" stroke-width="1.5" />
<line x1="190.2" y1="889.7" x2="195.2" y2="889.7" stroke="#000" stroke-width="1.5" />
<line x1="192.7" y1="887.2" x2="192.7" y2="892.2" stroke="#000" stroke-width="1.5" />
<text x="313.4" y="734" font-size="20" font-weight="bold" font-style="normal" text-anchor="start" fill="#000" >G</text>
<text x="379" y="798.2" font-size="9.3" font-weight="bold" text-anchor="middle" transform="rotate(-90 379 798.2)" >LV fibrotic proteins</text>
<text x="389.8" y="799.2" font-size="9.6" font-weight="bold" text-anchor="middle" transform="rotate(-90 389.8 799.2)" >(/Calnexin. ratio)</text>
<line x1="399.5" y1="750.3" x2="399.5" y2="764.6" stroke="#151515" stroke-width="1.3" />
<line x1="396.4" y1="750.9" x2="400.1" y2="750.9" stroke="#151515" stroke-width="1.2" />
<line x1="396.4" y1="761.3" x2="399.5" y2="761.3" stroke="#151515" stroke-width="1.2" />
<line x1="397.4" y1="764.6" x2="400.9" y2="764.6" stroke="#151515" stroke-width="1.3" />
<line x1="399.5" y1="769.5" x2="399.5" y2="852" stroke="#151515" stroke-width="1.3" />
<line x1="397.4" y1="769.5" x2="400.9" y2="769.5" stroke="#151515" stroke-width="1.3" />
<line x1="396.2" y1="783.4" x2="399.5" y2="783.4" stroke="#151515" stroke-width="1.2" />
<line x1="396.2" y1="817.5" x2="399.5" y2="817.5" stroke="#151515" stroke-width="1.2" />
<line x1="396.2" y1="851.4" x2="399.5" y2="851.4" stroke="#151515" stroke-width="1.2" />
<text x="395.3" y="753.9" font-size="9" font-weight="bold" font-style="normal" text-anchor="end" fill="#000" >5</text>
<text x="395.3" y="764.5" font-size="9" font-weight="bold" font-style="normal" text-anchor="end" fill="#000" >3</text>
<text x="395.3" y="786.4" font-size="9" font-weight="bold" font-style="normal" text-anchor="end" fill="#000" >2</text>
<text x="395.3" y="820.5" font-size="9" font-weight="bold" font-style="normal" text-anchor="end" fill="#000" >1</text>
<text x="395.3" y="854.4" font-size="9" font-weight="bold" font-style="normal" text-anchor="end" fill="#000" >0</text>
<line x1="400.5" y1="851.4" x2="607" y2="851.4" stroke="#5a5a5a" stroke-width="1" stroke-dasharray="1 1.5"/>
<line x1="405.9" y1="858" x2="609.5" y2="858" stroke="#000" stroke-width="1.8" />
<text x="441" y="731.3" font-size="12" font-weight="bold" font-style="normal" text-anchor="start" fill="#000" >Fn</text>
<text x="528" y="728.7" font-size="12.6" font-weight="bold" font-style="normal" text-anchor="start" fill="#000" >Collagen III</text>
<text x="536.2" y="740.7" font-size="9.5" font-weight="bold" font-style="normal" text-anchor="start" fill="#000" >P=0.08</text>
<rect x="408.68" y="818.88" width="17.35" height="32.82" fill="none" stroke="#1c1cd6" stroke-width="1.35"/>
<rect x="432.38" y="821.17" width="16.25" height="30.52" fill="none" stroke="#3c3cdc" stroke-width="1.35"/>
<rect x="455.28" y="787.67" width="16.55" height="64.02" fill="none" stroke="#dc2020" stroke-width="1.35"/>
<rect x="478.28" y="815.67" width="16.55" height="36.02" fill="none" stroke="#d84040" stroke-width="1.35"/>
<rect x="520.27" y="818.67" width="16.35" height="33.02" fill="none" stroke="#1c1cd6" stroke-width="1.35"/>
<rect x="543.27" y="812.97" width="16.75" height="38.72" fill="none" stroke="#3c3cdc" stroke-width="1.35"/>
<rect x="566.17" y="806.57" width="16.65" height="45.12" fill="none" stroke="#dc2020" stroke-width="1.35"/>
<rect x="589.27" y="821.57" width="16.85" height="30.12" fill="none" stroke="#d84040" stroke-width="1.35"/>
<circle cx="413.4" cy="799.5" r="2.2" fill="none" stroke="#6f6fe8" stroke-width="1"/>
<circle cx="420.7" cy="801.5" r="2.2" fill="none" stroke="#6f6fe8" stroke-width="1"/>
<circle cx="417.3" cy="805.4" r="2.2" fill="none" stroke="#6f6fe8" stroke-width="1"/>
<circle cx="417.3" cy="816.3" r="2.2" fill="none" stroke="#6f6fe8" stroke-width="1"/>
<circle cx="409.8" cy="835" r="2.2" fill="none" stroke="#6f6fe8" stroke-width="1"/>
<circle cx="417.3" cy="831.6" r="2.2" fill="none" stroke="#6f6fe8" stroke-width="1"/>
<circle cx="424.6" cy="833.4" r="2.2" fill="none" stroke="#6f6fe8" stroke-width="1"/>
<path d="M437.6 777.05 L442.8 777.05 L440.2 781.35 Z" fill="none" stroke="#6f6fe8" stroke-width="1" stroke-linejoin="miter"/>
<path d="M430.2 825.65 L435.4 825.65 L432.8 829.95 Z" fill="none" stroke="#6f6fe8" stroke-width="1" stroke-linejoin="miter"/>
<path d="M445.1 825.65 L450.3 825.65 L447.7 829.95 Z" fill="none" stroke="#6f6fe8" stroke-width="1" stroke-linejoin="miter"/>
<path d="M437.6 826.85 L442.8 826.85 L440.2 831.15 Z" fill="none" stroke="#6f6fe8" stroke-width="1" stroke-linejoin="miter"/>
<path d="M437.6 832.35 L442.8 832.35 L440.2 836.65 Z" fill="none" stroke="#6f6fe8" stroke-width="1" stroke-linejoin="miter"/>
<circle cx="463.6" cy="756.1" r="2.2" fill="none" stroke="#f08585" stroke-width="1"/>
<circle cx="456.1" cy="782.3" r="2.2" fill="none" stroke="#f08585" stroke-width="1"/>
<circle cx="463.6" cy="784.2" r="2.2" fill="none" stroke="#f08585" stroke-width="1"/>
<circle cx="470.6" cy="783.9" r="2.2" fill="none" stroke="#f08585" stroke-width="1"/>
<circle cx="463.6" cy="795.1" r="2.2" fill="none" stroke="#f08585" stroke-width="1"/>
<circle cx="466.7" cy="820" r="2.2" fill="none" stroke="#f08585" stroke-width="1"/>
<circle cx="459.7" cy="823.6" r="2.2" fill="none" stroke="#f08585" stroke-width="1"/>
<path d="M480 798.05 L485.2 798.05 L482.6 802.35 Z" fill="none" stroke="#f08585" stroke-width="1" stroke-linejoin="miter"/>
<path d="M488.3 798.55 L493.5 798.55 L490.9 802.85 Z" fill="none" stroke="#f08585" stroke-width="1" stroke-linejoin="miter"/>
<path d="M480 806.35 L485.2 806.35 L482.6 810.65 Z" fill="none" stroke="#f08585" stroke-width="1" stroke-linejoin="miter"/>
<path d="M488.3 808.15 L493.5 808.15 L490.9 812.45 Z" fill="none" stroke="#f08585" stroke-width="1" stroke-linejoin="miter"/>
<path d="M484.1 815.15 L489.3 815.15 L486.7 819.45 Z" fill="none" stroke="#f08585" stroke-width="1" stroke-linejoin="miter"/>
<path d="M484.1 824.95 L489.3 824.95 L486.7 829.25 Z" fill="none" stroke="#f08585" stroke-width="1" stroke-linejoin="miter"/>
<path d="M484.1 833.85 L489.3 833.85 L486.7 838.15 Z" fill="none" stroke="#f08585" stroke-width="1" stroke-linejoin="miter"/>
<circle cx="528.1" cy="788.3" r="2.2" fill="none" stroke="#6f6fe8" stroke-width="1"/>
<circle cx="520.6" cy="815.1" r="2.2" fill="none" stroke="#6f6fe8" stroke-width="1"/>
<circle cx="535.7" cy="815.1" r="2.2" fill="none" stroke="#6f6fe8" stroke-width="1"/>
<circle cx="528.1" cy="824.4" r="2.2" fill="none" stroke="#6f6fe8" stroke-width="1"/>
<circle cx="531.8" cy="829.5" r="2.2" fill="none" stroke="#6f6fe8" stroke-width="1"/>
<circle cx="524.4" cy="833.2" r="2.2" fill="none" stroke="#6f6fe8" stroke-width="1"/>
<path d="M541.6 796.85 L546.8 796.85 L544.2 801.15 Z" fill="none" stroke="#6f6fe8" stroke-width="1" stroke-linejoin="miter"/>
<path d="M548.8 796.25 L554 796.25 L551.4 800.55 Z" fill="none" stroke="#6f6fe8" stroke-width="1" stroke-linejoin="miter"/>
<path d="M556 797.35 L561.2 797.35 L558.6 801.65 Z" fill="none" stroke="#6f6fe8" stroke-width="1" stroke-linejoin="miter"/>
<path d="M548.8 823.55 L554 823.55 L551.4 827.85 Z" fill="none" stroke="#6f6fe8" stroke-width="1" stroke-linejoin="miter"/>
<path d="M548.8 832.65 L554 832.65 L551.4 836.95 Z" fill="none" stroke="#6f6fe8" stroke-width="1" stroke-linejoin="miter"/>
<circle cx="574.2" cy="789.4" r="2.2" fill="none" stroke="#f08585" stroke-width="1"/>
<circle cx="574.2" cy="799.5" r="2.2" fill="none" stroke="#f08585" stroke-width="1"/>
<circle cx="567.4" cy="809.1" r="2.2" fill="none" stroke="#f08585" stroke-width="1"/>
<circle cx="581.1" cy="809.1" r="2.2" fill="none" stroke="#f08585" stroke-width="1"/>
<circle cx="574.2" cy="810.7" r="2.2" fill="none" stroke="#f08585" stroke-width="1"/>
<circle cx="574.2" cy="818.8" r="2.2" fill="none" stroke="#f08585" stroke-width="1"/>
<path d="M592.1 809.75 L597.3 809.75 L594.7 814.05 Z" fill="none" stroke="#f08585" stroke-width="1" stroke-linejoin="miter"/>
<path d="M597.8 810.15 L603 810.15 L600.4 814.45 Z" fill="none" stroke="#f08585" stroke-width="1" stroke-linejoin="miter"/>
<path d="M595 812.65 L600.2 812.65 L597.6 816.95 Z" fill="none" stroke="#f08585" stroke-width="1" stroke-linejoin="miter"/>
<path d="M588.1 822.25 L593.3 822.25 L590.7 826.55 Z" fill="none" stroke="#f08585" stroke-width="1" stroke-linejoin="miter"/>
<path d="M593.4 821.45 L598.6 821.45 L596 825.75 Z" fill="none" stroke="#f08585" stroke-width="1" stroke-linejoin="miter"/>
<path d="M598.3 822.25 L603.5 822.25 L600.9 826.55 Z" fill="none" stroke="#f08585" stroke-width="1" stroke-linejoin="miter"/>
<path d="M602.6 821.95 L607.8 821.95 L605.2 826.25 Z" fill="none" stroke="#f08585" stroke-width="1" stroke-linejoin="miter"/>
<line x1="417.3" y1="811.6" x2="417.3" y2="823.8" stroke="#1c1cd6" stroke-width="1.8" />
<line x1="414.5" y1="811.6" x2="420.1" y2="811.6" stroke="#1c1cd6" stroke-width="1.5" />
<line x1="414.5" y1="823.8" x2="420.1" y2="823.8" stroke="#1c1cd6" stroke-width="1.5" />
<line x1="440.2" y1="810" x2="440.2" y2="830.6" stroke="#1c1cd6" stroke-width="1.8" />
<line x1="437.4" y1="810" x2="443" y2="810" stroke="#1c1cd6" stroke-width="1.5" />
<line x1="437.4" y1="830.6" x2="443" y2="830.6" stroke="#1c1cd6" stroke-width="1.5" />
<line x1="463.6" y1="772.3" x2="463.6" y2="800.2" stroke="#d81c1c" stroke-width="1.8" />
<line x1="460.8" y1="772.3" x2="466.4" y2="772.3" stroke="#d81c1c" stroke-width="1.5" />
<line x1="460.8" y1="800.2" x2="466.4" y2="800.2" stroke="#d81c1c" stroke-width="1.5" />
<line x1="486.7" y1="809.5" x2="486.7" y2="819.7" stroke="#d81c1c" stroke-width="1.8" />
<line x1="483.9" y1="809.5" x2="489.5" y2="809.5" stroke="#d81c1c" stroke-width="1.5" />
<line x1="483.9" y1="819.7" x2="489.5" y2="819.7" stroke="#d81c1c" stroke-width="1.5" />
<line x1="528.1" y1="811.9" x2="528.1" y2="823.1" stroke="#1c1cd6" stroke-width="1.8" />
<line x1="525.3" y1="811.9" x2="530.9" y2="811.9" stroke="#1c1cd6" stroke-width="1.5" />
<line x1="525.3" y1="823.1" x2="530.9" y2="823.1" stroke="#1c1cd6" stroke-width="1.5" />
<line x1="551.4" y1="804.3" x2="551.4" y2="820.4" stroke="#1c1cd6" stroke-width="1.8" />
<line x1="548.6" y1="804.3" x2="554.2" y2="804.3" stroke="#1c1cd6" stroke-width="1.5" />
<line x1="548.6" y1="820.4" x2="554.2" y2="820.4" stroke="#1c1cd6" stroke-width="1.5" />
<line x1="574.2" y1="802.7" x2="574.2" y2="809.1" stroke="#d81c1c" stroke-width="1.8" />
<line x1="571.4" y1="802.7" x2="577" y2="802.7" stroke="#d81c1c" stroke-width="1.5" />
<line x1="571.4" y1="809.1" x2="577" y2="809.1" stroke="#d81c1c" stroke-width="1.5" />
<line x1="597.6" y1="817.6" x2="597.6" y2="822" stroke="#d81c1c" stroke-width="1.8" />
<line x1="594.8" y1="817.6" x2="600.4" y2="817.6" stroke="#d81c1c" stroke-width="1.5" />
<line x1="594.8" y1="822" x2="600.4" y2="822" stroke="#d81c1c" stroke-width="1.5" />
<path d="M415.8 788.3 L415.8 750.3 L462.4 750.3 L462.4 752.6" stroke="#151515" stroke-width="1.2" fill="none"/>
<path d="M464.2 752.6 L464.2 750.3 L486.3 750.3 L486.3 788.3" stroke="#151515" stroke-width="1.2" fill="none"/>
<path d="M528.1 782.6 L528.1 744.4 L573.1 744.4 L573.1 773" stroke="#151515" stroke-width="1.2" fill="none"/>
<path d="M575.2 773 L575.2 744.4 L597.6 744.4 L597.6 805.1" stroke="#151515" stroke-width="1.2" fill="none"/>
<text x="439.3" y="750.47" font-size="13" font-weight="bold" font-style="normal" text-anchor="middle" fill="#000" >*</text>
<text x="475.3" y="750.47" font-size="13" font-weight="bold" font-style="normal" text-anchor="middle" fill="#000" >*</text>
<text x="586.3" y="744.99" font-size="10.5" font-weight="bold" font-style="normal" text-anchor="middle" fill="#000" >*</text>
<text x="387.9" y="865.84" font-size="8.3" font-weight="bold" font-style="normal" text-anchor="start" fill="#000" >ND</text>
<text x="387.9" y="875.54" font-size="8.3" font-weight="bold" font-style="normal" text-anchor="start" fill="#000" >D</text>
<text x="387.9" y="885.14" font-size="8.3" font-weight="bold" font-style="normal" text-anchor="start" fill="#000" >Veh</text>
<text x="387.9" y="895.14" font-size="8.3" font-weight="bold">LXA<tspan font-size="5.15" dy="2.4">4</tspan></text>
<line x1="414.3" y1="863.1" x2="419.3" y2="863.1" stroke="#000" stroke-width="1.5" />
<line x1="416.8" y1="860.6" x2="416.8" y2="865.6" stroke="#000" stroke-width="1.5" />
<line x1="437.9" y1="863.1" x2="442.9" y2="863.1" stroke="#000" stroke-width="1.5" />
<line x1="440.4" y1="860.6" x2="440.4" y2="865.6" stroke="#000" stroke-width="1.5" />
<line x1="461.2" y1="863.1" x2="466.2" y2="863.1" stroke="#000" stroke-width="1.5" />
<line x1="485.2" y1="863.1" x2="490.2" y2="863.1" stroke="#000" stroke-width="1.5" />
<line x1="526.1" y1="863.1" x2="531.1" y2="863.1" stroke="#000" stroke-width="1.5" />
<line x1="528.6" y1="860.6" x2="528.6" y2="865.6" stroke="#000" stroke-width="1.5" />
<line x1="549.4" y1="863.1" x2="554.4" y2="863.1" stroke="#000" stroke-width="1.5" />
<line x1="551.9" y1="860.6" x2="551.9" y2="865.6" stroke="#000" stroke-width="1.5" />
<line x1="572.2" y1="863.1" x2="577.2" y2="863.1" stroke="#000" stroke-width="1.5" />
<line x1="595.6" y1="863.1" x2="600.6" y2="863.1" stroke="#000" stroke-width="1.5" />
<line x1="414.3" y1="872.8" x2="419.3" y2="872.8" stroke="#000" stroke-width="1.5" />
<line x1="437.9" y1="872.8" x2="442.9" y2="872.8" stroke="#000" stroke-width="1.5" />
<line x1="461.2" y1="872.8" x2="466.2" y2="872.8" stroke="#000" stroke-width="1.5" />
<line x1="463.7" y1="870.3" x2="463.7" y2="875.3" stroke="#000" stroke-width="1.5" />
<line x1="485.2" y1="872.8" x2="490.2" y2="872.8" stroke="#000" stroke-width="1.5" />
<line x1="487.7" y1="870.3" x2="487.7" y2="875.3" stroke="#000" stroke-width="1.5" />
<line x1="526.1" y1="872.8" x2="531.1" y2="872.8" stroke="#000" stroke-width="1.5" />
<line x1="549.4" y1="872.8" x2="554.4" y2="872.8" stroke="#000" stroke-width="1.5" />
<line x1="572.2" y1="872.8" x2="577.2" y2="872.8" stroke="#000" stroke-width="1.5" />
<line x1="574.7" y1="870.3" x2="574.7" y2="875.3" stroke="#000" stroke-width="1.5" />
<line x1="595.6" y1="872.8" x2="600.6" y2="872.8" stroke="#000" stroke-width="1.5" />
<line x1="598.1" y1="870.3" x2="598.1" y2="875.3" stroke="#000" stroke-width="1.5" />
<line x1="414.3" y1="882.4" x2="419.3" y2="882.4" stroke="#000" stroke-width="1.5" />
<line x1="416.8" y1="879.9" x2="416.8" y2="884.9" stroke="#000" stroke-width="1.5" />
<line x1="437.9" y1="882.4" x2="442.9" y2="882.4" stroke="#000" stroke-width="1.5" />
<line x1="461.2" y1="882.4" x2="466.2" y2="882.4" stroke="#000" stroke-width="1.5" />
<line x1="463.7" y1="879.9" x2="463.7" y2="884.9" stroke="#000" stroke-width="1.5" />
<line x1="485.2" y1="882.4" x2="490.2" y2="882.4" stroke="#000" stroke-width="1.5" />
<line x1="526.1" y1="882.4" x2="531.1" y2="882.4" stroke="#000" stroke-width="1.5" />
<line x1="528.6" y1="879.9" x2="528.6" y2="884.9" stroke="#000" stroke-width="1.5" />
<line x1="549.4" y1="882.4" x2="554.4" y2="882.4" stroke="#000" stroke-width="1.5" />
<line x1="572.2" y1="882.4" x2="577.2" y2="882.4" stroke="#000" stroke-width="1.5" />
<line x1="574.7" y1="879.9" x2="574.7" y2="884.9" stroke="#000" stroke-width="1.5" />
<line x1="595.6" y1="882.4" x2="600.6" y2="882.4" stroke="#000" stroke-width="1.5" />
<line x1="414.3" y1="892.4" x2="419.3" y2="892.4" stroke="#000" stroke-width="1.5" />
<line x1="437.9" y1="892.4" x2="442.9" y2="892.4" stroke="#000" stroke-width="1.5" />
<line x1="440.4" y1="889.9" x2="440.4" y2="894.9" stroke="#000" stroke-width="1.5" />
<line x1="461.2" y1="892.4" x2="466.2" y2="892.4" stroke="#000" stroke-width="1.5" />
<line x1="485.2" y1="892.4" x2="490.2" y2="892.4" stroke="#000" stroke-width="1.5" />
<line x1="487.7" y1="889.9" x2="487.7" y2="894.9" stroke="#000" stroke-width="1.5" />
<line x1="526.1" y1="892.4" x2="531.1" y2="892.4" stroke="#000" stroke-width="1.5" />
<line x1="549.4" y1="892.4" x2="554.4" y2="892.4" stroke="#000" stroke-width="1.5" />
<line x1="551.9" y1="889.9" x2="551.9" y2="894.9" stroke="#000" stroke-width="1.5" />
<line x1="572.2" y1="892.4" x2="577.2" y2="892.4" stroke="#000" stroke-width="1.5" />
<line x1="595.6" y1="892.4" x2="600.6" y2="892.4" stroke="#000" stroke-width="1.5" />
<line x1="598.1" y1="889.9" x2="598.1" y2="894.9" stroke="#000" stroke-width="1.5" />
</svg></body></html>
